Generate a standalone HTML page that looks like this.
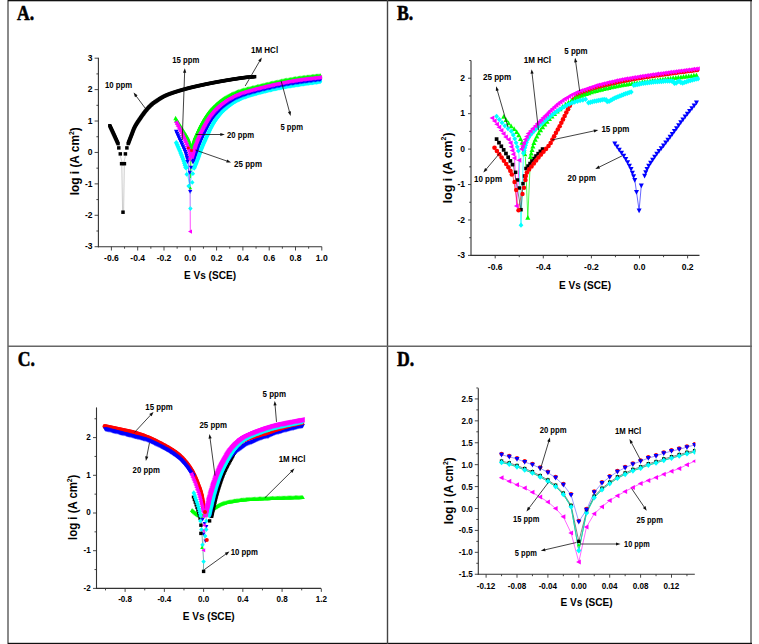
<!DOCTYPE html>
<html><head><meta charset="utf-8"><style>
html,body{margin:0;padding:0;background:#fff;}
body{width:759px;height:644px;overflow:hidden;position:relative;font-family:"Liberation Sans",sans-serif;}
svg{position:absolute;left:0;top:0;}
</style></head><body>
<svg width="759" height="644" viewBox="0 0 759 644">
<rect x="7" y="0" width="2" height="644" fill="#8a8a8a"/>
<rect x="750" y="0" width="2" height="644" fill="#8a8a8a"/>
<rect x="8" y="0" width="744" height="1.3" fill="#111"/>
<rect x="8" y="642.8" width="744" height="1.2" fill="#111"/>
<rect x="386.8" y="0" width="1.4" height="644" fill="#444"/>
<rect x="8" y="345.5" width="744" height="1.5" fill="#666"/>
<text x="17.1" y="20" font-family="Liberation Serif" font-weight="bold" font-size="20.3" textLength="17.17" lengthAdjust="spacingAndGlyphs" fill="#000" stroke="#000" stroke-width="0.55">A.</text>
<text x="397.1" y="20" font-family="Liberation Serif" font-weight="bold" font-size="20.3" textLength="16.2" lengthAdjust="spacingAndGlyphs" fill="#000" stroke="#000" stroke-width="0.55">B.</text>
<text x="17.7" y="365.6" font-family="Liberation Serif" font-weight="bold" font-size="20.3" textLength="17.17" lengthAdjust="spacingAndGlyphs" fill="#000" stroke="#000" stroke-width="0.55">C.</text>
<text x="397.1" y="365.6" font-family="Liberation Serif" font-weight="bold" font-size="20.3" textLength="17.17" lengthAdjust="spacingAndGlyphs" fill="#000" stroke="#000" stroke-width="0.55">D.</text>
<line x1="98.4" y1="57.8" x2="98.4" y2="247.2" stroke="#333" stroke-width="1.1"/>
<line x1="97.9" y1="246.7" x2="321.8" y2="246.7" stroke="#333" stroke-width="1.1"/>
<line x1="94.6" y1="246.71" x2="98.4" y2="246.71" stroke="#333" stroke-width="0.9"/>
<line x1="96.4" y1="231" x2="98.4" y2="231" stroke="#333" stroke-width="0.9"/>
<line x1="94.6" y1="215.29" x2="98.4" y2="215.29" stroke="#333" stroke-width="0.9"/>
<line x1="96.4" y1="199.58" x2="98.4" y2="199.58" stroke="#333" stroke-width="0.9"/>
<line x1="94.6" y1="183.87" x2="98.4" y2="183.87" stroke="#333" stroke-width="0.9"/>
<line x1="96.4" y1="168.16" x2="98.4" y2="168.16" stroke="#333" stroke-width="0.9"/>
<line x1="94.6" y1="152.45" x2="98.4" y2="152.45" stroke="#333" stroke-width="0.9"/>
<line x1="96.4" y1="136.74" x2="98.4" y2="136.74" stroke="#333" stroke-width="0.9"/>
<line x1="94.6" y1="121.03" x2="98.4" y2="121.03" stroke="#333" stroke-width="0.9"/>
<line x1="96.4" y1="105.32" x2="98.4" y2="105.32" stroke="#333" stroke-width="0.9"/>
<line x1="94.6" y1="89.61" x2="98.4" y2="89.61" stroke="#333" stroke-width="0.9"/>
<line x1="96.4" y1="73.9" x2="98.4" y2="73.9" stroke="#333" stroke-width="0.9"/>
<line x1="94.6" y1="58.19" x2="98.4" y2="58.19" stroke="#333" stroke-width="0.9"/>
<line x1="111.4" y1="246.7" x2="111.4" y2="250.5" stroke="#333" stroke-width="0.9"/>
<line x1="124.55" y1="246.7" x2="124.55" y2="248.7" stroke="#333" stroke-width="0.9"/>
<line x1="137.7" y1="246.7" x2="137.7" y2="250.5" stroke="#333" stroke-width="0.9"/>
<line x1="150.85" y1="246.7" x2="150.85" y2="248.7" stroke="#333" stroke-width="0.9"/>
<line x1="164" y1="246.7" x2="164" y2="250.5" stroke="#333" stroke-width="0.9"/>
<line x1="177.15" y1="246.7" x2="177.15" y2="248.7" stroke="#333" stroke-width="0.9"/>
<line x1="190.3" y1="246.7" x2="190.3" y2="250.5" stroke="#333" stroke-width="0.9"/>
<line x1="203.45" y1="246.7" x2="203.45" y2="248.7" stroke="#333" stroke-width="0.9"/>
<line x1="216.6" y1="246.7" x2="216.6" y2="250.5" stroke="#333" stroke-width="0.9"/>
<line x1="229.75" y1="246.7" x2="229.75" y2="248.7" stroke="#333" stroke-width="0.9"/>
<line x1="242.9" y1="246.7" x2="242.9" y2="250.5" stroke="#333" stroke-width="0.9"/>
<line x1="256.05" y1="246.7" x2="256.05" y2="248.7" stroke="#333" stroke-width="0.9"/>
<line x1="269.2" y1="246.7" x2="269.2" y2="250.5" stroke="#333" stroke-width="0.9"/>
<line x1="282.35" y1="246.7" x2="282.35" y2="248.7" stroke="#333" stroke-width="0.9"/>
<line x1="295.5" y1="246.7" x2="295.5" y2="250.5" stroke="#333" stroke-width="0.9"/>
<line x1="308.65" y1="246.7" x2="308.65" y2="248.7" stroke="#333" stroke-width="0.9"/>
<line x1="321.8" y1="246.7" x2="321.8" y2="250.5" stroke="#333" stroke-width="0.9"/>
<text x="85.01" y="249.4" font-family="Liberation Sans" font-weight="bold" font-size="9.7" textLength="7.59" lengthAdjust="spacingAndGlyphs" fill="#000">-3</text>
<text x="85.01" y="217.98" font-family="Liberation Sans" font-weight="bold" font-size="9.7" textLength="7.59" lengthAdjust="spacingAndGlyphs" fill="#000">-2</text>
<text x="85.01" y="186.56" font-family="Liberation Sans" font-weight="bold" font-size="9.7" textLength="7.59" lengthAdjust="spacingAndGlyphs" fill="#000">-1</text>
<text x="87.85" y="155.14" font-family="Liberation Sans" font-weight="bold" font-size="9.7" textLength="4.75" lengthAdjust="spacingAndGlyphs" fill="#000">0</text>
<text x="87.85" y="123.72" font-family="Liberation Sans" font-weight="bold" font-size="9.7" textLength="4.75" lengthAdjust="spacingAndGlyphs" fill="#000">1</text>
<text x="87.85" y="92.3" font-family="Liberation Sans" font-weight="bold" font-size="9.7" textLength="4.75" lengthAdjust="spacingAndGlyphs" fill="#000">2</text>
<text x="87.85" y="60.88" font-family="Liberation Sans" font-weight="bold" font-size="9.7" textLength="4.75" lengthAdjust="spacingAndGlyphs" fill="#000">3</text>
<text x="104.05" y="260.8" font-family="Liberation Sans" font-weight="bold" font-size="9.7" textLength="14.71" lengthAdjust="spacingAndGlyphs" fill="#000">-0.6</text>
<text x="130.35" y="260.8" font-family="Liberation Sans" font-weight="bold" font-size="9.7" textLength="14.71" lengthAdjust="spacingAndGlyphs" fill="#000">-0.4</text>
<text x="156.65" y="260.8" font-family="Liberation Sans" font-weight="bold" font-size="9.7" textLength="14.71" lengthAdjust="spacingAndGlyphs" fill="#000">-0.2</text>
<text x="184.37" y="260.8" font-family="Liberation Sans" font-weight="bold" font-size="9.7" textLength="11.87" lengthAdjust="spacingAndGlyphs" fill="#000">0.0</text>
<text x="210.67" y="260.8" font-family="Liberation Sans" font-weight="bold" font-size="9.7" textLength="11.87" lengthAdjust="spacingAndGlyphs" fill="#000">0.2</text>
<text x="236.97" y="260.8" font-family="Liberation Sans" font-weight="bold" font-size="9.7" textLength="11.87" lengthAdjust="spacingAndGlyphs" fill="#000">0.4</text>
<text x="263.27" y="260.8" font-family="Liberation Sans" font-weight="bold" font-size="9.7" textLength="11.87" lengthAdjust="spacingAndGlyphs" fill="#000">0.6</text>
<text x="289.57" y="260.8" font-family="Liberation Sans" font-weight="bold" font-size="9.7" textLength="11.87" lengthAdjust="spacingAndGlyphs" fill="#000">0.8</text>
<text x="315.87" y="260.8" font-family="Liberation Sans" font-weight="bold" font-size="9.7" textLength="11.87" lengthAdjust="spacingAndGlyphs" fill="#000">1.0</text>
<g transform="translate(79 161.3) rotate(-90)">
<text x="-34.04" y="0" font-family="Liberation Sans" font-weight="bold" font-size="12" textLength="60.28" lengthAdjust="spacingAndGlyphs">log i (A cm</text>
<text x="26.24" y="-5.4" font-family="Liberation Sans" font-weight="bold" font-size="7">2</text>
<text x="30.09" y="0" font-family="Liberation Sans" font-weight="bold" font-size="12" textLength="3.96" lengthAdjust="spacingAndGlyphs">)</text>
</g>
<text x="183.99" y="278.7" font-family="Liberation Sans" font-weight="bold" font-size="11" textLength="52.02" lengthAdjust="spacingAndGlyphs" fill="#000">E Vs (SCE)</text>
<line x1="471" y1="60.5" x2="471" y2="255.9" stroke="#333" stroke-width="1.1"/>
<line x1="470.5" y1="255.4" x2="699.5" y2="255.4" stroke="#333" stroke-width="1.1"/>
<line x1="468" y1="255.42" x2="471" y2="255.42" stroke="#333" stroke-width="0.9"/>
<line x1="469.2" y1="237.7" x2="471" y2="237.7" stroke="#333" stroke-width="0.9"/>
<line x1="468" y1="219.98" x2="471" y2="219.98" stroke="#333" stroke-width="0.9"/>
<line x1="469.2" y1="202.26" x2="471" y2="202.26" stroke="#333" stroke-width="0.9"/>
<line x1="468" y1="184.54" x2="471" y2="184.54" stroke="#333" stroke-width="0.9"/>
<line x1="469.2" y1="166.82" x2="471" y2="166.82" stroke="#333" stroke-width="0.9"/>
<line x1="468" y1="149.1" x2="471" y2="149.1" stroke="#333" stroke-width="0.9"/>
<line x1="469.2" y1="131.38" x2="471" y2="131.38" stroke="#333" stroke-width="0.9"/>
<line x1="468" y1="113.66" x2="471" y2="113.66" stroke="#333" stroke-width="0.9"/>
<line x1="469.2" y1="95.94" x2="471" y2="95.94" stroke="#333" stroke-width="0.9"/>
<line x1="468" y1="78.22" x2="471" y2="78.22" stroke="#333" stroke-width="0.9"/>
<line x1="469.2" y1="60.5" x2="471" y2="60.5" stroke="#333" stroke-width="0.9"/>
<line x1="495.2" y1="255.4" x2="495.2" y2="258.4" stroke="#333" stroke-width="0.9"/>
<line x1="519.25" y1="255.4" x2="519.25" y2="257.2" stroke="#333" stroke-width="0.9"/>
<line x1="543.3" y1="255.4" x2="543.3" y2="258.4" stroke="#333" stroke-width="0.9"/>
<line x1="567.35" y1="255.4" x2="567.35" y2="257.2" stroke="#333" stroke-width="0.9"/>
<line x1="591.4" y1="255.4" x2="591.4" y2="258.4" stroke="#333" stroke-width="0.9"/>
<line x1="615.45" y1="255.4" x2="615.45" y2="257.2" stroke="#333" stroke-width="0.9"/>
<line x1="639.5" y1="255.4" x2="639.5" y2="258.4" stroke="#333" stroke-width="0.9"/>
<line x1="663.55" y1="255.4" x2="663.55" y2="257.2" stroke="#333" stroke-width="0.9"/>
<line x1="687.6" y1="255.4" x2="687.6" y2="258.4" stroke="#333" stroke-width="0.9"/>
<text x="457.41" y="258.11" font-family="Liberation Sans" font-weight="bold" font-size="9.7" textLength="7.59" lengthAdjust="spacingAndGlyphs" fill="#000">-3</text>
<text x="457.41" y="222.67" font-family="Liberation Sans" font-weight="bold" font-size="9.7" textLength="7.59" lengthAdjust="spacingAndGlyphs" fill="#000">-2</text>
<text x="457.41" y="187.23" font-family="Liberation Sans" font-weight="bold" font-size="9.7" textLength="7.59" lengthAdjust="spacingAndGlyphs" fill="#000">-1</text>
<text x="460.25" y="151.79" font-family="Liberation Sans" font-weight="bold" font-size="9.7" textLength="4.75" lengthAdjust="spacingAndGlyphs" fill="#000">0</text>
<text x="460.25" y="116.35" font-family="Liberation Sans" font-weight="bold" font-size="9.7" textLength="4.75" lengthAdjust="spacingAndGlyphs" fill="#000">1</text>
<text x="460.25" y="80.91" font-family="Liberation Sans" font-weight="bold" font-size="9.7" textLength="4.75" lengthAdjust="spacingAndGlyphs" fill="#000">2</text>
<text x="487.85" y="269.5" font-family="Liberation Sans" font-weight="bold" font-size="9.7" textLength="14.71" lengthAdjust="spacingAndGlyphs" fill="#000">-0.6</text>
<text x="535.95" y="269.5" font-family="Liberation Sans" font-weight="bold" font-size="9.7" textLength="14.71" lengthAdjust="spacingAndGlyphs" fill="#000">-0.4</text>
<text x="584.05" y="269.5" font-family="Liberation Sans" font-weight="bold" font-size="9.7" textLength="14.71" lengthAdjust="spacingAndGlyphs" fill="#000">-0.2</text>
<text x="633.57" y="269.5" font-family="Liberation Sans" font-weight="bold" font-size="9.7" textLength="11.87" lengthAdjust="spacingAndGlyphs" fill="#000">0.0</text>
<text x="681.67" y="269.5" font-family="Liberation Sans" font-weight="bold" font-size="9.7" textLength="11.87" lengthAdjust="spacingAndGlyphs" fill="#000">0.2</text>
<g transform="translate(451.8 167.8) rotate(-90)">
<text x="-35.42" y="0" font-family="Liberation Sans" font-weight="bold" font-size="12" textLength="62.72" lengthAdjust="spacingAndGlyphs">log i (A cm</text>
<text x="27.3" y="-5.4" font-family="Liberation Sans" font-weight="bold" font-size="7">2</text>
<text x="31.3" y="0" font-family="Liberation Sans" font-weight="bold" font-size="12" textLength="4.12" lengthAdjust="spacingAndGlyphs">)</text>
</g>
<text x="558.99" y="288.7" font-family="Liberation Sans" font-weight="bold" font-size="11" textLength="52.02" lengthAdjust="spacingAndGlyphs" fill="#000">E Vs (SCE)</text>
<line x1="96.5" y1="407.4" x2="96.5" y2="588.9" stroke="#333" stroke-width="1.1"/>
<line x1="96" y1="588.4" x2="321" y2="588.4" stroke="#333" stroke-width="1.1"/>
<line x1="93" y1="588.4" x2="96.5" y2="588.4" stroke="#333" stroke-width="0.9"/>
<line x1="94.5" y1="569.55" x2="96.5" y2="569.55" stroke="#333" stroke-width="0.9"/>
<line x1="93" y1="550.7" x2="96.5" y2="550.7" stroke="#333" stroke-width="0.9"/>
<line x1="94.5" y1="531.85" x2="96.5" y2="531.85" stroke="#333" stroke-width="0.9"/>
<line x1="93" y1="513" x2="96.5" y2="513" stroke="#333" stroke-width="0.9"/>
<line x1="94.5" y1="494.15" x2="96.5" y2="494.15" stroke="#333" stroke-width="0.9"/>
<line x1="93" y1="475.3" x2="96.5" y2="475.3" stroke="#333" stroke-width="0.9"/>
<line x1="94.5" y1="456.45" x2="96.5" y2="456.45" stroke="#333" stroke-width="0.9"/>
<line x1="93" y1="437.6" x2="96.5" y2="437.6" stroke="#333" stroke-width="0.9"/>
<line x1="94.5" y1="418.75" x2="96.5" y2="418.75" stroke="#333" stroke-width="0.9"/>
<line x1="105.5" y1="588.4" x2="105.5" y2="590.4" stroke="#333" stroke-width="0.9"/>
<line x1="125.12" y1="588.4" x2="125.12" y2="591.9" stroke="#333" stroke-width="0.9"/>
<line x1="144.74" y1="588.4" x2="144.74" y2="590.4" stroke="#333" stroke-width="0.9"/>
<line x1="164.36" y1="588.4" x2="164.36" y2="591.9" stroke="#333" stroke-width="0.9"/>
<line x1="183.98" y1="588.4" x2="183.98" y2="590.4" stroke="#333" stroke-width="0.9"/>
<line x1="203.6" y1="588.4" x2="203.6" y2="591.9" stroke="#333" stroke-width="0.9"/>
<line x1="223.22" y1="588.4" x2="223.22" y2="590.4" stroke="#333" stroke-width="0.9"/>
<line x1="242.84" y1="588.4" x2="242.84" y2="591.9" stroke="#333" stroke-width="0.9"/>
<line x1="262.46" y1="588.4" x2="262.46" y2="590.4" stroke="#333" stroke-width="0.9"/>
<line x1="282.08" y1="588.4" x2="282.08" y2="591.9" stroke="#333" stroke-width="0.9"/>
<line x1="301.7" y1="588.4" x2="301.7" y2="590.4" stroke="#333" stroke-width="0.9"/>
<line x1="321.32" y1="588.4" x2="321.32" y2="591.9" stroke="#333" stroke-width="0.9"/>
<text x="83.6" y="590.77" font-family="Liberation Sans" font-weight="bold" font-size="8.8" textLength="7.2" lengthAdjust="spacingAndGlyphs" fill="#000">-2</text>
<text x="83.6" y="553.07" font-family="Liberation Sans" font-weight="bold" font-size="8.8" textLength="7.2" lengthAdjust="spacingAndGlyphs" fill="#000">-1</text>
<text x="86.3" y="515.37" font-family="Liberation Sans" font-weight="bold" font-size="8.8" textLength="4.5" lengthAdjust="spacingAndGlyphs" fill="#000">0</text>
<text x="86.3" y="477.67" font-family="Liberation Sans" font-weight="bold" font-size="8.8" textLength="4.5" lengthAdjust="spacingAndGlyphs" fill="#000">1</text>
<text x="86.3" y="439.97" font-family="Liberation Sans" font-weight="bold" font-size="8.8" textLength="4.5" lengthAdjust="spacingAndGlyphs" fill="#000">2</text>
<text x="118.15" y="601.9" font-family="Liberation Sans" font-weight="bold" font-size="8.8" textLength="13.95" lengthAdjust="spacingAndGlyphs" fill="#000">-0.8</text>
<text x="157.39" y="601.9" font-family="Liberation Sans" font-weight="bold" font-size="8.8" textLength="13.95" lengthAdjust="spacingAndGlyphs" fill="#000">-0.4</text>
<text x="197.97" y="601.9" font-family="Liberation Sans" font-weight="bold" font-size="8.8" textLength="11.25" lengthAdjust="spacingAndGlyphs" fill="#000">0.0</text>
<text x="237.21" y="601.9" font-family="Liberation Sans" font-weight="bold" font-size="8.8" textLength="11.25" lengthAdjust="spacingAndGlyphs" fill="#000">0.4</text>
<text x="276.45" y="601.9" font-family="Liberation Sans" font-weight="bold" font-size="8.8" textLength="11.25" lengthAdjust="spacingAndGlyphs" fill="#000">0.8</text>
<text x="315.69" y="601.9" font-family="Liberation Sans" font-weight="bold" font-size="8.8" textLength="11.25" lengthAdjust="spacingAndGlyphs" fill="#000">1.2</text>
<g transform="translate(77.4 507.3) rotate(-90)">
<text x="-32.67" y="0" font-family="Liberation Sans" font-weight="bold" font-size="12" textLength="57.84" lengthAdjust="spacingAndGlyphs">log i (A cm</text>
<text x="25.18" y="-5.4" font-family="Liberation Sans" font-weight="bold" font-size="7">2</text>
<text x="28.87" y="0" font-family="Liberation Sans" font-weight="bold" font-size="12" textLength="3.8" lengthAdjust="spacingAndGlyphs">)</text>
</g>
<text x="182.69" y="619.5" font-family="Liberation Sans" font-weight="bold" font-size="11" textLength="52.02" lengthAdjust="spacingAndGlyphs" fill="#000">E Vs (SCE)</text>
<line x1="478.3" y1="388.2" x2="478.3" y2="574.7" stroke="#333" stroke-width="1.1"/>
<line x1="477.8" y1="574.2" x2="694.8" y2="574.2" stroke="#333" stroke-width="1.1"/>
<line x1="474.8" y1="574.25" x2="478.3" y2="574.25" stroke="#333" stroke-width="0.9"/>
<line x1="476.3" y1="563.29" x2="478.3" y2="563.29" stroke="#333" stroke-width="0.9"/>
<line x1="474.8" y1="552.33" x2="478.3" y2="552.33" stroke="#333" stroke-width="0.9"/>
<line x1="476.3" y1="541.37" x2="478.3" y2="541.37" stroke="#333" stroke-width="0.9"/>
<line x1="474.8" y1="530.41" x2="478.3" y2="530.41" stroke="#333" stroke-width="0.9"/>
<line x1="476.3" y1="519.46" x2="478.3" y2="519.46" stroke="#333" stroke-width="0.9"/>
<line x1="474.8" y1="508.5" x2="478.3" y2="508.5" stroke="#333" stroke-width="0.9"/>
<line x1="476.3" y1="497.54" x2="478.3" y2="497.54" stroke="#333" stroke-width="0.9"/>
<line x1="474.8" y1="486.58" x2="478.3" y2="486.58" stroke="#333" stroke-width="0.9"/>
<line x1="476.3" y1="475.63" x2="478.3" y2="475.63" stroke="#333" stroke-width="0.9"/>
<line x1="474.8" y1="464.67" x2="478.3" y2="464.67" stroke="#333" stroke-width="0.9"/>
<line x1="476.3" y1="453.71" x2="478.3" y2="453.71" stroke="#333" stroke-width="0.9"/>
<line x1="474.8" y1="442.75" x2="478.3" y2="442.75" stroke="#333" stroke-width="0.9"/>
<line x1="476.3" y1="431.8" x2="478.3" y2="431.8" stroke="#333" stroke-width="0.9"/>
<line x1="474.8" y1="420.84" x2="478.3" y2="420.84" stroke="#333" stroke-width="0.9"/>
<line x1="476.3" y1="409.88" x2="478.3" y2="409.88" stroke="#333" stroke-width="0.9"/>
<line x1="474.8" y1="398.93" x2="478.3" y2="398.93" stroke="#333" stroke-width="0.9"/>
<line x1="476.3" y1="387.97" x2="478.3" y2="387.97" stroke="#333" stroke-width="0.9"/>
<line x1="486.1" y1="574.2" x2="486.1" y2="577.7" stroke="#333" stroke-width="0.9"/>
<line x1="501.55" y1="574.2" x2="501.55" y2="576.2" stroke="#333" stroke-width="0.9"/>
<line x1="517" y1="574.2" x2="517" y2="577.7" stroke="#333" stroke-width="0.9"/>
<line x1="532.45" y1="574.2" x2="532.45" y2="576.2" stroke="#333" stroke-width="0.9"/>
<line x1="547.9" y1="574.2" x2="547.9" y2="577.7" stroke="#333" stroke-width="0.9"/>
<line x1="563.35" y1="574.2" x2="563.35" y2="576.2" stroke="#333" stroke-width="0.9"/>
<line x1="578.8" y1="574.2" x2="578.8" y2="577.7" stroke="#333" stroke-width="0.9"/>
<line x1="594.25" y1="574.2" x2="594.25" y2="576.2" stroke="#333" stroke-width="0.9"/>
<line x1="609.7" y1="574.2" x2="609.7" y2="577.7" stroke="#333" stroke-width="0.9"/>
<line x1="625.15" y1="574.2" x2="625.15" y2="576.2" stroke="#333" stroke-width="0.9"/>
<line x1="640.6" y1="574.2" x2="640.6" y2="577.7" stroke="#333" stroke-width="0.9"/>
<line x1="656.05" y1="574.2" x2="656.05" y2="576.2" stroke="#333" stroke-width="0.9"/>
<line x1="671.5" y1="574.2" x2="671.5" y2="577.7" stroke="#333" stroke-width="0.9"/>
<line x1="686.95" y1="574.2" x2="686.95" y2="576.2" stroke="#333" stroke-width="0.9"/>
<text x="458.85" y="577.31" font-family="Liberation Sans" font-weight="bold" font-size="8.8" textLength="13.95" lengthAdjust="spacingAndGlyphs" fill="#000">-1.5</text>
<text x="458.85" y="555.4" font-family="Liberation Sans" font-weight="bold" font-size="8.8" textLength="13.95" lengthAdjust="spacingAndGlyphs" fill="#000">-1.0</text>
<text x="458.85" y="533.48" font-family="Liberation Sans" font-weight="bold" font-size="8.8" textLength="13.95" lengthAdjust="spacingAndGlyphs" fill="#000">-0.5</text>
<text x="461.55" y="511.57" font-family="Liberation Sans" font-weight="bold" font-size="8.8" textLength="11.25" lengthAdjust="spacingAndGlyphs" fill="#000">0.0</text>
<text x="461.55" y="489.65" font-family="Liberation Sans" font-weight="bold" font-size="8.8" textLength="11.25" lengthAdjust="spacingAndGlyphs" fill="#000">0.5</text>
<text x="461.55" y="467.74" font-family="Liberation Sans" font-weight="bold" font-size="8.8" textLength="11.25" lengthAdjust="spacingAndGlyphs" fill="#000">1.0</text>
<text x="461.55" y="445.82" font-family="Liberation Sans" font-weight="bold" font-size="8.8" textLength="11.25" lengthAdjust="spacingAndGlyphs" fill="#000">1.5</text>
<text x="461.55" y="423.91" font-family="Liberation Sans" font-weight="bold" font-size="8.8" textLength="11.25" lengthAdjust="spacingAndGlyphs" fill="#000">2.0</text>
<text x="461.55" y="401.99" font-family="Liberation Sans" font-weight="bold" font-size="8.8" textLength="11.25" lengthAdjust="spacingAndGlyphs" fill="#000">2.5</text>
<text x="476.87" y="588.6" font-family="Liberation Sans" font-weight="bold" font-size="8.8" textLength="18.45" lengthAdjust="spacingAndGlyphs" fill="#000">-0.12</text>
<text x="507.77" y="588.6" font-family="Liberation Sans" font-weight="bold" font-size="8.8" textLength="18.45" lengthAdjust="spacingAndGlyphs" fill="#000">-0.08</text>
<text x="538.67" y="588.6" font-family="Liberation Sans" font-weight="bold" font-size="8.8" textLength="18.45" lengthAdjust="spacingAndGlyphs" fill="#000">-0.04</text>
<text x="570.92" y="588.6" font-family="Liberation Sans" font-weight="bold" font-size="8.8" textLength="15.76" lengthAdjust="spacingAndGlyphs" fill="#000">0.00</text>
<text x="601.82" y="588.6" font-family="Liberation Sans" font-weight="bold" font-size="8.8" textLength="15.76" lengthAdjust="spacingAndGlyphs" fill="#000">0.04</text>
<text x="632.72" y="588.6" font-family="Liberation Sans" font-weight="bold" font-size="8.8" textLength="15.76" lengthAdjust="spacingAndGlyphs" fill="#000">0.08</text>
<text x="663.62" y="588.6" font-family="Liberation Sans" font-weight="bold" font-size="8.8" textLength="15.76" lengthAdjust="spacingAndGlyphs" fill="#000">0.12</text>
<g transform="translate(453.2 490.8) rotate(-90)">
<text x="-33.36" y="0" font-family="Liberation Sans" font-weight="bold" font-size="12" textLength="59.06" lengthAdjust="spacingAndGlyphs">log i (A cm</text>
<text x="25.71" y="-5.4" font-family="Liberation Sans" font-weight="bold" font-size="7">2</text>
<text x="29.48" y="0" font-family="Liberation Sans" font-weight="bold" font-size="12" textLength="3.88" lengthAdjust="spacingAndGlyphs">)</text>
</g>
<text x="560.59" y="606.3" font-family="Liberation Sans" font-weight="bold" font-size="11" textLength="52.02" lengthAdjust="spacingAndGlyphs" fill="#000">E Vs (SCE)</text>
<defs><clipPath id="cA"><rect x="0" y="0" width="322.2" height="346"/></clipPath><clipPath id="cB"><rect x="388" y="0" width="311.8" height="346"/></clipPath><clipPath id="cD"><rect x="388" y="346" width="307.3" height="298"/></clipPath></defs>
<g clip-path="url(#cA)">
<polyline points="120.3,156 122,162" fill="none" stroke="#bbb" stroke-width="0.6" stroke-linejoin="round"/>
<polyline points="125.4,156 124,162" fill="none" stroke="#bbb" stroke-width="0.6" stroke-linejoin="round"/>
<polyline points="121.8,165 122.6,212.2" fill="none" stroke="#aaa" stroke-width="0.6" stroke-linejoin="round"/>
<polyline points="124.3,165 123.6,212.2" fill="none" stroke="#aaa" stroke-width="0.6" stroke-linejoin="round"/>
<rect x="108.1" y="124" width="3.4" height="3.4" fill="#000000"/><rect x="108.56" y="125" width="3.4" height="3.4" fill="#000000"/><rect x="109.03" y="126" width="3.4" height="3.4" fill="#000000"/><rect x="109.49" y="126.99" width="3.4" height="3.4" fill="#000000"/><rect x="109.95" y="127.99" width="3.4" height="3.4" fill="#000000"/><rect x="110.42" y="128.99" width="3.4" height="3.4" fill="#000000"/><rect x="110.88" y="129.99" width="3.4" height="3.4" fill="#000000"/><rect x="111.34" y="130.98" width="3.4" height="3.4" fill="#000000"/><rect x="111.8" y="131.98" width="3.4" height="3.4" fill="#000000"/><rect x="112.26" y="132.98" width="3.4" height="3.4" fill="#000000"/><rect x="112.72" y="133.98" width="3.4" height="3.4" fill="#000000"/><rect x="113.18" y="134.98" width="3.4" height="3.4" fill="#000000"/><rect x="113.63" y="135.99" width="3.4" height="3.4" fill="#000000"/><rect x="114.08" y="136.99" width="3.4" height="3.4" fill="#000000"/><rect x="114.54" y="137.99" width="3.4" height="3.4" fill="#000000"/><rect x="114.99" y="138.99" width="3.4" height="3.4" fill="#000000"/><rect x="115.44" y="140" width="3.4" height="3.4" fill="#000000"/><rect x="115.89" y="141" width="3.4" height="3.4" fill="#000000"/><rect x="116.34" y="142" width="3.4" height="3.4" fill="#000000"/>
<rect x="117.05" y="146.15" width="3.5" height="3.5" fill="#000000"/><rect x="125.15" y="146.15" width="3.5" height="3.5" fill="#000000"/><rect x="118.55" y="152.15" width="3.5" height="3.5" fill="#000000"/><rect x="123.65" y="152.15" width="3.5" height="3.5" fill="#000000"/><rect x="119.85" y="161.95" width="3.5" height="3.5" fill="#000000"/><rect x="122.65" y="161.95" width="3.5" height="3.5" fill="#000000"/><rect x="121.25" y="210.45" width="3.5" height="3.5" fill="#000000"/>
<rect x="126.5" y="141.9" width="3.4" height="3.4" fill="#000000"/><rect x="126.86" y="140.97" width="3.4" height="3.4" fill="#000000"/><rect x="127.21" y="140.03" width="3.4" height="3.4" fill="#000000"/><rect x="127.56" y="139.1" width="3.4" height="3.4" fill="#000000"/><rect x="127.92" y="138.16" width="3.4" height="3.4" fill="#000000"/><rect x="128.28" y="137.23" width="3.4" height="3.4" fill="#000000"/><rect x="128.63" y="136.29" width="3.4" height="3.4" fill="#000000"/><rect x="128.99" y="135.36" width="3.4" height="3.4" fill="#000000"/><rect x="129.36" y="134.43" width="3.4" height="3.4" fill="#000000"/><rect x="129.72" y="133.5" width="3.4" height="3.4" fill="#000000"/><rect x="130.09" y="132.57" width="3.4" height="3.4" fill="#000000"/><rect x="130.44" y="131.63" width="3.4" height="3.4" fill="#000000"/><rect x="130.79" y="130.69" width="3.4" height="3.4" fill="#000000"/><rect x="131.14" y="129.75" width="3.4" height="3.4" fill="#000000"/><rect x="131.49" y="128.82" width="3.4" height="3.4" fill="#000000"/><rect x="131.86" y="127.89" width="3.4" height="3.4" fill="#000000"/><rect x="132.25" y="126.97" width="3.4" height="3.4" fill="#000000"/><rect x="132.67" y="126.06" width="3.4" height="3.4" fill="#000000"/><rect x="133.11" y="125.16" width="3.4" height="3.4" fill="#000000"/><rect x="133.58" y="124.28" width="3.4" height="3.4" fill="#000000"/><rect x="134.08" y="123.41" width="3.4" height="3.4" fill="#000000"/><rect x="134.59" y="122.56" width="3.4" height="3.4" fill="#000000"/><rect x="135.12" y="121.71" width="3.4" height="3.4" fill="#000000"/><rect x="135.66" y="120.87" width="3.4" height="3.4" fill="#000000"/><rect x="136.21" y="120.03" width="3.4" height="3.4" fill="#000000"/><rect x="136.77" y="119.2" width="3.4" height="3.4" fill="#000000"/><rect x="137.33" y="118.37" width="3.4" height="3.4" fill="#000000"/><rect x="137.89" y="117.55" width="3.4" height="3.4" fill="#000000"/><rect x="138.46" y="116.73" width="3.4" height="3.4" fill="#000000"/><rect x="139.03" y="115.9" width="3.4" height="3.4" fill="#000000"/><rect x="139.6" y="115.08" width="3.4" height="3.4" fill="#000000"/><rect x="140.17" y="114.26" width="3.4" height="3.4" fill="#000000"/><rect x="140.75" y="113.44" width="3.4" height="3.4" fill="#000000"/><rect x="141.33" y="112.63" width="3.4" height="3.4" fill="#000000"/><rect x="141.93" y="111.83" width="3.4" height="3.4" fill="#000000"/><rect x="142.52" y="111.02" width="3.4" height="3.4" fill="#000000"/><rect x="143.13" y="110.23" width="3.4" height="3.4" fill="#000000"/><rect x="143.74" y="109.44" width="3.4" height="3.4" fill="#000000"/><rect x="144.37" y="108.66" width="3.4" height="3.4" fill="#000000"/><rect x="145.01" y="107.89" width="3.4" height="3.4" fill="#000000"/><rect x="145.66" y="107.13" width="3.4" height="3.4" fill="#000000"/><rect x="146.32" y="106.38" width="3.4" height="3.4" fill="#000000"/><rect x="147.01" y="105.65" width="3.4" height="3.4" fill="#000000"/><rect x="147.71" y="104.94" width="3.4" height="3.4" fill="#000000"/><rect x="148.42" y="104.24" width="3.4" height="3.4" fill="#000000"/><rect x="149.15" y="103.55" width="3.4" height="3.4" fill="#000000"/><rect x="149.88" y="102.87" width="3.4" height="3.4" fill="#000000"/><rect x="150.63" y="102.21" width="3.4" height="3.4" fill="#000000"/><rect x="151.4" y="101.57" width="3.4" height="3.4" fill="#000000"/><rect x="152.2" y="100.98" width="3.4" height="3.4" fill="#000000"/><rect x="153.03" y="100.41" width="3.4" height="3.4" fill="#000000"/><rect x="153.86" y="99.86" width="3.4" height="3.4" fill="#000000"/><rect x="154.7" y="99.31" width="3.4" height="3.4" fill="#000000"/><rect x="155.52" y="98.75" width="3.4" height="3.4" fill="#000000"/><rect x="156.35" y="98.19" width="3.4" height="3.4" fill="#000000"/><rect x="157.19" y="97.64" width="3.4" height="3.4" fill="#000000"/><rect x="158.03" y="97.09" width="3.4" height="3.4" fill="#000000"/><rect x="158.87" y="96.56" width="3.4" height="3.4" fill="#000000"/><rect x="159.73" y="96.05" width="3.4" height="3.4" fill="#000000"/><rect x="160.59" y="95.54" width="3.4" height="3.4" fill="#000000"/><rect x="161.47" y="95.06" width="3.4" height="3.4" fill="#000000"/><rect x="162.36" y="94.6" width="3.4" height="3.4" fill="#000000"/><rect x="163.25" y="94.16" width="3.4" height="3.4" fill="#000000"/><rect x="164.16" y="93.74" width="3.4" height="3.4" fill="#000000"/><rect x="165.08" y="93.34" width="3.4" height="3.4" fill="#000000"/><rect x="166" y="92.96" width="3.4" height="3.4" fill="#000000"/><rect x="166.93" y="92.59" width="3.4" height="3.4" fill="#000000"/><rect x="167.87" y="92.24" width="3.4" height="3.4" fill="#000000"/><rect x="168.81" y="91.89" width="3.4" height="3.4" fill="#000000"/><rect x="169.75" y="91.56" width="3.4" height="3.4" fill="#000000"/><rect x="170.69" y="91.23" width="3.4" height="3.4" fill="#000000"/><rect x="171.64" y="90.91" width="3.4" height="3.4" fill="#000000"/><rect x="172.59" y="90.59" width="3.4" height="3.4" fill="#000000"/><rect x="173.54" y="90.29" width="3.4" height="3.4" fill="#000000"/><rect x="174.49" y="89.98" width="3.4" height="3.4" fill="#000000"/><rect x="175.45" y="89.68" width="3.4" height="3.4" fill="#000000"/><rect x="176.4" y="89.39" width="3.4" height="3.4" fill="#000000"/><rect x="177.36" y="89.1" width="3.4" height="3.4" fill="#000000"/><rect x="178.32" y="88.81" width="3.4" height="3.4" fill="#000000"/><rect x="179.28" y="88.53" width="3.4" height="3.4" fill="#000000"/><rect x="180.24" y="88.25" width="3.4" height="3.4" fill="#000000"/><rect x="181.2" y="87.97" width="3.4" height="3.4" fill="#000000"/><rect x="182.16" y="87.7" width="3.4" height="3.4" fill="#000000"/><rect x="183.12" y="87.43" width="3.4" height="3.4" fill="#000000"/><rect x="184.09" y="87.16" width="3.4" height="3.4" fill="#000000"/><rect x="185.05" y="86.9" width="3.4" height="3.4" fill="#000000"/><rect x="186.02" y="86.65" width="3.4" height="3.4" fill="#000000"/><rect x="186.99" y="86.4" width="3.4" height="3.4" fill="#000000"/><rect x="187.96" y="86.15" width="3.4" height="3.4" fill="#000000"/><rect x="188.93" y="85.91" width="3.4" height="3.4" fill="#000000"/><rect x="189.9" y="85.67" width="3.4" height="3.4" fill="#000000"/><rect x="190.87" y="85.44" width="3.4" height="3.4" fill="#000000"/><rect x="191.85" y="85.21" width="3.4" height="3.4" fill="#000000"/><rect x="192.82" y="84.98" width="3.4" height="3.4" fill="#000000"/><rect x="193.79" y="84.76" width="3.4" height="3.4" fill="#000000"/><rect x="194.77" y="84.53" width="3.4" height="3.4" fill="#000000"/><rect x="195.74" y="84.31" width="3.4" height="3.4" fill="#000000"/><rect x="196.72" y="84.1" width="3.4" height="3.4" fill="#000000"/><rect x="197.7" y="83.88" width="3.4" height="3.4" fill="#000000"/><rect x="198.67" y="83.66" width="3.4" height="3.4" fill="#000000"/><rect x="199.65" y="83.45" width="3.4" height="3.4" fill="#000000"/><rect x="200.63" y="83.24" width="3.4" height="3.4" fill="#000000"/><rect x="201.61" y="83.03" width="3.4" height="3.4" fill="#000000"/><rect x="202.58" y="82.82" width="3.4" height="3.4" fill="#000000"/><rect x="203.56" y="82.61" width="3.4" height="3.4" fill="#000000"/><rect x="204.54" y="82.4" width="3.4" height="3.4" fill="#000000"/><rect x="205.52" y="82.2" width="3.4" height="3.4" fill="#000000"/><rect x="206.5" y="82" width="3.4" height="3.4" fill="#000000"/><rect x="207.48" y="81.8" width="3.4" height="3.4" fill="#000000"/><rect x="208.46" y="81.61" width="3.4" height="3.4" fill="#000000"/><rect x="209.44" y="81.41" width="3.4" height="3.4" fill="#000000"/><rect x="210.42" y="81.22" width="3.4" height="3.4" fill="#000000"/><rect x="211.4" y="81.03" width="3.4" height="3.4" fill="#000000"/><rect x="212.39" y="80.84" width="3.4" height="3.4" fill="#000000"/><rect x="213.37" y="80.66" width="3.4" height="3.4" fill="#000000"/><rect x="214.35" y="80.48" width="3.4" height="3.4" fill="#000000"/><rect x="215.33" y="80.29" width="3.4" height="3.4" fill="#000000"/><rect x="216.32" y="80.11" width="3.4" height="3.4" fill="#000000"/><rect x="217.3" y="79.93" width="3.4" height="3.4" fill="#000000"/><rect x="218.29" y="79.76" width="3.4" height="3.4" fill="#000000"/><rect x="219.27" y="79.58" width="3.4" height="3.4" fill="#000000"/><rect x="220.26" y="79.41" width="3.4" height="3.4" fill="#000000"/><rect x="221.24" y="79.23" width="3.4" height="3.4" fill="#000000"/><rect x="222.23" y="79.06" width="3.4" height="3.4" fill="#000000"/><rect x="223.21" y="78.89" width="3.4" height="3.4" fill="#000000"/><rect x="224.2" y="78.72" width="3.4" height="3.4" fill="#000000"/><rect x="225.18" y="78.56" width="3.4" height="3.4" fill="#000000"/><rect x="226.17" y="78.39" width="3.4" height="3.4" fill="#000000"/><rect x="227.16" y="78.23" width="3.4" height="3.4" fill="#000000"/><rect x="228.14" y="78.06" width="3.4" height="3.4" fill="#000000"/><rect x="229.13" y="77.9" width="3.4" height="3.4" fill="#000000"/><rect x="230.12" y="77.74" width="3.4" height="3.4" fill="#000000"/><rect x="231.1" y="77.59" width="3.4" height="3.4" fill="#000000"/><rect x="232.09" y="77.43" width="3.4" height="3.4" fill="#000000"/><rect x="233.08" y="77.28" width="3.4" height="3.4" fill="#000000"/><rect x="234.07" y="77.12" width="3.4" height="3.4" fill="#000000"/><rect x="235.06" y="76.97" width="3.4" height="3.4" fill="#000000"/><rect x="236.04" y="76.82" width="3.4" height="3.4" fill="#000000"/><rect x="237.03" y="76.67" width="3.4" height="3.4" fill="#000000"/><rect x="238.02" y="76.53" width="3.4" height="3.4" fill="#000000"/><rect x="239.01" y="76.39" width="3.4" height="3.4" fill="#000000"/><rect x="240" y="76.25" width="3.4" height="3.4" fill="#000000"/><rect x="240.99" y="76.11" width="3.4" height="3.4" fill="#000000"/><rect x="241.99" y="75.98" width="3.4" height="3.4" fill="#000000"/><rect x="242.98" y="75.85" width="3.4" height="3.4" fill="#000000"/><rect x="243.97" y="75.73" width="3.4" height="3.4" fill="#000000"/><rect x="244.96" y="75.62" width="3.4" height="3.4" fill="#000000"/><rect x="245.96" y="75.52" width="3.4" height="3.4" fill="#000000"/><rect x="246.95" y="75.43" width="3.4" height="3.4" fill="#000000"/><rect x="247.95" y="75.34" width="3.4" height="3.4" fill="#000000"/><rect x="248.95" y="75.26" width="3.4" height="3.4" fill="#000000"/><rect x="249.94" y="75.18" width="3.4" height="3.4" fill="#000000"/><rect x="250.94" y="75.1" width="3.4" height="3.4" fill="#000000"/><rect x="251.94" y="75.03" width="3.4" height="3.4" fill="#000000"/><rect x="252.94" y="74.96" width="3.4" height="3.4" fill="#000000"/>
<polyline points="190,157 190.3,231.6" fill="none" stroke="#ff00ff" stroke-width="0.7" stroke-linejoin="round"/>
<polyline points="188,161 190,192" fill="none" stroke="#0000ff" stroke-width="0.6" stroke-linejoin="round"/>
<polyline points="186,168.7 190,186 192.5,168" fill="none" stroke="#00ffff" stroke-width="0.6" stroke-linejoin="round"/>
<polyline points="191,152 190.5,178 191,152" fill="none" stroke="#00ff00" stroke-width="0.6" stroke-linejoin="round"/>
<path d="M175.6 115.87L177.9 120.24L173.3 120.24Z" fill="#00ff00"/><path d="M176.63 117.58L178.93 121.95L174.33 121.95Z" fill="#00ff00"/><path d="M177.67 119.29L179.97 123.66L175.37 123.66Z" fill="#00ff00"/><path d="M178.7 121.01L181 125.38L176.4 125.38Z" fill="#00ff00"/><path d="M179.74 122.72L182.04 127.09L177.44 127.09Z" fill="#00ff00"/><path d="M180.77 124.43L183.07 128.8L178.47 128.8Z" fill="#00ff00"/><path d="M181.8 126.14L184.1 130.51L179.5 130.51Z" fill="#00ff00"/><path d="M182.85 127.85L185.15 132.22L180.55 132.22Z" fill="#00ff00"/><path d="M183.92 129.54L186.22 133.91L181.62 133.91Z" fill="#00ff00"/><path d="M184.99 131.22L187.29 135.59L182.69 135.59Z" fill="#00ff00"/><path d="M186.05 132.92L188.35 137.29L183.75 137.29Z" fill="#00ff00"/><path d="M187.07 134.64L189.37 139.01L184.77 139.01Z" fill="#00ff00"/><path d="M188.02 136.4L190.32 140.77L185.72 140.77Z" fill="#00ff00"/><path d="M188.83 138.23L191.13 142.6L186.53 142.6Z" fill="#00ff00"/><path d="M189.47 140.12L191.77 144.49L187.17 144.49Z" fill="#00ff00"/><path d="M189.98 142.06L192.28 146.43L187.68 146.43Z" fill="#00ff00"/><path d="M190.4 144.01L192.7 148.38L188.1 148.38Z" fill="#00ff00"/><path d="M190.76 145.98L193.06 150.35L188.46 150.35Z" fill="#00ff00"/><path d="M190.92 147.97L193.22 152.34L188.62 152.34Z" fill="#00ff00"/>
<path d="M191 149.47L193.3 153.84L188.7 153.84Z" fill="#00ff00"/><path d="M191.32 148.21L193.62 152.58L189.02 152.58Z" fill="#00ff00"/><path d="M191.64 146.95L193.94 151.32L189.34 151.32Z" fill="#00ff00"/><path d="M191.96 145.69L194.26 150.06L189.66 150.06Z" fill="#00ff00"/><path d="M192.28 144.43L194.58 148.8L189.98 148.8Z" fill="#00ff00"/><path d="M192.61 143.17L194.91 147.54L190.31 147.54Z" fill="#00ff00"/><path d="M192.95 141.92L195.25 146.29L190.65 146.29Z" fill="#00ff00"/><path d="M193.29 140.66L195.59 145.03L190.99 145.03Z" fill="#00ff00"/><path d="M193.66 139.42L195.96 143.79L191.36 143.79Z" fill="#00ff00"/><path d="M194.06 138.18L196.36 142.55L191.76 142.55Z" fill="#00ff00"/><path d="M194.48 136.95L196.78 141.32L192.18 141.32Z" fill="#00ff00"/><path d="M194.94 135.74L197.24 140.11L192.64 140.11Z" fill="#00ff00"/><path d="M195.45 134.54L197.75 138.91L193.15 138.91Z" fill="#00ff00"/><path d="M195.97 133.35L198.27 137.72L193.67 137.72Z" fill="#00ff00"/><path d="M196.51 132.16L198.81 136.53L194.21 136.53Z" fill="#00ff00"/><path d="M197.05 130.98L199.35 135.35L194.75 135.35Z" fill="#00ff00"/><path d="M197.58 129.79L199.88 134.16L195.28 134.16Z" fill="#00ff00"/><path d="M198.12 128.61L200.42 132.98L195.82 132.98Z" fill="#00ff00"/><path d="M198.66 127.43L200.96 131.8L196.36 131.8Z" fill="#00ff00"/><path d="M199.21 126.25L201.51 130.62L196.91 130.62Z" fill="#00ff00"/><path d="M199.77 125.08L202.07 129.45L197.47 129.45Z" fill="#00ff00"/><path d="M200.35 123.91L202.65 128.28L198.05 128.28Z" fill="#00ff00"/><path d="M200.94 122.76L203.24 127.13L198.64 127.13Z" fill="#00ff00"/><path d="M201.56 121.61L203.86 125.98L199.26 125.98Z" fill="#00ff00"/><path d="M202.19 120.48L204.49 124.85L199.89 124.85Z" fill="#00ff00"/><path d="M202.85 119.35L205.15 123.72L200.55 123.72Z" fill="#00ff00"/><path d="M203.5 118.23L205.8 122.6L201.2 122.6Z" fill="#00ff00"/><path d="M204.16 117.11L206.46 121.48L201.86 121.48Z" fill="#00ff00"/><path d="M204.83 115.99L207.13 120.36L202.53 120.36Z" fill="#00ff00"/><path d="M205.51 114.89L207.81 119.26L203.21 119.26Z" fill="#00ff00"/><path d="M206.21 113.79L208.51 118.16L203.91 118.16Z" fill="#00ff00"/><path d="M206.93 112.71L209.23 117.08L204.63 117.08Z" fill="#00ff00"/><path d="M207.68 111.65L209.98 116.02L205.38 116.02Z" fill="#00ff00"/><path d="M208.46 110.61L210.76 114.98L206.16 114.98Z" fill="#00ff00"/><path d="M209.26 109.59L211.56 113.96L206.96 113.96Z" fill="#00ff00"/><path d="M210.1 108.59L212.4 112.96L207.8 112.96Z" fill="#00ff00"/><path d="M210.96 107.62L213.26 111.99L208.66 111.99Z" fill="#00ff00"/><path d="M211.84 106.66L214.14 111.03L209.54 111.03Z" fill="#00ff00"/><path d="M212.74 105.72L215.04 110.09L210.44 110.09Z" fill="#00ff00"/><path d="M213.65 104.79L215.95 109.16L211.35 109.16Z" fill="#00ff00"/><path d="M214.58 103.88L216.88 108.25L212.28 108.25Z" fill="#00ff00"/><path d="M215.52 102.99L217.82 107.36L213.22 107.36Z" fill="#00ff00"/><path d="M216.48 102.11L218.78 106.48L214.18 106.48Z" fill="#00ff00"/><path d="M217.46 101.25L219.76 105.62L215.16 105.62Z" fill="#00ff00"/><path d="M218.45 100.41L220.75 104.78L216.15 104.78Z" fill="#00ff00"/><path d="M219.46 99.59L221.76 103.96L217.16 103.96Z" fill="#00ff00"/><path d="M220.48 98.8L222.78 103.17L218.18 103.17Z" fill="#00ff00"/><path d="M221.53 98.02L223.83 102.39L219.23 102.39Z" fill="#00ff00"/><path d="M222.59 97.27L224.89 101.64L220.29 101.64Z" fill="#00ff00"/><path d="M223.67 96.54L225.97 100.91L221.37 100.91Z" fill="#00ff00"/><path d="M224.76 95.84L227.06 100.21L222.46 100.21Z" fill="#00ff00"/><path d="M225.87 95.16L228.17 99.53L223.57 99.53Z" fill="#00ff00"/><path d="M226.99 94.5L229.29 98.87L224.69 98.87Z" fill="#00ff00"/><path d="M228.12 93.87L230.42 98.24L225.82 98.24Z" fill="#00ff00"/><path d="M229.27 93.25L231.57 97.62L226.97 97.62Z" fill="#00ff00"/><path d="M230.43 92.66L232.73 97.03L228.13 97.03Z" fill="#00ff00"/><path d="M231.6 92.09L233.9 96.46L229.3 96.46Z" fill="#00ff00"/><path d="M232.77 91.55L235.07 95.92L230.47 95.92Z" fill="#00ff00"/><path d="M233.96 91.02L236.26 95.39L231.66 95.39Z" fill="#00ff00"/><path d="M235.16 90.51L237.46 94.88L232.86 94.88Z" fill="#00ff00"/><path d="M236.36 90.02L238.66 94.39L234.06 94.39Z" fill="#00ff00"/><path d="M237.58 89.55L239.88 93.92L235.28 93.92Z" fill="#00ff00"/><path d="M238.8 89.11L241.1 93.48L236.5 93.48Z" fill="#00ff00"/><path d="M240.03 88.69L242.33 93.06L237.73 93.06Z" fill="#00ff00"/><path d="M241.27 88.3L243.57 92.67L238.97 92.67Z" fill="#00ff00"/><path d="M242.51 87.93L244.81 92.3L240.21 92.3Z" fill="#00ff00"/><path d="M243.77 87.58L246.07 91.95L241.47 91.95Z" fill="#00ff00"/><path d="M245.02 87.24L247.32 91.61L242.72 91.61Z" fill="#00ff00"/><path d="M246.28 86.91L248.58 91.28L243.98 91.28Z" fill="#00ff00"/><path d="M247.54 86.6L249.84 90.97L245.24 90.97Z" fill="#00ff00"/><path d="M248.8 86.29L251.1 90.66L246.5 90.66Z" fill="#00ff00"/><path d="M250.07 85.98L252.37 90.35L247.77 90.35Z" fill="#00ff00"/><path d="M251.33 85.67L253.63 90.04L249.03 90.04Z" fill="#00ff00"/><path d="M252.59 85.37L254.89 89.74L250.29 89.74Z" fill="#00ff00"/><path d="M253.86 85.06L256.16 89.43L251.56 89.43Z" fill="#00ff00"/><path d="M255.12 84.74L257.42 89.11L252.82 89.11Z" fill="#00ff00"/><path d="M256.38 84.43L258.68 88.8L254.08 88.8Z" fill="#00ff00"/><path d="M257.64 84.11L259.94 88.48L255.34 88.48Z" fill="#00ff00"/><path d="M258.9 83.8L261.2 88.17L256.6 88.17Z" fill="#00ff00"/><path d="M260.17 83.49L262.47 87.86L257.87 87.86Z" fill="#00ff00"/><path d="M261.43 83.19L263.73 87.56L259.13 87.56Z" fill="#00ff00"/><path d="M262.69 82.88L264.99 87.25L260.39 87.25Z" fill="#00ff00"/><path d="M263.96 82.58L266.26 86.95L261.66 86.95Z" fill="#00ff00"/><path d="M265.22 82.28L267.52 86.65L262.92 86.65Z" fill="#00ff00"/><path d="M266.49 81.98L268.79 86.35L264.19 86.35Z" fill="#00ff00"/><path d="M267.75 81.69L270.05 86.06L265.45 86.06Z" fill="#00ff00"/><path d="M269.02 81.39L271.32 85.76L266.72 85.76Z" fill="#00ff00"/><path d="M270.29 81.1L272.59 85.47L267.99 85.47Z" fill="#00ff00"/><path d="M271.55 80.81L273.85 85.18L269.25 85.18Z" fill="#00ff00"/><path d="M272.82 80.53L275.12 84.9L270.52 84.9Z" fill="#00ff00"/><path d="M274.09 80.24L276.39 84.61L271.79 84.61Z" fill="#00ff00"/><path d="M275.36 79.96L277.66 84.33L273.06 84.33Z" fill="#00ff00"/><path d="M276.63 79.69L278.93 84.06L274.33 84.06Z" fill="#00ff00"/><path d="M277.9 79.41L280.2 83.78L275.6 83.78Z" fill="#00ff00"/><path d="M279.17 79.14L281.47 83.51L276.87 83.51Z" fill="#00ff00"/><path d="M280.45 78.88L282.75 83.25L278.15 83.25Z" fill="#00ff00"/><path d="M281.72 78.62L284.02 82.99L279.42 82.99Z" fill="#00ff00"/><path d="M282.99 78.36L285.29 82.73L280.69 82.73Z" fill="#00ff00"/><path d="M284.27 78.11L286.57 82.48L281.97 82.48Z" fill="#00ff00"/><path d="M285.55 77.86L287.85 82.23L283.25 82.23Z" fill="#00ff00"/><path d="M286.82 77.62L289.12 81.99L284.52 81.99Z" fill="#00ff00"/><path d="M288.1 77.39L290.4 81.76L285.8 81.76Z" fill="#00ff00"/><path d="M289.38 77.16L291.68 81.53L287.08 81.53Z" fill="#00ff00"/><path d="M290.66 76.93L292.96 81.3L288.36 81.3Z" fill="#00ff00"/><path d="M291.94 76.71L294.24 81.08L289.64 81.08Z" fill="#00ff00"/><path d="M293.23 76.5L295.53 80.87L290.93 80.87Z" fill="#00ff00"/><path d="M294.51 76.29L296.81 80.66L292.21 80.66Z" fill="#00ff00"/><path d="M295.79 76.09L298.09 80.46L293.49 80.46Z" fill="#00ff00"/><path d="M297.08 75.9L299.38 80.27L294.78 80.27Z" fill="#00ff00"/><path d="M298.36 75.71L300.66 80.08L296.06 80.08Z" fill="#00ff00"/><path d="M299.65 75.52L301.95 79.89L297.35 79.89Z" fill="#00ff00"/><path d="M300.94 75.34L303.24 79.71L298.64 79.71Z" fill="#00ff00"/><path d="M302.23 75.17L304.53 79.54L299.93 79.54Z" fill="#00ff00"/><path d="M303.52 75.01L305.82 79.38L301.22 79.38Z" fill="#00ff00"/><path d="M304.81 74.85L307.11 79.22L302.51 79.22Z" fill="#00ff00"/><path d="M306.1 74.7L308.4 79.07L303.8 79.07Z" fill="#00ff00"/><path d="M307.39 74.55L309.69 78.92L305.09 78.92Z" fill="#00ff00"/><path d="M308.68 74.41L310.98 78.78L306.38 78.78Z" fill="#00ff00"/><path d="M309.97 74.27L312.27 78.64L307.67 78.64Z" fill="#00ff00"/><path d="M311.27 74.13L313.57 78.5L308.97 78.5Z" fill="#00ff00"/><path d="M312.56 73.99L314.86 78.36L310.26 78.36Z" fill="#00ff00"/><path d="M313.85 73.86L316.15 78.23L311.55 78.23Z" fill="#00ff00"/><path d="M315.15 73.73L317.45 78.1L312.85 78.1Z" fill="#00ff00"/><path d="M316.44 73.59L318.74 77.96L314.14 77.96Z" fill="#00ff00"/><path d="M317.73 73.46L320.03 77.83L315.43 77.83Z" fill="#00ff00"/><path d="M319.03 73.33L321.33 77.7L316.73 77.7Z" fill="#00ff00"/><path d="M320.32 73.2L322.62 77.57L318.02 77.57Z" fill="#00ff00"/>
<path d="M176.3 140.05L178.8 142.8L176.3 145.55L173.8 142.8Z" fill="#00ffff"/><path d="M177.19 142.06L179.69 144.81L177.19 147.56L174.69 144.81Z" fill="#00ffff"/><path d="M178.07 144.08L180.57 146.83L178.07 149.58L175.57 146.83Z" fill="#00ffff"/><path d="M178.95 146.09L181.45 148.84L178.95 151.59L176.45 148.84Z" fill="#00ffff"/><path d="M179.82 148.12L182.32 150.87L179.82 153.62L177.32 150.87Z" fill="#00ffff"/><path d="M180.66 150.15L183.16 152.9L180.66 155.65L178.16 152.9Z" fill="#00ffff"/><path d="M181.48 152.19L183.98 154.94L181.48 157.69L178.98 154.94Z" fill="#00ffff"/><path d="M182.28 154.24L184.78 156.99L182.28 159.74L179.78 156.99Z" fill="#00ffff"/><path d="M183.06 156.3L185.56 159.05L183.06 161.8L180.56 159.05Z" fill="#00ffff"/><path d="M183.8 158.37L186.3 161.12L183.8 163.87L181.3 161.12Z" fill="#00ffff"/><path d="M184.48 160.46L186.98 163.21L184.48 165.96L181.98 163.21Z" fill="#00ffff"/><path d="M185.09 162.57L187.59 165.32L185.09 168.07L182.59 165.32Z" fill="#00ffff"/><path d="M185.66 164.7L188.16 167.45L185.66 170.2L183.16 167.45Z" fill="#00ffff"/>
<path d="M194.2 165.36L196.6 168L194.2 170.64L191.8 168Z" fill="#00ffff"/><path d="M194.68 164.15L197.08 166.79L194.68 169.43L192.28 166.79Z" fill="#00ffff"/><path d="M195.15 162.94L197.55 165.58L195.15 168.22L192.75 165.58Z" fill="#00ffff"/><path d="M195.63 161.73L198.03 164.37L195.63 167.01L193.23 164.37Z" fill="#00ffff"/><path d="M196.11 160.52L198.51 163.16L196.11 165.8L193.71 163.16Z" fill="#00ffff"/><path d="M196.58 159.31L198.98 161.95L196.58 164.59L194.18 161.95Z" fill="#00ffff"/><path d="M197.06 158.1L199.46 160.74L197.06 163.38L194.66 160.74Z" fill="#00ffff"/><path d="M197.53 156.89L199.93 159.53L197.53 162.17L195.13 159.53Z" fill="#00ffff"/><path d="M197.99 155.68L200.39 158.32L197.99 160.96L195.59 158.32Z" fill="#00ffff"/><path d="M198.45 154.46L200.85 157.1L198.45 159.74L196.05 157.1Z" fill="#00ffff"/><path d="M198.89 153.24L201.29 155.88L198.89 158.52L196.49 155.88Z" fill="#00ffff"/><path d="M199.31 152.01L201.71 154.65L199.31 157.29L196.91 154.65Z" fill="#00ffff"/><path d="M199.73 150.78L202.13 153.42L199.73 156.06L197.33 153.42Z" fill="#00ffff"/><path d="M200.15 149.55L202.55 152.19L200.15 154.83L197.75 152.19Z" fill="#00ffff"/><path d="M200.58 148.32L202.98 150.96L200.58 153.6L198.18 150.96Z" fill="#00ffff"/><path d="M201.02 147.1L203.42 149.74L201.02 152.38L198.62 149.74Z" fill="#00ffff"/><path d="M201.49 145.88L203.89 148.52L201.49 151.16L199.09 148.52Z" fill="#00ffff"/><path d="M201.98 144.68L204.38 147.32L201.98 149.96L199.58 147.32Z" fill="#00ffff"/><path d="M202.48 143.48L204.88 146.12L202.48 148.76L200.08 146.12Z" fill="#00ffff"/><path d="M202.98 142.28L205.38 144.92L202.98 147.56L200.58 144.92Z" fill="#00ffff"/><path d="M203.5 141.09L205.9 143.73L203.5 146.37L201.1 143.73Z" fill="#00ffff"/><path d="M204.02 139.89L206.42 142.53L204.02 145.17L201.62 142.53Z" fill="#00ffff"/><path d="M204.54 138.71L206.94 141.35L204.54 143.99L202.14 141.35Z" fill="#00ffff"/><path d="M205.08 137.52L207.48 140.16L205.08 142.8L202.68 140.16Z" fill="#00ffff"/><path d="M205.62 136.34L208.02 138.98L205.62 141.62L203.22 138.98Z" fill="#00ffff"/><path d="M206.16 135.16L208.56 137.8L206.16 140.44L203.76 137.8Z" fill="#00ffff"/><path d="M206.71 133.98L209.11 136.62L206.71 139.26L204.31 136.62Z" fill="#00ffff"/><path d="M207.26 132.8L209.66 135.44L207.26 138.08L204.86 135.44Z" fill="#00ffff"/><path d="M207.81 131.62L210.21 134.26L207.81 136.9L205.41 134.26Z" fill="#00ffff"/><path d="M208.35 130.44L210.75 133.08L208.35 135.72L205.95 133.08Z" fill="#00ffff"/><path d="M208.89 129.26L211.29 131.9L208.89 134.54L206.49 131.9Z" fill="#00ffff"/><path d="M209.44 128.08L211.84 130.72L209.44 133.36L207.04 130.72Z" fill="#00ffff"/><path d="M210 126.9L212.4 129.54L210 132.18L207.6 129.54Z" fill="#00ffff"/><path d="M210.56 125.73L212.96 128.37L210.56 131.01L208.16 128.37Z" fill="#00ffff"/><path d="M211.14 124.57L213.54 127.21L211.14 129.85L208.74 127.21Z" fill="#00ffff"/><path d="M211.74 123.42L214.14 126.06L211.74 128.7L209.34 126.06Z" fill="#00ffff"/><path d="M212.37 122.28L214.77 124.92L212.37 127.56L209.97 124.92Z" fill="#00ffff"/><path d="M213.02 121.15L215.42 123.79L213.02 126.43L210.62 123.79Z" fill="#00ffff"/><path d="M213.7 120.04L216.1 122.68L213.7 125.32L211.3 122.68Z" fill="#00ffff"/><path d="M214.39 118.95L216.79 121.59L214.39 124.23L211.99 121.59Z" fill="#00ffff"/><path d="M215.1 117.86L217.5 120.5L215.1 123.14L212.7 120.5Z" fill="#00ffff"/><path d="M215.83 116.78L218.23 119.42L215.83 122.06L213.43 119.42Z" fill="#00ffff"/><path d="M216.57 115.71L218.97 118.35L216.57 120.99L214.17 118.35Z" fill="#00ffff"/><path d="M217.34 114.66L219.74 117.3L217.34 119.94L214.94 117.3Z" fill="#00ffff"/><path d="M218.12 113.62L220.52 116.26L218.12 118.9L215.72 116.26Z" fill="#00ffff"/><path d="M218.93 112.61L221.33 115.25L218.93 117.89L216.53 115.25Z" fill="#00ffff"/><path d="M219.76 111.61L222.16 114.25L219.76 116.89L217.36 114.25Z" fill="#00ffff"/><path d="M220.62 110.63L223.02 113.27L220.62 115.91L218.22 113.27Z" fill="#00ffff"/><path d="M221.5 109.68L223.9 112.32L221.5 114.96L219.1 112.32Z" fill="#00ffff"/><path d="M222.41 108.75L224.81 111.39L222.41 114.03L220.01 111.39Z" fill="#00ffff"/><path d="M223.34 107.84L225.74 110.48L223.34 113.12L220.94 110.48Z" fill="#00ffff"/><path d="M224.29 106.95L226.69 109.59L224.29 112.23L221.89 109.59Z" fill="#00ffff"/><path d="M225.25 106.07L227.65 108.71L225.25 111.35L222.85 108.71Z" fill="#00ffff"/><path d="M226.23 105.21L228.63 107.85L226.23 110.49L223.83 107.85Z" fill="#00ffff"/><path d="M227.22 104.37L229.62 107.01L227.22 109.65L224.82 107.01Z" fill="#00ffff"/><path d="M228.22 103.55L230.62 106.19L228.22 108.83L225.82 106.19Z" fill="#00ffff"/><path d="M229.25 102.75L231.65 105.39L229.25 108.03L226.85 105.39Z" fill="#00ffff"/><path d="M230.29 101.97L232.69 104.61L230.29 107.25L227.89 104.61Z" fill="#00ffff"/><path d="M231.35 101.21L233.75 103.85L231.35 106.49L228.95 103.85Z" fill="#00ffff"/><path d="M232.42 100.48L234.82 103.12L232.42 105.76L230.02 103.12Z" fill="#00ffff"/><path d="M233.51 99.77L235.91 102.41L233.51 105.05L231.11 102.41Z" fill="#00ffff"/><path d="M234.61 99.09L237.01 101.73L234.61 104.37L232.21 101.73Z" fill="#00ffff"/><path d="M235.74 98.43L238.14 101.07L235.74 103.71L233.34 101.07Z" fill="#00ffff"/><path d="M236.88 97.81L239.28 100.45L236.88 103.09L234.48 100.45Z" fill="#00ffff"/><path d="M238.03 97.2L240.43 99.84L238.03 102.48L235.63 99.84Z" fill="#00ffff"/><path d="M239.19 96.62L241.59 99.26L239.19 101.9L236.79 99.26Z" fill="#00ffff"/><path d="M240.37 96.08L242.77 98.72L240.37 101.36L237.97 98.72Z" fill="#00ffff"/><path d="M241.56 95.56L243.96 98.2L241.56 100.84L239.16 98.2Z" fill="#00ffff"/><path d="M242.76 95.06L245.16 97.7L242.76 100.34L240.36 97.7Z" fill="#00ffff"/><path d="M243.97 94.59L246.37 97.23L243.97 99.87L241.57 97.23Z" fill="#00ffff"/><path d="M245.19 94.14L247.59 96.78L245.19 99.42L242.79 96.78Z" fill="#00ffff"/><path d="M246.42 93.71L248.82 96.35L246.42 98.99L244.02 96.35Z" fill="#00ffff"/><path d="M247.65 93.29L250.05 95.93L247.65 98.57L245.25 95.93Z" fill="#00ffff"/><path d="M248.88 92.88L251.28 95.52L248.88 98.16L246.48 95.52Z" fill="#00ffff"/><path d="M250.12 92.48L252.52 95.12L250.12 97.76L247.72 95.12Z" fill="#00ffff"/><path d="M251.36 92.09L253.76 94.73L251.36 97.37L248.96 94.73Z" fill="#00ffff"/><path d="M252.61 91.71L255.01 94.35L252.61 96.99L250.21 94.35Z" fill="#00ffff"/><path d="M253.85 91.35L256.25 93.99L253.85 96.63L251.45 93.99Z" fill="#00ffff"/><path d="M255.1 90.99L257.5 93.63L255.1 96.27L252.7 93.63Z" fill="#00ffff"/><path d="M256.36 90.65L258.76 93.29L256.36 95.93L253.96 93.29Z" fill="#00ffff"/><path d="M257.61 90.31L260.01 92.95L257.61 95.59L255.21 92.95Z" fill="#00ffff"/><path d="M258.87 89.97L261.27 92.61L258.87 95.25L256.47 92.61Z" fill="#00ffff"/><path d="M260.13 89.64L262.53 92.28L260.13 94.92L257.73 92.28Z" fill="#00ffff"/><path d="M261.38 89.32L263.78 91.96L261.38 94.6L258.98 91.96Z" fill="#00ffff"/><path d="M262.64 89L265.04 91.64L262.64 94.28L260.24 91.64Z" fill="#00ffff"/><path d="M263.91 88.68L266.31 91.32L263.91 93.96L261.51 91.32Z" fill="#00ffff"/><path d="M265.17 88.37L267.57 91.01L265.17 93.65L262.77 91.01Z" fill="#00ffff"/><path d="M266.43 88.06L268.83 90.7L266.43 93.34L264.03 90.7Z" fill="#00ffff"/><path d="M267.7 87.76L270.1 90.4L267.7 93.04L265.3 90.4Z" fill="#00ffff"/><path d="M268.96 87.46L271.36 90.1L268.96 92.74L266.56 90.1Z" fill="#00ffff"/><path d="M270.23 87.17L272.63 89.81L270.23 92.45L267.83 89.81Z" fill="#00ffff"/><path d="M271.49 86.87L273.89 89.51L271.49 92.15L269.09 89.51Z" fill="#00ffff"/><path d="M272.76 86.58L275.16 89.22L272.76 91.86L270.36 89.22Z" fill="#00ffff"/><path d="M274.03 86.3L276.43 88.94L274.03 91.58L271.63 88.94Z" fill="#00ffff"/><path d="M275.3 86.01L277.7 88.65L275.3 91.29L272.9 88.65Z" fill="#00ffff"/><path d="M276.57 85.74L278.97 88.38L276.57 91.02L274.17 88.38Z" fill="#00ffff"/><path d="M277.84 85.47L280.24 88.11L277.84 90.75L275.44 88.11Z" fill="#00ffff"/><path d="M279.11 85.2L281.51 87.84L279.11 90.48L276.71 87.84Z" fill="#00ffff"/><path d="M280.39 84.95L282.79 87.59L280.39 90.23L277.99 87.59Z" fill="#00ffff"/><path d="M281.66 84.7L284.06 87.34L281.66 89.98L279.26 87.34Z" fill="#00ffff"/><path d="M282.94 84.46L285.34 87.1L282.94 89.74L280.54 87.1Z" fill="#00ffff"/><path d="M284.22 84.22L286.62 86.86L284.22 89.5L281.82 86.86Z" fill="#00ffff"/><path d="M285.5 83.99L287.9 86.63L285.5 89.27L283.1 86.63Z" fill="#00ffff"/><path d="M286.78 83.77L289.18 86.41L286.78 89.05L284.38 86.41Z" fill="#00ffff"/><path d="M288.06 83.55L290.46 86.19L288.06 88.83L285.66 86.19Z" fill="#00ffff"/><path d="M289.34 83.34L291.74 85.98L289.34 88.62L286.94 85.98Z" fill="#00ffff"/><path d="M290.63 83.13L293.03 85.77L290.63 88.41L288.23 85.77Z" fill="#00ffff"/><path d="M291.91 82.92L294.31 85.56L291.91 88.2L289.51 85.56Z" fill="#00ffff"/><path d="M293.19 82.72L295.59 85.36L293.19 88L290.79 85.36Z" fill="#00ffff"/><path d="M294.48 82.52L296.88 85.16L294.48 87.8L292.08 85.16Z" fill="#00ffff"/><path d="M295.76 82.31L298.16 84.95L295.76 87.59L293.36 84.95Z" fill="#00ffff"/><path d="M297.05 82.11L299.45 84.75L297.05 87.39L294.65 84.75Z" fill="#00ffff"/><path d="M298.33 81.91L300.73 84.55L298.33 87.19L295.93 84.55Z" fill="#00ffff"/><path d="M299.61 81.71L302.01 84.35L299.61 86.99L297.21 84.35Z" fill="#00ffff"/><path d="M300.9 81.52L303.3 84.16L300.9 86.8L298.5 84.16Z" fill="#00ffff"/><path d="M302.19 81.33L304.59 83.97L302.19 86.61L299.79 83.97Z" fill="#00ffff"/><path d="M303.47 81.14L305.87 83.78L303.47 86.42L301.07 83.78Z" fill="#00ffff"/><path d="M304.76 80.95L307.16 83.59L304.76 86.23L302.36 83.59Z" fill="#00ffff"/><path d="M306.05 80.77L308.45 83.41L306.05 86.05L303.65 83.41Z" fill="#00ffff"/><path d="M307.33 80.59L309.73 83.23L307.33 85.87L304.93 83.23Z" fill="#00ffff"/><path d="M308.62 80.41L311.02 83.05L308.62 85.69L306.22 83.05Z" fill="#00ffff"/><path d="M309.91 80.23L312.31 82.87L309.91 85.51L307.51 82.87Z" fill="#00ffff"/><path d="M311.2 80.06L313.6 82.7L311.2 85.34L308.8 82.7Z" fill="#00ffff"/><path d="M312.49 79.88L314.89 82.52L312.49 85.16L310.09 82.52Z" fill="#00ffff"/><path d="M313.77 79.71L316.17 82.35L313.77 84.99L311.37 82.35Z" fill="#00ffff"/><path d="M315.06 79.53L317.46 82.17L315.06 84.81L312.66 82.17Z" fill="#00ffff"/><path d="M316.35 79.36L318.75 82L316.35 84.64L313.95 82Z" fill="#00ffff"/><path d="M317.64 79.19L320.04 81.83L317.64 84.47L315.24 81.83Z" fill="#00ffff"/><path d="M318.93 79.01L321.33 81.65L318.93 84.29L316.53 81.65Z" fill="#00ffff"/><path d="M320.21 78.84L322.61 81.48L320.21 84.12L317.81 81.48Z" fill="#00ffff"/>
<path d="M176.3 134.23L178.6 129.86L174 129.86Z" fill="#0000ff"/><path d="M177.13 136.05L179.43 131.68L174.83 131.68Z" fill="#0000ff"/><path d="M177.97 137.87L180.27 133.5L175.67 133.5Z" fill="#0000ff"/><path d="M178.8 139.68L181.1 135.31L176.5 135.31Z" fill="#0000ff"/><path d="M179.63 141.5L181.93 137.13L177.33 137.13Z" fill="#0000ff"/><path d="M180.46 143.32L182.76 138.95L178.16 138.95Z" fill="#0000ff"/><path d="M181.28 145.15L183.58 140.78L178.98 140.78Z" fill="#0000ff"/><path d="M182.11 146.97L184.41 142.6L179.81 142.6Z" fill="#0000ff"/><path d="M182.95 148.78L185.25 144.41L180.65 144.41Z" fill="#0000ff"/><path d="M183.78 150.6L186.08 146.23L181.48 146.23Z" fill="#0000ff"/><path d="M184.57 152.44L186.87 148.07L182.27 148.07Z" fill="#0000ff"/><path d="M185.31 154.3L187.61 149.93L183.01 149.93Z" fill="#0000ff"/><path d="M185.97 156.19L188.27 151.82L183.67 151.82Z" fill="#0000ff"/><path d="M186.54 158.1L188.84 153.73L184.24 153.73Z" fill="#0000ff"/><path d="M187.08 160.03L189.38 155.66L184.78 155.66Z" fill="#0000ff"/><path d="M187.58 161.96L189.88 157.59L185.28 157.59Z" fill="#0000ff"/>
<path d="M192.98 164.45L195.28 160.08L190.68 160.08Z" fill="#0000ff"/><path d="M193.4 163.22L195.7 158.85L191.1 158.85Z" fill="#0000ff"/><path d="M193.82 161.99L196.12 157.62L191.52 157.62Z" fill="#0000ff"/><path d="M194.24 160.76L196.54 156.39L191.94 156.39Z" fill="#0000ff"/><path d="M194.66 159.53L196.96 155.16L192.36 155.16Z" fill="#0000ff"/><path d="M195.08 158.3L197.38 153.93L192.78 153.93Z" fill="#0000ff"/><path d="M195.5 157.07L197.8 152.7L193.2 152.7Z" fill="#0000ff"/><path d="M195.93 155.84L198.23 151.47L193.63 151.47Z" fill="#0000ff"/><path d="M196.36 154.61L198.66 150.24L194.06 150.24Z" fill="#0000ff"/><path d="M196.79 153.39L199.09 149.02L194.49 149.02Z" fill="#0000ff"/><path d="M197.22 152.16L199.52 147.79L194.92 147.79Z" fill="#0000ff"/><path d="M197.65 150.93L199.95 146.56L195.35 146.56Z" fill="#0000ff"/><path d="M198.08 149.71L200.38 145.34L195.78 145.34Z" fill="#0000ff"/><path d="M198.53 148.49L200.83 144.12L196.23 144.12Z" fill="#0000ff"/><path d="M199 147.27L201.3 142.9L196.7 142.9Z" fill="#0000ff"/><path d="M199.48 146.07L201.78 141.7L197.18 141.7Z" fill="#0000ff"/><path d="M199.99 144.87L202.29 140.5L197.69 140.5Z" fill="#0000ff"/><path d="M200.5 143.67L202.8 139.3L198.2 139.3Z" fill="#0000ff"/><path d="M201.01 142.48L203.31 138.11L198.71 138.11Z" fill="#0000ff"/><path d="M201.54 141.29L203.84 136.92L199.24 136.92Z" fill="#0000ff"/><path d="M202.07 140.1L204.37 135.73L199.77 135.73Z" fill="#0000ff"/><path d="M202.6 138.92L204.9 134.55L200.3 134.55Z" fill="#0000ff"/><path d="M203.15 137.74L205.45 133.37L200.85 133.37Z" fill="#0000ff"/><path d="M203.71 136.56L206.01 132.19L201.41 132.19Z" fill="#0000ff"/><path d="M204.27 135.39L206.57 131.02L201.97 131.02Z" fill="#0000ff"/><path d="M204.85 134.23L207.15 129.86L202.55 129.86Z" fill="#0000ff"/><path d="M205.44 133.07L207.74 128.7L203.14 128.7Z" fill="#0000ff"/><path d="M206.03 131.91L208.33 127.54L203.73 127.54Z" fill="#0000ff"/><path d="M206.61 130.75L208.91 126.38L204.31 126.38Z" fill="#0000ff"/><path d="M207.2 129.59L209.5 125.22L204.9 125.22Z" fill="#0000ff"/><path d="M207.79 128.44L210.09 124.07L205.49 124.07Z" fill="#0000ff"/><path d="M208.4 127.29L210.7 122.92L206.1 122.92Z" fill="#0000ff"/><path d="M209.02 126.14L211.32 121.77L206.72 121.77Z" fill="#0000ff"/><path d="M209.66 125.01L211.96 120.64L207.36 120.64Z" fill="#0000ff"/><path d="M210.33 123.89L212.63 119.52L208.03 119.52Z" fill="#0000ff"/><path d="M211.01 122.79L213.31 118.42L208.71 118.42Z" fill="#0000ff"/><path d="M211.73 121.71L214.03 117.34L209.43 117.34Z" fill="#0000ff"/><path d="M212.48 120.64L214.78 116.27L210.18 116.27Z" fill="#0000ff"/><path d="M213.25 119.6L215.55 115.23L210.95 115.23Z" fill="#0000ff"/><path d="M214.03 118.56L216.33 114.19L211.73 114.19Z" fill="#0000ff"/><path d="M214.84 117.54L217.14 113.17L212.54 113.17Z" fill="#0000ff"/><path d="M215.66 116.53L217.96 112.16L213.36 112.16Z" fill="#0000ff"/><path d="M216.49 115.53L218.79 111.16L214.19 111.16Z" fill="#0000ff"/><path d="M217.35 114.56L219.65 110.19L215.05 110.19Z" fill="#0000ff"/><path d="M218.23 113.6L220.53 109.23L215.93 109.23Z" fill="#0000ff"/><path d="M219.13 112.66L221.43 108.29L216.83 108.29Z" fill="#0000ff"/><path d="M220.05 111.74L222.35 107.37L217.75 107.37Z" fill="#0000ff"/><path d="M220.99 110.84L223.29 106.47L218.69 106.47Z" fill="#0000ff"/><path d="M221.95 109.97L224.25 105.6L219.65 105.6Z" fill="#0000ff"/><path d="M222.93 109.12L225.23 104.75L220.63 104.75Z" fill="#0000ff"/><path d="M223.93 108.29L226.23 103.92L221.63 103.92Z" fill="#0000ff"/><path d="M224.95 107.47L227.25 103.1L222.65 103.1Z" fill="#0000ff"/><path d="M225.97 106.68L228.27 102.31L223.67 102.31Z" fill="#0000ff"/><path d="M227.02 105.9L229.32 101.53L224.72 101.53Z" fill="#0000ff"/><path d="M228.08 105.15L230.38 100.78L225.78 100.78Z" fill="#0000ff"/><path d="M229.15 104.41L231.45 100.04L226.85 100.04Z" fill="#0000ff"/><path d="M230.23 103.7L232.53 99.33L227.93 99.33Z" fill="#0000ff"/><path d="M231.33 103.01L233.63 98.64L229.03 98.64Z" fill="#0000ff"/><path d="M232.45 102.34L234.75 97.97L230.15 97.97Z" fill="#0000ff"/><path d="M233.58 101.69L235.88 97.32L231.28 97.32Z" fill="#0000ff"/><path d="M234.72 101.07L237.02 96.7L232.42 96.7Z" fill="#0000ff"/><path d="M235.88 100.48L238.18 96.11L233.58 96.11Z" fill="#0000ff"/><path d="M237.05 99.91L239.35 95.54L234.75 95.54Z" fill="#0000ff"/><path d="M238.23 99.37L240.53 95L235.93 95Z" fill="#0000ff"/><path d="M239.42 98.85L241.72 94.48L237.12 94.48Z" fill="#0000ff"/><path d="M240.62 98.36L242.92 93.99L238.32 93.99Z" fill="#0000ff"/><path d="M241.84 97.9L244.14 93.53L239.54 93.53Z" fill="#0000ff"/><path d="M243.06 97.45L245.36 93.08L240.76 93.08Z" fill="#0000ff"/><path d="M244.29 97.03L246.59 92.66L241.99 92.66Z" fill="#0000ff"/><path d="M245.53 96.62L247.83 92.25L243.23 92.25Z" fill="#0000ff"/><path d="M246.76 96.23L249.06 91.86L244.46 91.86Z" fill="#0000ff"/><path d="M248.01 95.85L250.31 91.48L245.71 91.48Z" fill="#0000ff"/><path d="M249.25 95.47L251.55 91.1L246.95 91.1Z" fill="#0000ff"/><path d="M250.5 95.11L252.8 90.74L248.2 90.74Z" fill="#0000ff"/><path d="M251.75 94.74L254.05 90.37L249.45 90.37Z" fill="#0000ff"/><path d="M252.99 94.38L255.29 90.01L250.69 90.01Z" fill="#0000ff"/><path d="M254.25 94.03L256.55 89.66L251.95 89.66Z" fill="#0000ff"/><path d="M255.5 93.68L257.8 89.31L253.2 89.31Z" fill="#0000ff"/><path d="M256.75 93.34L259.05 88.97L254.45 88.97Z" fill="#0000ff"/><path d="M258.01 93.01L260.31 88.64L255.71 88.64Z" fill="#0000ff"/><path d="M259.27 92.68L261.57 88.31L256.97 88.31Z" fill="#0000ff"/><path d="M260.53 92.36L262.83 87.99L258.23 87.99Z" fill="#0000ff"/><path d="M261.79 92.04L264.09 87.67L259.49 87.67Z" fill="#0000ff"/><path d="M263.05 91.72L265.35 87.35L260.75 87.35Z" fill="#0000ff"/><path d="M264.31 91.41L266.61 87.04L262.01 87.04Z" fill="#0000ff"/><path d="M265.58 91.11L267.88 86.74L263.28 86.74Z" fill="#0000ff"/><path d="M266.84 90.8L269.14 86.43L264.54 86.43Z" fill="#0000ff"/><path d="M268.1 90.5L270.4 86.13L265.8 86.13Z" fill="#0000ff"/><path d="M269.37 90.2L271.67 85.83L267.07 85.83Z" fill="#0000ff"/><path d="M270.64 89.91L272.94 85.54L268.34 85.54Z" fill="#0000ff"/><path d="M271.9 89.62L274.2 85.25L269.6 85.25Z" fill="#0000ff"/><path d="M273.17 89.33L275.47 84.96L270.87 84.96Z" fill="#0000ff"/><path d="M274.44 89.04L276.74 84.67L272.14 84.67Z" fill="#0000ff"/><path d="M275.71 88.76L278.01 84.39L273.41 84.39Z" fill="#0000ff"/><path d="M276.98 88.49L279.28 84.12L274.68 84.12Z" fill="#0000ff"/><path d="M278.25 88.22L280.55 83.85L275.95 83.85Z" fill="#0000ff"/><path d="M279.52 87.95L281.82 83.58L277.22 83.58Z" fill="#0000ff"/><path d="M280.8 87.69L283.1 83.32L278.5 83.32Z" fill="#0000ff"/><path d="M282.07 87.44L284.37 83.07L279.77 83.07Z" fill="#0000ff"/><path d="M283.35 87.19L285.65 82.82L281.05 82.82Z" fill="#0000ff"/><path d="M284.62 86.95L286.92 82.58L282.32 82.58Z" fill="#0000ff"/><path d="M285.9 86.71L288.2 82.34L283.6 82.34Z" fill="#0000ff"/><path d="M287.18 86.49L289.48 82.12L284.88 82.12Z" fill="#0000ff"/><path d="M288.46 86.26L290.76 81.89L286.16 81.89Z" fill="#0000ff"/><path d="M289.75 86.05L292.05 81.68L287.45 81.68Z" fill="#0000ff"/><path d="M291.03 85.83L293.33 81.46L288.73 81.46Z" fill="#0000ff"/><path d="M292.31 85.63L294.61 81.26L290.01 81.26Z" fill="#0000ff"/><path d="M293.59 85.42L295.89 81.05L291.29 81.05Z" fill="#0000ff"/><path d="M294.88 85.22L297.18 80.85L292.58 80.85Z" fill="#0000ff"/><path d="M296.16 85.02L298.46 80.65L293.86 80.65Z" fill="#0000ff"/><path d="M297.45 84.82L299.75 80.45L295.15 80.45Z" fill="#0000ff"/><path d="M298.73 84.63L301.03 80.26L296.43 80.26Z" fill="#0000ff"/><path d="M300.02 84.43L302.32 80.06L297.72 80.06Z" fill="#0000ff"/><path d="M301.31 84.25L303.61 79.88L299.01 79.88Z" fill="#0000ff"/><path d="M302.59 84.07L304.89 79.7L300.29 79.7Z" fill="#0000ff"/><path d="M303.88 83.89L306.18 79.52L301.58 79.52Z" fill="#0000ff"/><path d="M305.17 83.72L307.47 79.35L302.87 79.35Z" fill="#0000ff"/><path d="M306.46 83.55L308.76 79.18L304.16 79.18Z" fill="#0000ff"/><path d="M307.75 83.38L310.05 79.01L305.45 79.01Z" fill="#0000ff"/><path d="M309.04 83.21L311.34 78.84L306.74 78.84Z" fill="#0000ff"/><path d="M310.33 83.05L312.63 78.68L308.03 78.68Z" fill="#0000ff"/><path d="M311.62 82.89L313.92 78.52L309.32 78.52Z" fill="#0000ff"/><path d="M312.91 82.73L315.21 78.36L310.61 78.36Z" fill="#0000ff"/><path d="M314.2 82.57L316.5 78.2L311.9 78.2Z" fill="#0000ff"/><path d="M315.49 82.41L317.79 78.04L313.19 78.04Z" fill="#0000ff"/><path d="M316.78 82.25L319.08 77.88L314.48 77.88Z" fill="#0000ff"/><path d="M318.07 82.09L320.37 77.72L315.77 77.72Z" fill="#0000ff"/><path d="M319.36 81.93L321.66 77.56L317.06 77.56Z" fill="#0000ff"/><path d="M320.65 81.77L322.95 77.4L318.35 77.4Z" fill="#0000ff"/>
<path d="M173.77 122.6L178.14 120.3L178.14 124.9Z" fill="#ff00ff"/><path d="M174.68 124.38L179.05 122.08L179.05 126.68Z" fill="#ff00ff"/><path d="M175.58 126.16L179.95 123.86L179.95 128.46Z" fill="#ff00ff"/><path d="M176.49 127.95L180.86 125.65L180.86 130.25Z" fill="#ff00ff"/><path d="M177.39 129.73L181.76 127.43L181.76 132.03Z" fill="#ff00ff"/><path d="M178.28 131.53L182.65 129.23L182.65 133.83Z" fill="#ff00ff"/><path d="M179.15 133.33L183.52 131.03L183.52 135.63Z" fill="#ff00ff"/><path d="M180 135.14L184.37 132.84L184.37 137.44Z" fill="#ff00ff"/><path d="M180.82 136.96L185.19 134.66L185.19 139.26Z" fill="#ff00ff"/><path d="M181.63 138.79L186 136.49L186 141.09Z" fill="#ff00ff"/><path d="M182.42 140.63L186.79 138.33L186.79 142.93Z" fill="#ff00ff"/><path d="M183.21 142.47L187.58 140.17L187.58 144.77Z" fill="#ff00ff"/><path d="M183.98 144.31L188.35 142.01L188.35 146.61Z" fill="#ff00ff"/><path d="M184.75 146.15L189.12 143.85L189.12 148.45Z" fill="#ff00ff"/><path d="M185.53 148L189.9 145.7L189.9 150.3Z" fill="#ff00ff"/><path d="M186.27 149.86L190.64 147.56L190.64 152.16Z" fill="#ff00ff"/><path d="M186.9 151.75L191.27 149.45L191.27 154.05Z" fill="#ff00ff"/><path d="M187.29 153.71L191.66 151.41L191.66 156.01Z" fill="#ff00ff"/><path d="M187.42 155.71L191.79 153.41L191.79 158.01Z" fill="#ff00ff"/>
<path d="M189.43 156.8L193.8 154.5L193.8 159.1Z" fill="#ff00ff"/><path d="M189.8 155.55L194.17 153.25L194.17 157.85Z" fill="#ff00ff"/><path d="M190.17 154.31L194.54 152.01L194.54 156.61Z" fill="#ff00ff"/><path d="M190.53 153.06L194.9 150.76L194.9 155.36Z" fill="#ff00ff"/><path d="M190.9 151.81L195.27 149.51L195.27 154.11Z" fill="#ff00ff"/><path d="M191.28 150.57L195.65 148.27L195.65 152.87Z" fill="#ff00ff"/><path d="M191.66 149.32L196.03 147.02L196.03 151.62Z" fill="#ff00ff"/><path d="M192.04 148.08L196.41 145.78L196.41 150.38Z" fill="#ff00ff"/><path d="M192.44 146.85L196.81 144.55L196.81 149.15Z" fill="#ff00ff"/><path d="M192.85 145.61L197.22 143.31L197.22 147.91Z" fill="#ff00ff"/><path d="M193.28 144.38L197.65 142.08L197.65 146.68Z" fill="#ff00ff"/><path d="M193.72 143.16L198.09 140.86L198.09 145.46Z" fill="#ff00ff"/><path d="M194.18 141.95L198.55 139.65L198.55 144.25Z" fill="#ff00ff"/><path d="M194.66 140.74L199.03 138.44L199.03 143.04Z" fill="#ff00ff"/><path d="M195.17 139.54L199.54 137.24L199.54 141.84Z" fill="#ff00ff"/><path d="M195.69 138.35L200.06 136.05L200.06 140.65Z" fill="#ff00ff"/><path d="M196.21 137.16L200.58 134.86L200.58 139.46Z" fill="#ff00ff"/><path d="M196.73 135.97L201.1 133.67L201.1 138.27Z" fill="#ff00ff"/><path d="M197.26 134.78L201.63 132.48L201.63 137.08Z" fill="#ff00ff"/><path d="M197.8 133.6L202.17 131.3L202.17 135.9Z" fill="#ff00ff"/><path d="M198.34 132.42L202.71 130.12L202.71 134.72Z" fill="#ff00ff"/><path d="M198.9 131.24L203.27 128.94L203.27 133.54Z" fill="#ff00ff"/><path d="M199.47 130.07L203.84 127.77L203.84 132.37Z" fill="#ff00ff"/><path d="M200.05 128.91L204.42 126.61L204.42 131.21Z" fill="#ff00ff"/><path d="M200.65 127.76L205.02 125.46L205.02 130.06Z" fill="#ff00ff"/><path d="M201.27 126.61L205.64 124.31L205.64 128.91Z" fill="#ff00ff"/><path d="M201.89 125.47L206.26 123.17L206.26 127.77Z" fill="#ff00ff"/><path d="M202.51 124.33L206.88 122.03L206.88 126.63Z" fill="#ff00ff"/><path d="M203.13 123.19L207.5 120.89L207.5 125.49Z" fill="#ff00ff"/><path d="M203.77 122.05L208.14 119.75L208.14 124.35Z" fill="#ff00ff"/><path d="M204.41 120.93L208.78 118.63L208.78 123.23Z" fill="#ff00ff"/><path d="M205.08 119.81L209.45 117.51L209.45 122.11Z" fill="#ff00ff"/><path d="M205.76 118.7L210.13 116.4L210.13 121Z" fill="#ff00ff"/><path d="M206.47 117.61L210.84 115.31L210.84 119.91Z" fill="#ff00ff"/><path d="M207.21 116.54L211.58 114.24L211.58 118.84Z" fill="#ff00ff"/><path d="M207.97 115.49L212.34 113.19L212.34 117.79Z" fill="#ff00ff"/><path d="M208.77 114.46L213.14 112.16L213.14 116.76Z" fill="#ff00ff"/><path d="M209.59 113.46L213.96 111.16L213.96 115.76Z" fill="#ff00ff"/><path d="M210.43 112.46L214.8 110.16L214.8 114.76Z" fill="#ff00ff"/><path d="M211.28 111.48L215.65 109.18L215.65 113.78Z" fill="#ff00ff"/><path d="M212.15 110.52L216.52 108.22L216.52 112.82Z" fill="#ff00ff"/><path d="M213.04 109.57L217.41 107.27L217.41 111.87Z" fill="#ff00ff"/><path d="M213.95 108.64L218.32 106.34L218.32 110.94Z" fill="#ff00ff"/><path d="M214.87 107.72L219.24 105.42L219.24 110.02Z" fill="#ff00ff"/><path d="M215.81 106.83L220.18 104.53L220.18 109.13Z" fill="#ff00ff"/><path d="M216.77 105.95L221.14 103.65L221.14 108.25Z" fill="#ff00ff"/><path d="M217.75 105.09L222.12 102.79L222.12 107.39Z" fill="#ff00ff"/><path d="M218.75 104.26L223.12 101.96L223.12 106.56Z" fill="#ff00ff"/><path d="M219.77 103.45L224.14 101.15L224.14 105.75Z" fill="#ff00ff"/><path d="M220.8 102.67L225.17 100.37L225.17 104.97Z" fill="#ff00ff"/><path d="M221.85 101.9L226.22 99.6L226.22 104.2Z" fill="#ff00ff"/><path d="M222.92 101.15L227.29 98.85L227.29 103.45Z" fill="#ff00ff"/><path d="M224 100.43L228.37 98.13L228.37 102.73Z" fill="#ff00ff"/><path d="M225.09 99.72L229.46 97.42L229.46 102.02Z" fill="#ff00ff"/><path d="M226.2 99.04L230.57 96.74L230.57 101.34Z" fill="#ff00ff"/><path d="M227.32 98.38L231.69 96.08L231.69 100.68Z" fill="#ff00ff"/><path d="M228.45 97.74L232.82 95.44L232.82 100.04Z" fill="#ff00ff"/><path d="M229.59 97.13L233.96 94.83L233.96 99.43Z" fill="#ff00ff"/><path d="M230.75 96.53L235.12 94.23L235.12 98.83Z" fill="#ff00ff"/><path d="M231.92 95.96L236.29 93.66L236.29 98.26Z" fill="#ff00ff"/><path d="M233.09 95.41L237.46 93.11L237.46 97.71Z" fill="#ff00ff"/><path d="M234.28 94.88L238.65 92.58L238.65 97.18Z" fill="#ff00ff"/><path d="M235.48 94.38L239.85 92.08L239.85 96.68Z" fill="#ff00ff"/><path d="M236.69 93.91L241.06 91.61L241.06 96.21Z" fill="#ff00ff"/><path d="M237.91 93.46L242.28 91.16L242.28 95.76Z" fill="#ff00ff"/><path d="M239.14 93.03L243.51 90.73L243.51 95.33Z" fill="#ff00ff"/><path d="M240.38 92.63L244.75 90.33L244.75 94.93Z" fill="#ff00ff"/><path d="M241.62 92.24L245.99 89.94L245.99 94.54Z" fill="#ff00ff"/><path d="M242.86 91.87L247.23 89.57L247.23 94.17Z" fill="#ff00ff"/><path d="M244.11 91.52L248.48 89.22L248.48 93.82Z" fill="#ff00ff"/><path d="M245.37 91.17L249.74 88.87L249.74 93.47Z" fill="#ff00ff"/><path d="M246.62 90.82L250.99 88.52L250.99 93.12Z" fill="#ff00ff"/><path d="M247.88 90.48L252.25 88.18L252.25 92.78Z" fill="#ff00ff"/><path d="M249.13 90.15L253.5 87.85L253.5 92.45Z" fill="#ff00ff"/><path d="M250.39 89.81L254.76 87.51L254.76 92.11Z" fill="#ff00ff"/><path d="M251.64 89.47L256.01 87.17L256.01 91.77Z" fill="#ff00ff"/><path d="M252.9 89.14L257.27 86.84L257.27 91.44Z" fill="#ff00ff"/><path d="M254.16 88.81L258.53 86.51L258.53 91.11Z" fill="#ff00ff"/><path d="M255.41 88.48L259.78 86.18L259.78 90.78Z" fill="#ff00ff"/><path d="M256.67 88.16L261.04 85.86L261.04 90.46Z" fill="#ff00ff"/><path d="M257.94 87.85L262.31 85.55L262.31 90.15Z" fill="#ff00ff"/><path d="M259.2 87.53L263.57 85.23L263.57 89.83Z" fill="#ff00ff"/><path d="M260.46 87.22L264.83 84.92L264.83 89.52Z" fill="#ff00ff"/><path d="M261.72 86.92L266.09 84.62L266.09 89.22Z" fill="#ff00ff"/><path d="M262.99 86.61L267.36 84.31L267.36 88.91Z" fill="#ff00ff"/><path d="M264.25 86.31L268.62 84.01L268.62 88.61Z" fill="#ff00ff"/><path d="M265.52 86.01L269.89 83.71L269.89 88.31Z" fill="#ff00ff"/><path d="M266.78 85.71L271.15 83.41L271.15 88.01Z" fill="#ff00ff"/><path d="M268.05 85.42L272.42 83.12L272.42 87.72Z" fill="#ff00ff"/><path d="M269.32 85.13L273.69 82.83L273.69 87.43Z" fill="#ff00ff"/><path d="M270.58 84.84L274.95 82.54L274.95 87.14Z" fill="#ff00ff"/><path d="M271.85 84.56L276.22 82.26L276.22 86.86Z" fill="#ff00ff"/><path d="M273.12 84.28L277.49 81.98L277.49 86.58Z" fill="#ff00ff"/><path d="M274.39 84L278.76 81.7L278.76 86.3Z" fill="#ff00ff"/><path d="M275.66 83.73L280.03 81.43L280.03 86.03Z" fill="#ff00ff"/><path d="M276.93 83.46L281.3 81.16L281.3 85.76Z" fill="#ff00ff"/><path d="M278.21 83.2L282.58 80.9L282.58 85.5Z" fill="#ff00ff"/><path d="M279.48 82.94L283.85 80.64L283.85 85.24Z" fill="#ff00ff"/><path d="M280.76 82.69L285.13 80.39L285.13 84.99Z" fill="#ff00ff"/><path d="M282.03 82.44L286.4 80.14L286.4 84.74Z" fill="#ff00ff"/><path d="M283.31 82.2L287.68 79.9L287.68 84.5Z" fill="#ff00ff"/><path d="M284.59 81.97L288.96 79.67L288.96 84.27Z" fill="#ff00ff"/><path d="M285.87 81.74L290.24 79.44L290.24 84.04Z" fill="#ff00ff"/><path d="M287.15 81.51L291.52 79.21L291.52 83.81Z" fill="#ff00ff"/><path d="M288.43 81.3L292.8 79L292.8 83.6Z" fill="#ff00ff"/><path d="M289.71 81.08L294.08 78.78L294.08 83.38Z" fill="#ff00ff"/><path d="M291 80.88L295.37 78.58L295.37 83.18Z" fill="#ff00ff"/><path d="M292.28 80.67L296.65 78.37L296.65 82.97Z" fill="#ff00ff"/><path d="M293.57 80.48L297.94 78.18L297.94 82.78Z" fill="#ff00ff"/><path d="M294.85 80.28L299.22 77.98L299.22 82.58Z" fill="#ff00ff"/><path d="M296.14 80.09L300.51 77.79L300.51 82.39Z" fill="#ff00ff"/><path d="M297.42 79.9L301.79 77.6L301.79 82.2Z" fill="#ff00ff"/><path d="M298.71 79.72L303.08 77.42L303.08 82.02Z" fill="#ff00ff"/><path d="M300 79.54L304.37 77.24L304.37 81.84Z" fill="#ff00ff"/><path d="M301.29 79.38L305.66 77.08L305.66 81.68Z" fill="#ff00ff"/><path d="M302.58 79.21L306.95 76.91L306.95 81.51Z" fill="#ff00ff"/><path d="M303.87 79.05L308.24 76.75L308.24 81.35Z" fill="#ff00ff"/><path d="M305.16 78.9L309.53 76.6L309.53 81.2Z" fill="#ff00ff"/><path d="M306.45 78.74L310.82 76.44L310.82 81.04Z" fill="#ff00ff"/><path d="M307.74 78.59L312.11 76.29L312.11 80.89Z" fill="#ff00ff"/><path d="M309.03 78.44L313.4 76.14L313.4 80.74Z" fill="#ff00ff"/><path d="M310.32 78.29L314.69 75.99L314.69 80.59Z" fill="#ff00ff"/><path d="M311.62 78.14L315.99 75.84L315.99 80.44Z" fill="#ff00ff"/><path d="M312.91 78L317.28 75.7L317.28 80.3Z" fill="#ff00ff"/><path d="M314.2 77.85L318.57 75.55L318.57 80.15Z" fill="#ff00ff"/><path d="M315.49 77.71L319.86 75.41L319.86 80.01Z" fill="#ff00ff"/><path d="M316.78 77.56L321.15 75.26L321.15 79.86Z" fill="#ff00ff"/><path d="M318.07 77.42L322.44 75.12L322.44 79.72Z" fill="#ff00ff"/>
<path d="M186.7 165.08L188.9 167.5L186.7 169.92L184.5 167.5Z" fill="#00ffff"/><path d="M194.2 165.08L196.4 167.5L194.2 169.92L192 167.5Z" fill="#00ffff"/><path d="M186.7 171.88L188.9 174.3L186.7 176.72L184.5 174.3Z" fill="#00ffff"/><path d="M192.9 171.28L195.1 173.7L192.9 176.12L190.7 173.7Z" fill="#00ffff"/><path d="M192.3 179.98L194.5 182.4L192.3 184.82L190.1 182.4Z" fill="#00ffff"/><path d="M188.6 183.68L190.8 186.1L188.6 188.52L186.4 186.1Z" fill="#00ffff"/><path d="M190.4 206.08L192.6 208.5L190.4 210.92L188.2 208.5Z" fill="#00ffff"/>
<path d="M187.5 164.01L189.6 160.02L185.4 160.02Z" fill="#0000ff"/><path d="M191 169.81L193.1 165.82L188.9 165.82Z" fill="#0000ff"/><path d="M189.8 174.71L191.9 170.72L187.7 170.72Z" fill="#0000ff"/><path d="M190.2 194.01L192.3 190.02L188.1 190.02Z" fill="#0000ff"/>
<path d="M190.4 186.13L192.1 189.36L188.7 189.36Z" fill="#00ff00"/>
<polyline points="190.2,192 190.4,208.5" fill="none" stroke="#8cf" stroke-width="0.6" stroke-linejoin="round"/>
<path d="M187.29 158.9L191.28 156.8L191.28 161Z" fill="#ff00ff"/><path d="M189.19 157L193.18 154.9L193.18 159.1Z" fill="#ff00ff"/><path d="M187.99 231.6L191.98 229.5L191.98 233.7Z" fill="#ff00ff"/>
<rect x="187" y="146.7" width="2.6" height="2.6" fill="#ff0000"/><rect x="190.2" y="149.2" width="2.6" height="2.6" fill="#ff0000"/>
</g>
<line x1="145.5" y1="108.6" x2="135.69" y2="95.41" stroke="#111" stroke-width="0.8"/>
<path d="M133.6 92.6L137.57 95.26L135 97.17Z" fill="#111"/>
<line x1="182.2" y1="140" x2="184.67" y2="71.7" stroke="#111" stroke-width="0.8"/>
<path d="M184.8 68.2L186.24 72.75L183.04 72.64Z" fill="#111"/>
<line x1="245.2" y1="86" x2="260.04" y2="60.43" stroke="#111" stroke-width="0.8"/>
<path d="M261.8 57.4L260.92 62.1L258.16 60.49Z" fill="#111"/>
<line x1="281.2" y1="81.1" x2="289.69" y2="112.62" stroke="#111" stroke-width="0.8"/>
<path d="M290.6 116L287.88 112.07L290.97 111.24Z" fill="#111"/>
<line x1="196" y1="134.5" x2="221.3" y2="134.5" stroke="#111" stroke-width="0.8"/>
<path d="M224.8 134.5L220.3 136.1L220.3 132.9Z" fill="#111"/>
<line x1="195.3" y1="150" x2="227.7" y2="161.34" stroke="#111" stroke-width="0.8"/>
<path d="M231 162.5L226.22 162.52L227.28 159.5Z" fill="#111"/>
<text x="105" y="87.9" font-family="Liberation Sans" font-weight="bold" font-size="9.2" textLength="27.2" lengthAdjust="spacingAndGlyphs">10 ppm</text>
<text x="172.3" y="63.3" font-family="Liberation Sans" font-weight="bold" font-size="9.2" textLength="27.1" lengthAdjust="spacingAndGlyphs">15 ppm</text>
<text x="251" y="52.9" font-family="Liberation Sans" font-weight="bold" font-size="9.2" textLength="27.1" lengthAdjust="spacingAndGlyphs">1M HCl</text>
<text x="227" y="137.6" font-family="Liberation Sans" font-weight="bold" font-size="9.2" textLength="27" lengthAdjust="spacingAndGlyphs">20 ppm</text>
<text x="234.1" y="167.1" font-family="Liberation Sans" font-weight="bold" font-size="9.2" textLength="27.9" lengthAdjust="spacingAndGlyphs">25 ppm</text>
<text x="280.5" y="130" font-family="Liberation Sans" font-weight="bold" font-size="9.2" textLength="22.5" lengthAdjust="spacingAndGlyphs">5 ppm</text>
<g clip-path="url(#cB)">
<polyline points="514.6,159.2 516.6,206 519.3,160.3" fill="none" stroke="#ff00ff" stroke-width="0.7" stroke-linejoin="round"/>
<polyline points="518.9,153.3 521,225.2 523.5,153.3" fill="none" stroke="#00ffff" stroke-width="0.7" stroke-linejoin="round"/>
<polyline points="525.4,157 527.8,217.8 530.5,157" fill="none" stroke="#00ff00" stroke-width="0.7" stroke-linejoin="round"/>
<polyline points="512,170 518.5,210.3 522,190" fill="none" stroke="#ff0000" stroke-width="0.6" stroke-linejoin="round"/>
<polyline points="513.5,166.3 521,209.7 523,183.6" fill="none" stroke="#333" stroke-width="0.6" stroke-linejoin="round"/>
<polyline points="634.8,180 639.1,210.4 641.3,185.4" fill="none" stroke="#0000ff" stroke-width="0.6" stroke-linejoin="round"/>
<rect x="494.75" y="137.25" width="3.7" height="3.7" fill="#000000"/><rect x="497.12" y="140.84" width="3.7" height="3.7" fill="#000000"/><rect x="499.48" y="144.43" width="3.7" height="3.7" fill="#000000"/><rect x="501.82" y="148.04" width="3.7" height="3.7" fill="#000000"/><rect x="504.1" y="151.69" width="3.7" height="3.7" fill="#000000"/><rect x="506.31" y="155.37" width="3.7" height="3.7" fill="#000000"/><rect x="508.5" y="159.08" width="3.7" height="3.7" fill="#000000"/><rect x="510.67" y="162.79" width="3.7" height="3.7" fill="#000000"/>
<rect x="513.85" y="170.55" width="3.5" height="3.5" fill="#000000"/><rect x="515.75" y="178.25" width="3.5" height="3.5" fill="#000000"/><rect x="517.75" y="186.25" width="3.5" height="3.5" fill="#000000"/><rect x="519.25" y="207.95" width="3.5" height="3.5" fill="#000000"/><rect x="521.25" y="181.85" width="3.5" height="3.5" fill="#000000"/><rect x="522.75" y="174.25" width="3.5" height="3.5" fill="#000000"/>
<rect x="524.25" y="166.75" width="3.5" height="3.5" fill="#000000"/><rect x="526.25" y="164.25" width="3.5" height="3.5" fill="#000000"/><rect x="528.25" y="161.75" width="3.5" height="3.5" fill="#000000"/><rect x="530.21" y="159.22" width="3.5" height="3.5" fill="#000000"/><rect x="532.17" y="156.69" width="3.5" height="3.5" fill="#000000"/><rect x="534.2" y="154.22" width="3.5" height="3.5" fill="#000000"/><rect x="536.34" y="151.84" width="3.5" height="3.5" fill="#000000"/><rect x="538.53" y="149.51" width="3.5" height="3.5" fill="#000000"/><rect x="540.75" y="147.21" width="3.5" height="3.5" fill="#000000"/>
<circle cx="494.5" cy="147.8" r="2.3" fill="#ff0000"/><circle cx="496.89" cy="151.01" r="2.3" fill="#ff0000"/><circle cx="499.27" cy="154.22" r="2.3" fill="#ff0000"/><circle cx="501.62" cy="157.46" r="2.3" fill="#ff0000"/><circle cx="503.92" cy="160.73" r="2.3" fill="#ff0000"/><circle cx="506.2" cy="164.02" r="2.3" fill="#ff0000"/><circle cx="508.4" cy="167.36" r="2.3" fill="#ff0000"/><circle cx="510.33" cy="170.86" r="2.3" fill="#ff0000"/><circle cx="511.82" cy="174.57" r="2.3" fill="#ff0000"/>
<circle cx="514.5" cy="182" r="2.2" fill="#ff0000"/><circle cx="516.2" cy="190" r="2.2" fill="#ff0000"/><circle cx="518.5" cy="210.3" r="2.2" fill="#ff0000"/><circle cx="522.5" cy="194" r="2.2" fill="#ff0000"/><circle cx="524" cy="187.8" r="2.2" fill="#ff0000"/>
<circle cx="525.4" cy="179.9" r="2.3" fill="#ff0000"/><circle cx="525.72" cy="176.11" r="2.3" fill="#ff0000"/><circle cx="526.91" cy="172.53" r="2.3" fill="#ff0000"/><circle cx="529.04" cy="169.39" r="2.3" fill="#ff0000"/><circle cx="531.51" cy="166.5" r="2.3" fill="#ff0000"/><circle cx="533.83" cy="163.5" r="2.3" fill="#ff0000"/><circle cx="536.09" cy="160.44" r="2.3" fill="#ff0000"/><circle cx="538.45" cy="157.46" r="2.3" fill="#ff0000"/><circle cx="540.95" cy="154.6" r="2.3" fill="#ff0000"/><circle cx="543.49" cy="151.77" r="2.3" fill="#ff0000"/><circle cx="546" cy="148.92" r="2.3" fill="#ff0000"/><circle cx="548.51" cy="146.07" r="2.3" fill="#ff0000"/><circle cx="550.65" cy="142.93" r="2.3" fill="#ff0000"/><circle cx="552.42" cy="139.57" r="2.3" fill="#ff0000"/><circle cx="554.13" cy="136.18" r="2.3" fill="#ff0000"/><circle cx="555.95" cy="132.84" r="2.3" fill="#ff0000"/><circle cx="557.83" cy="129.54" r="2.3" fill="#ff0000"/><circle cx="559.64" cy="126.2" r="2.3" fill="#ff0000"/><circle cx="561.35" cy="122.8" r="2.3" fill="#ff0000"/><circle cx="563" cy="119.38" r="2.3" fill="#ff0000"/><circle cx="564.65" cy="115.96" r="2.3" fill="#ff0000"/><circle cx="566.31" cy="112.54" r="2.3" fill="#ff0000"/><circle cx="568.05" cy="109.16" r="2.3" fill="#ff0000"/><circle cx="569.83" cy="105.81" r="2.3" fill="#ff0000"/><circle cx="571.71" cy="102.5" r="2.3" fill="#ff0000"/><circle cx="573.84" cy="99.36" r="2.3" fill="#ff0000"/><circle cx="576.41" cy="96.56" r="2.3" fill="#ff0000"/>
<circle cx="578" cy="95" r="2.2" fill="#ff0000"/><circle cx="580.39" cy="93.98" r="2.2" fill="#ff0000"/><circle cx="582.78" cy="92.95" r="2.2" fill="#ff0000"/><circle cx="585.17" cy="91.94" r="2.2" fill="#ff0000"/><circle cx="587.58" cy="90.95" r="2.2" fill="#ff0000"/><circle cx="590" cy="90" r="2.2" fill="#ff0000"/><circle cx="592.44" cy="89.1" r="2.2" fill="#ff0000"/><circle cx="594.9" cy="88.27" r="2.2" fill="#ff0000"/><circle cx="597.39" cy="87.53" r="2.2" fill="#ff0000"/><circle cx="599.9" cy="86.83" r="2.2" fill="#ff0000"/><circle cx="602.41" cy="86.15" r="2.2" fill="#ff0000"/><circle cx="604.92" cy="85.48" r="2.2" fill="#ff0000"/><circle cx="607.44" cy="84.83" r="2.2" fill="#ff0000"/><circle cx="609.96" cy="84.19" r="2.2" fill="#ff0000"/><circle cx="612.48" cy="83.56" r="2.2" fill="#ff0000"/><circle cx="615.01" cy="82.95" r="2.2" fill="#ff0000"/><circle cx="617.54" cy="82.36" r="2.2" fill="#ff0000"/><circle cx="620.07" cy="81.78" r="2.2" fill="#ff0000"/><circle cx="622.62" cy="81.23" r="2.2" fill="#ff0000"/><circle cx="625.16" cy="80.7" r="2.2" fill="#ff0000"/><circle cx="627.71" cy="80.19" r="2.2" fill="#ff0000"/><circle cx="630.26" cy="79.69" r="2.2" fill="#ff0000"/><circle cx="632.82" cy="79.23" r="2.2" fill="#ff0000"/><circle cx="635.38" cy="78.78" r="2.2" fill="#ff0000"/><circle cx="637.94" cy="78.34" r="2.2" fill="#ff0000"/><circle cx="640.51" cy="77.92" r="2.2" fill="#ff0000"/><circle cx="643.08" cy="77.51" r="2.2" fill="#ff0000"/><circle cx="645.65" cy="77.11" r="2.2" fill="#ff0000"/><circle cx="648.22" cy="76.72" r="2.2" fill="#ff0000"/><circle cx="650.79" cy="76.33" r="2.2" fill="#ff0000"/><circle cx="653.36" cy="75.96" r="2.2" fill="#ff0000"/><circle cx="655.93" cy="75.58" r="2.2" fill="#ff0000"/><circle cx="658.51" cy="75.21" r="2.2" fill="#ff0000"/><circle cx="661.08" cy="74.85" r="2.2" fill="#ff0000"/><circle cx="663.66" cy="74.49" r="2.2" fill="#ff0000"/><circle cx="666.23" cy="74.13" r="2.2" fill="#ff0000"/><circle cx="668.81" cy="73.77" r="2.2" fill="#ff0000"/><circle cx="671.38" cy="73.41" r="2.2" fill="#ff0000"/><circle cx="673.96" cy="73.06" r="2.2" fill="#ff0000"/><circle cx="676.53" cy="72.71" r="2.2" fill="#ff0000"/><circle cx="679.11" cy="72.37" r="2.2" fill="#ff0000"/><circle cx="681.69" cy="72.03" r="2.2" fill="#ff0000"/><circle cx="684.27" cy="71.7" r="2.2" fill="#ff0000"/><circle cx="686.85" cy="71.36" r="2.2" fill="#ff0000"/><circle cx="689.43" cy="71.03" r="2.2" fill="#ff0000"/><circle cx="692" cy="70.7" r="2.2" fill="#ff0000"/><circle cx="694.58" cy="70.37" r="2.2" fill="#ff0000"/><circle cx="697.16" cy="70.04" r="2.2" fill="#ff0000"/>
<path d="M503.7 114.05L506.2 118.8L501.2 118.8Z" fill="#00ff00"/><path d="M506.09 117.26L508.59 122.01L503.59 122.01Z" fill="#00ff00"/><path d="M508.52 120.44L511.02 125.19L506.02 125.19Z" fill="#00ff00"/><path d="M511.14 123.45L513.64 128.2L508.64 128.2Z" fill="#00ff00"/><path d="M514.09 126.15L516.59 130.9L511.59 130.9Z" fill="#00ff00"/><path d="M516.67 129.2L519.17 133.95L514.17 133.95Z" fill="#00ff00"/><path d="M518.74 132.62L521.24 137.37L516.24 137.37Z" fill="#00ff00"/><path d="M520.53 136.19L523.03 140.94L518.03 140.94Z" fill="#00ff00"/><path d="M522 139.91L524.5 144.66L519.5 144.66Z" fill="#00ff00"/><path d="M523.06 143.77L525.56 148.52L520.56 148.52Z" fill="#00ff00"/><path d="M523.98 147.66L526.48 152.41L521.48 152.41Z" fill="#00ff00"/><path d="M524.82 151.57L527.32 156.32L522.32 156.32Z" fill="#00ff00"/>
<path d="M527.8 215.05L530.3 219.8L525.3 219.8Z" fill="#00ff00"/>
<path d="M530.5 154.25L533 159L528 159Z" fill="#00ff00"/><path d="M531.25 150.73L533.75 155.48L528.75 155.48Z" fill="#00ff00"/><path d="M532.03 147.21L534.53 151.96L529.53 151.96Z" fill="#00ff00"/><path d="M532.89 143.72L535.39 148.47L530.39 148.47Z" fill="#00ff00"/><path d="M533.91 140.27L536.41 145.02L531.41 145.02Z" fill="#00ff00"/><path d="M535.26 136.93L537.76 141.68L532.76 141.68Z" fill="#00ff00"/><path d="M536.85 133.7L539.35 138.45L534.35 138.45Z" fill="#00ff00"/><path d="M538.62 130.57L541.12 135.32L536.12 135.32Z" fill="#00ff00"/><path d="M540.54 127.52L543.04 132.27L538.04 132.27Z" fill="#00ff00"/><path d="M542.61 124.58L545.11 129.33L540.11 129.33Z" fill="#00ff00"/><path d="M544.8 121.72L547.3 126.47L542.3 126.47Z" fill="#00ff00"/><path d="M547.1 118.95L549.6 123.7L544.6 123.7Z" fill="#00ff00"/><path d="M549.49 116.26L551.99 121.01L546.99 121.01Z" fill="#00ff00"/><path d="M552.01 113.69L554.51 118.44L549.51 118.44Z" fill="#00ff00"/><path d="M554.62 111.21L557.12 115.96L552.12 115.96Z" fill="#00ff00"/><path d="M557.27 108.77L559.77 113.52L554.77 113.52Z" fill="#00ff00"/><path d="M559.96 106.38L562.46 111.13L557.46 111.13Z" fill="#00ff00"/><path d="M562.71 104.06L565.21 108.81L560.21 108.81Z" fill="#00ff00"/><path d="M565.55 101.84L568.05 106.59L563.05 106.59Z" fill="#00ff00"/><path d="M568.51 99.79L571.01 104.54L566.01 104.54Z" fill="#00ff00"/><path d="M571.54 97.86L574.04 102.61L569.04 102.61Z" fill="#00ff00"/><path d="M574.61 95.98L577.11 100.73L572.11 100.73Z" fill="#00ff00"/>
<path d="M576.6 94.75L579.1 99.5L574.1 99.5Z" fill="#00ff00"/><path d="M579.05 93.88L581.55 98.63L576.55 98.63Z" fill="#00ff00"/><path d="M581.5 93L584 97.75L579 97.75Z" fill="#00ff00"/><path d="M583.94 92.12L586.44 96.87L581.44 96.87Z" fill="#00ff00"/><path d="M586.4 91.26L588.9 96.01L583.9 96.01Z" fill="#00ff00"/><path d="M588.86 90.42L591.36 95.17L586.36 95.17Z" fill="#00ff00"/><path d="M591.33 89.62L593.83 94.37L588.83 94.37Z" fill="#00ff00"/><path d="M593.82 88.85L596.32 93.6L591.32 93.6Z" fill="#00ff00"/><path d="M596.32 88.16L598.82 92.91L593.82 92.91Z" fill="#00ff00"/><path d="M598.84 87.53L601.34 92.28L596.34 92.28Z" fill="#00ff00"/><path d="M601.37 86.92L603.87 91.67L598.87 91.67Z" fill="#00ff00"/><path d="M603.9 86.32L606.4 91.07L601.4 91.07Z" fill="#00ff00"/><path d="M606.43 85.73L608.93 90.48L603.93 90.48Z" fill="#00ff00"/><path d="M608.97 85.15L611.47 89.9L606.47 89.9Z" fill="#00ff00"/><path d="M611.51 84.59L614.01 89.34L609.01 89.34Z" fill="#00ff00"/><path d="M614.05 84.04L616.55 88.79L611.55 88.79Z" fill="#00ff00"/><path d="M616.59 83.51L619.09 88.26L614.09 88.26Z" fill="#00ff00"/><path d="M619.15 83.01L621.65 87.76L616.65 87.76Z" fill="#00ff00"/><path d="M621.7 82.54L624.2 87.29L619.2 87.29Z" fill="#00ff00"/><path d="M624.27 82.11L626.77 86.86L621.77 86.86Z" fill="#00ff00"/><path d="M626.83 81.71L629.33 86.46L624.33 86.46Z" fill="#00ff00"/><path d="M629.41 81.33L631.91 86.08L626.91 86.08Z" fill="#00ff00"/><path d="M631.98 80.96L634.48 85.71L629.48 85.71Z" fill="#00ff00"/><path d="M634.56 80.61L637.06 85.36L632.06 85.36Z" fill="#00ff00"/><path d="M637.13 80.25L639.63 85L634.63 85Z" fill="#00ff00"/><path d="M639.71 79.89L642.21 84.64L637.21 84.64Z" fill="#00ff00"/><path d="M642.28 79.53L644.78 84.28L639.78 84.28Z" fill="#00ff00"/><path d="M644.86 79.16L647.36 83.91L642.36 83.91Z" fill="#00ff00"/><path d="M647.43 78.8L649.93 83.55L644.93 83.55Z" fill="#00ff00"/><path d="M650.01 78.44L652.51 83.19L647.51 83.19Z" fill="#00ff00"/><path d="M652.58 78.09L655.08 82.84L650.08 82.84Z" fill="#00ff00"/><path d="M655.16 77.73L657.66 82.48L652.66 82.48Z" fill="#00ff00"/><path d="M657.73 77.38L660.23 82.13L655.23 82.13Z" fill="#00ff00"/><path d="M660.31 77.03L662.81 81.78L657.81 81.78Z" fill="#00ff00"/><path d="M662.89 76.69L665.39 81.44L660.39 81.44Z" fill="#00ff00"/><path d="M665.46 76.34L667.96 81.09L662.96 81.09Z" fill="#00ff00"/><path d="M668.04 76L670.54 80.75L665.54 80.75Z" fill="#00ff00"/><path d="M670.62 75.67L673.12 80.42L668.12 80.42Z" fill="#00ff00"/><path d="M673.2 75.34L675.7 80.09L670.7 80.09Z" fill="#00ff00"/><path d="M675.78 75.02L678.28 79.77L673.28 79.77Z" fill="#00ff00"/><path d="M678.36 74.71L680.86 79.46L675.86 79.46Z" fill="#00ff00"/><path d="M680.94 74.39L683.44 79.14L678.44 79.14Z" fill="#00ff00"/><path d="M683.52 74.08L686.02 78.83L681.02 78.83Z" fill="#00ff00"/><path d="M686.1 73.78L688.6 78.53L683.6 78.53Z" fill="#00ff00"/><path d="M688.69 73.47L691.19 78.22L686.19 78.22Z" fill="#00ff00"/><path d="M691.27 73.16L693.77 77.91L688.77 77.91Z" fill="#00ff00"/><path d="M693.85 72.86L696.35 77.61L691.35 77.61Z" fill="#00ff00"/><path d="M696.43 72.56L698.93 77.31L693.93 77.31Z" fill="#00ff00"/>
<path d="M496.6 113.66L499 116.3L496.6 118.94L494.2 116.3Z" fill="#00ffff"/><path d="M499.3 116.87L501.7 119.51L499.3 122.15L496.9 119.51Z" fill="#00ffff"/><path d="M502.03 120.07L504.43 122.71L502.03 125.35L499.63 122.71Z" fill="#00ffff"/><path d="M504.84 123.19L507.24 125.83L504.84 128.47L502.44 125.83Z" fill="#00ffff"/><path d="M508 125.95L510.4 128.59L508 131.23L505.6 128.59Z" fill="#00ffff"/><path d="M511.25 128.6L513.65 131.24L511.25 133.88L508.85 131.24Z" fill="#00ffff"/><path d="M513.27 132.24L515.67 134.88L513.27 137.52L510.87 134.88Z" fill="#00ffff"/><path d="M514.76 136.16L517.16 138.8L514.76 141.44L512.36 138.8Z" fill="#00ffff"/><path d="M516.06 140.16L518.46 142.8L516.06 145.44L513.66 142.8Z" fill="#00ffff"/><path d="M517.23 144.19L519.63 146.83L517.23 149.47L514.83 146.83Z" fill="#00ffff"/><path d="M518.36 148.24L520.76 150.88L518.36 153.52L515.96 150.88Z" fill="#00ffff"/>
<path d="M521 222.56L523.4 225.2L521 227.84L518.6 225.2Z" fill="#00ffff"/>
<path d="M523.5 150.55L526 153.3L523.5 156.05L521 153.3Z" fill="#00ffff"/><path d="M524.15 147.83L526.65 150.58L524.15 153.33L521.65 150.58Z" fill="#00ffff"/><path d="M524.8 145.1L527.3 147.85L524.8 150.6L522.3 147.85Z" fill="#00ffff"/><path d="M525.51 142.39L528.01 145.14L525.51 147.89L523.01 145.14Z" fill="#00ffff"/><path d="M526.35 139.72L528.85 142.47L526.35 145.22L523.85 142.47Z" fill="#00ffff"/><path d="M527.33 137.1L529.83 139.85L527.33 142.6L524.83 139.85Z" fill="#00ffff"/><path d="M528.64 134.63L531.14 137.38L528.64 140.13L526.14 137.38Z" fill="#00ffff"/><path d="M530.3 132.37L532.8 135.12L530.3 137.87L527.8 135.12Z" fill="#00ffff"/><path d="M532.1 130.23L534.6 132.98L532.1 135.73L529.6 132.98Z" fill="#00ffff"/><path d="M533.99 128.16L536.49 130.91L533.99 133.66L531.49 130.91Z" fill="#00ffff"/><path d="M535.93 126.15L538.43 128.9L535.93 131.65L533.43 128.9Z" fill="#00ffff"/><path d="M537.93 124.19L540.43 126.94L537.93 129.69L535.43 126.94Z" fill="#00ffff"/><path d="M539.97 122.28L542.47 125.03L539.97 127.78L537.47 125.03Z" fill="#00ffff"/><path d="M542.05 120.39L544.55 123.14L542.05 125.89L539.55 123.14Z" fill="#00ffff"/><path d="M544.14 118.54L546.64 121.29L544.14 124.04L541.64 121.29Z" fill="#00ffff"/><path d="M546.26 116.71L548.76 119.46L546.26 122.21L543.76 119.46Z" fill="#00ffff"/><path d="M548.4 114.9L550.9 117.65L548.4 120.4L545.9 117.65Z" fill="#00ffff"/><path d="M550.57 113.13L553.07 115.88L550.57 118.63L548.07 115.88Z" fill="#00ffff"/><path d="M552.78 111.4L555.28 114.15L552.78 116.9L550.28 114.15Z" fill="#00ffff"/><path d="M555.02 109.73L557.52 112.48L555.02 115.23L552.52 112.48Z" fill="#00ffff"/><path d="M557.33 108.14L559.83 110.89L557.33 113.64L554.83 110.89Z" fill="#00ffff"/><path d="M559.68 106.63L562.18 109.38L559.68 112.13L557.18 109.38Z" fill="#00ffff"/><path d="M562.08 105.18L564.58 107.93L562.08 110.68L559.58 107.93Z" fill="#00ffff"/><path d="M564.51 103.8L567.01 106.55L564.51 109.3L562.01 106.55Z" fill="#00ffff"/><path d="M566.98 102.48L569.48 105.23L566.98 107.98L564.48 105.23Z" fill="#00ffff"/><path d="M569.48 101.22L571.98 103.97L569.48 106.72L566.98 103.97Z" fill="#00ffff"/><path d="M572.05 100.1L574.55 102.85L572.05 105.6L569.55 102.85Z" fill="#00ffff"/><path d="M574.7 99.19L577.2 101.94L574.7 104.69L572.2 101.94Z" fill="#00ffff"/><path d="M577.39 98.42L579.89 101.17L577.39 103.92L574.89 101.17Z" fill="#00ffff"/><path d="M580.1 97.72L582.6 100.47L580.1 103.22L577.6 100.47Z" fill="#00ffff"/><path d="M582.84 97.13L585.34 99.88L582.84 102.63L580.34 99.88Z" fill="#00ffff"/><path d="M585.58 96.6L588.08 99.35L585.58 102.1L583.08 99.35Z" fill="#00ffff"/>
<path d="M588.5 99.95L591 102.7L588.5 105.45L586 102.7Z" fill="#00ffff"/><path d="M590.45 99.49L592.95 102.24L590.45 104.99L587.95 102.24Z" fill="#00ffff"/><path d="M592.39 99.02L594.89 101.77L592.39 104.52L589.89 101.77Z" fill="#00ffff"/><path d="M594.34 98.59L596.84 101.34L594.34 104.09L591.84 101.34Z" fill="#00ffff"/><path d="M596.3 98.19L598.8 100.94L596.3 103.69L593.8 100.94Z" fill="#00ffff"/><path d="M598.26 97.79L600.76 100.54L598.26 103.29L595.76 100.54Z" fill="#00ffff"/><path d="M600.22 97.4L602.72 100.15L600.22 102.9L597.72 100.15Z" fill="#00ffff"/><path d="M602.19 97.04L604.69 99.79L602.19 102.54L599.69 99.79Z" fill="#00ffff"/><path d="M604.17 96.78L606.67 99.53L604.17 102.28L601.67 99.53Z" fill="#00ffff"/><path d="M606.13 96.99L608.63 99.74L606.13 102.49L603.63 99.74Z" fill="#00ffff"/><path d="M607.19 98.65L609.69 101.4L607.19 104.15L604.69 101.4Z" fill="#00ffff"/><path d="M609.07 98.5L611.57 101.25L609.07 104L606.57 101.25Z" fill="#00ffff"/><path d="M610.83 97.56L613.33 100.31L610.83 103.06L608.33 100.31Z" fill="#00ffff"/><path d="M612.55 96.53L615.05 99.28L612.55 102.03L610.05 99.28Z" fill="#00ffff"/><path d="M614.31 95.58L616.81 98.33L614.31 101.08L611.81 98.33Z" fill="#00ffff"/><path d="M616.13 94.75L618.63 97.5L616.13 100.25L613.63 97.5Z" fill="#00ffff"/><path d="M617.98 93.98L620.48 96.73L617.98 99.48L615.48 96.73Z" fill="#00ffff"/><path d="M619.83 93.23L622.33 95.98L619.83 98.73L617.33 95.98Z" fill="#00ffff"/><path d="M621.69 92.49L624.19 95.24L621.69 97.99L619.19 95.24Z" fill="#00ffff"/><path d="M623.56 91.78L626.06 94.53L623.56 97.28L621.06 94.53Z" fill="#00ffff"/><path d="M625.44 91.09L627.94 93.84L625.44 96.59L622.94 93.84Z" fill="#00ffff"/><path d="M627.33 90.46L629.83 93.21L627.33 95.96L624.83 93.21Z" fill="#00ffff"/><path d="M629.24 89.87L631.74 92.62L629.24 95.37L626.74 92.62Z" fill="#00ffff"/><path d="M631.16 89.3L633.66 92.05L631.16 94.8L628.66 92.05Z" fill="#00ffff"/>
<path d="M633.8 82.55L636.3 85.3L633.8 88.05L631.3 85.3Z" fill="#00ffff"/><path d="M635.75 82.11L638.25 84.86L635.75 87.61L633.25 84.86Z" fill="#00ffff"/><path d="M637.7 81.66L640.2 84.41L637.7 87.16L635.2 84.41Z" fill="#00ffff"/><path d="M639.65 81.23L642.15 83.98L639.65 86.73L637.15 83.98Z" fill="#00ffff"/><path d="M641.61 80.83L644.11 83.58L641.61 86.33L639.11 83.58Z" fill="#00ffff"/><path d="M643.58 80.47L646.08 83.22L643.58 85.97L641.08 83.22Z" fill="#00ffff"/><path d="M645.56 80.17L648.06 82.92L645.56 85.67L643.06 82.92Z" fill="#00ffff"/><path d="M647.54 79.91L650.04 82.66L647.54 85.41L645.04 82.66Z" fill="#00ffff"/><path d="M649.53 79.69L652.03 82.44L649.53 85.19L647.03 82.44Z" fill="#00ffff"/><path d="M651.52 79.48L654.02 82.23L651.52 84.98L649.02 82.23Z" fill="#00ffff"/><path d="M653.51 79.29L656.01 82.04L653.51 84.79L651.01 82.04Z" fill="#00ffff"/><path d="M655.5 79.11L658 81.86L655.5 84.61L653 81.86Z" fill="#00ffff"/><path d="M657.49 78.94L659.99 81.69L657.49 84.44L654.99 81.69Z" fill="#00ffff"/><path d="M659.49 78.79L661.99 81.54L659.49 84.29L656.99 81.54Z" fill="#00ffff"/><path d="M661.48 78.64L663.98 81.39L661.48 84.14L658.98 81.39Z" fill="#00ffff"/><path d="M663.48 78.48L665.98 81.23L663.48 83.98L660.98 81.23Z" fill="#00ffff"/><path d="M665.47 78.33L667.97 81.08L665.47 83.83L662.97 81.08Z" fill="#00ffff"/><path d="M667.47 78.21L669.97 80.96L667.47 83.71L664.97 80.96Z" fill="#00ffff"/><path d="M669.46 78.14L671.96 80.89L669.46 83.64L666.96 80.89Z" fill="#00ffff"/><path d="M671.46 78.2L673.96 80.95L671.46 83.7L668.96 80.95Z" fill="#00ffff"/><path d="M673.35 78.77L675.85 81.52L673.35 84.27L670.85 81.52Z" fill="#00ffff"/><path d="M674.42 80.44L676.92 83.19L674.42 85.94L671.92 83.19Z" fill="#00ffff"/><path d="M676.17 80.21L678.67 82.96L676.17 85.71L673.67 82.96Z" fill="#00ffff"/><path d="M677.71 78.93L680.21 81.68L677.71 84.43L675.21 81.68Z" fill="#00ffff"/><path d="M679.49 78.37L681.99 81.12L679.49 83.87L676.99 81.12Z" fill="#00ffff"/><path d="M680.81 79.87L683.31 82.62L680.81 85.37L678.31 82.62Z" fill="#00ffff"/><path d="M682.71 80.16L685.21 82.91L682.71 85.66L680.21 82.91Z" fill="#00ffff"/><path d="M684.63 79.61L687.13 82.36L684.63 85.11L682.13 82.36Z" fill="#00ffff"/><path d="M686.51 78.92L689.01 81.67L686.51 84.42L684.01 81.67Z" fill="#00ffff"/><path d="M688.39 78.24L690.89 80.99L688.39 83.74L685.89 80.99Z" fill="#00ffff"/><path d="M690.31 77.67L692.81 80.42L690.31 83.17L687.81 80.42Z" fill="#00ffff"/><path d="M692.25 77.2L694.75 79.95L692.25 82.7L689.75 79.95Z" fill="#00ffff"/><path d="M694.2 76.77L696.7 79.52L694.2 82.27L691.7 79.52Z" fill="#00ffff"/><path d="M696.16 76.35L698.66 79.1L696.16 81.85L693.66 79.1Z" fill="#00ffff"/><path d="M698.12 75.94L700.62 78.69L698.12 81.44L695.62 78.69Z" fill="#00ffff"/>
<path d="M489.55 117.9L494.3 115.4L494.3 120.4Z" fill="#ff00ff"/><path d="M491.88 121.03L496.63 118.53L496.63 123.53Z" fill="#ff00ff"/><path d="M494.2 124.17L498.95 121.67L498.95 126.67Z" fill="#ff00ff"/><path d="M496.48 127.33L501.23 124.83L501.23 129.83Z" fill="#ff00ff"/><path d="M498.68 130.55L503.43 128.05L503.43 133.05Z" fill="#ff00ff"/><path d="M500.86 133.78L505.61 131.28L505.61 136.28Z" fill="#ff00ff"/><path d="M503.12 136.96L507.87 134.46L507.87 139.46Z" fill="#ff00ff"/><path d="M505.96 139.61L510.71 137.11L510.71 142.11Z" fill="#ff00ff"/><path d="M507.9 142.91L512.65 140.41L512.65 145.41Z" fill="#ff00ff"/><path d="M508.72 146.73L513.47 144.23L513.47 149.23Z" fill="#ff00ff"/><path d="M509.66 150.51L514.41 148.01L514.41 153.01Z" fill="#ff00ff"/><path d="M510.69 154.27L515.44 151.77L515.44 156.77Z" fill="#ff00ff"/><path d="M511.71 158.04L516.46 155.54L516.46 160.54Z" fill="#ff00ff"/>
<path d="M516.55 160.3L521.3 157.8L521.3 162.8Z" fill="#ff00ff"/><path d="M513.85 206L518.6 203.5L518.6 208.5Z" fill="#ff00ff"/>
<path d="M518.85 149.1L523.6 146.6L523.6 151.6Z" fill="#ff00ff"/><path d="M520 145.9L524.75 143.4L524.75 148.4Z" fill="#ff00ff"/><path d="M521.2 142.72L525.95 140.22L525.95 145.22Z" fill="#ff00ff"/><path d="M522.55 139.6L527.3 137.1L527.3 142.1Z" fill="#ff00ff"/><path d="M524.03 136.54L528.78 134.04L528.78 139.04Z" fill="#ff00ff"/><path d="M525.68 133.57L530.43 131.07L530.43 136.07Z" fill="#ff00ff"/><path d="M527.83 130.95L532.58 128.45L532.58 133.45Z" fill="#ff00ff"/><path d="M530.17 128.48L534.92 125.98L534.92 130.98Z" fill="#ff00ff"/><path d="M532.52 126.02L537.27 123.52L537.27 128.52Z" fill="#ff00ff"/><path d="M534.87 123.56L539.62 121.06L539.62 126.06Z" fill="#ff00ff"/>
<path d="M536.85 121.5L541.6 119L541.6 124Z" fill="#ff00ff"/><path d="M538.7 119.67L543.45 117.17L543.45 122.17Z" fill="#ff00ff"/><path d="M540.54 117.84L545.29 115.34L545.29 120.34Z" fill="#ff00ff"/><path d="M542.38 116L547.13 113.5L547.13 118.5Z" fill="#ff00ff"/><path d="M544.23 114.17L548.98 111.67L548.98 116.67Z" fill="#ff00ff"/><path d="M546.08 112.35L550.83 109.85L550.83 114.85Z" fill="#ff00ff"/><path d="M547.94 110.53L552.69 108.03L552.69 113.03Z" fill="#ff00ff"/><path d="M549.82 108.74L554.57 106.24L554.57 111.24Z" fill="#ff00ff"/><path d="M551.73 106.97L556.48 104.47L556.48 109.47Z" fill="#ff00ff"/><path d="M553.68 105.25L558.43 102.75L558.43 107.75Z" fill="#ff00ff"/><path d="M555.69 103.59L560.44 101.09L560.44 106.09Z" fill="#ff00ff"/><path d="M557.75 102.02L562.5 99.52L562.5 104.52Z" fill="#ff00ff"/><path d="M559.89 100.54L564.64 98.04L564.64 103.04Z" fill="#ff00ff"/><path d="M562.07 99.12L566.82 96.62L566.82 101.62Z" fill="#ff00ff"/><path d="M564.27 97.73L569.02 95.23L569.02 100.23Z" fill="#ff00ff"/><path d="M566.5 96.4L571.25 93.9L571.25 98.9Z" fill="#ff00ff"/><path d="M568.76 95.12L573.51 92.62L573.51 97.62Z" fill="#ff00ff"/><path d="M571.07 93.92L575.82 91.42L575.82 96.42Z" fill="#ff00ff"/><path d="M573.41 92.8L578.16 90.3L578.16 95.3Z" fill="#ff00ff"/><path d="M575.8 91.77L580.55 89.27L580.55 94.27Z" fill="#ff00ff"/><path d="M578.23 90.85L582.98 88.35L582.98 93.35Z" fill="#ff00ff"/><path d="M580.69 89.99L585.44 87.49L585.44 92.49Z" fill="#ff00ff"/><path d="M583.15 89.16L587.9 86.66L587.9 91.66Z" fill="#ff00ff"/><path d="M585.62 88.35L590.37 85.85L590.37 90.85Z" fill="#ff00ff"/><path d="M588.08 87.51L592.83 85.01L592.83 90.01Z" fill="#ff00ff"/><path d="M590.53 86.64L595.28 84.14L595.28 89.14Z" fill="#ff00ff"/><path d="M593 85.81L597.75 83.31L597.75 88.31Z" fill="#ff00ff"/><path d="M595.49 85.07L600.24 82.57L600.24 87.57Z" fill="#ff00ff"/><path d="M598 84.41L602.75 81.91L602.75 86.91Z" fill="#ff00ff"/><path d="M600.52 83.77L605.27 81.27L605.27 86.27Z" fill="#ff00ff"/><path d="M603.05 83.16L607.8 80.66L607.8 85.66Z" fill="#ff00ff"/><path d="M605.58 82.56L610.33 80.06L610.33 85.06Z" fill="#ff00ff"/><path d="M608.11 81.97L612.86 79.47L612.86 84.47Z" fill="#ff00ff"/><path d="M610.65 81.4L615.4 78.9L615.4 83.9Z" fill="#ff00ff"/><path d="M613.19 80.84L617.94 78.34L617.94 83.34Z" fill="#ff00ff"/><path d="M615.73 80.31L620.48 77.81L620.48 82.81Z" fill="#ff00ff"/><path d="M618.28 79.8L623.03 77.3L623.03 82.3Z" fill="#ff00ff"/><path d="M620.84 79.31L625.59 76.81L625.59 81.81Z" fill="#ff00ff"/><path d="M623.39 78.84L628.14 76.34L628.14 81.34Z" fill="#ff00ff"/><path d="M625.96 78.39L630.71 75.89L630.71 80.89Z" fill="#ff00ff"/><path d="M628.52 77.97L633.27 75.47L633.27 80.47Z" fill="#ff00ff"/><path d="M631.09 77.56L635.84 75.06L635.84 80.06Z" fill="#ff00ff"/><path d="M633.66 77.16L638.41 74.66L638.41 79.66Z" fill="#ff00ff"/><path d="M636.23 76.76L640.98 74.26L640.98 79.26Z" fill="#ff00ff"/><path d="M638.8 76.36L643.55 73.86L643.55 78.86Z" fill="#ff00ff"/><path d="M641.37 75.98L646.12 73.48L646.12 78.48Z" fill="#ff00ff"/><path d="M643.94 75.59L648.69 73.09L648.69 78.09Z" fill="#ff00ff"/><path d="M646.51 75.22L651.26 72.72L651.26 77.72Z" fill="#ff00ff"/><path d="M649.08 74.84L653.83 72.34L653.83 77.34Z" fill="#ff00ff"/><path d="M651.66 74.47L656.41 71.97L656.41 76.97Z" fill="#ff00ff"/><path d="M654.23 74.11L658.98 71.61L658.98 76.61Z" fill="#ff00ff"/><path d="M656.81 73.74L661.56 71.24L661.56 76.24Z" fill="#ff00ff"/><path d="M659.38 73.38L664.13 70.88L664.13 75.88Z" fill="#ff00ff"/><path d="M661.96 73.02L666.71 70.52L666.71 75.52Z" fill="#ff00ff"/><path d="M664.53 72.67L669.28 70.17L669.28 75.17Z" fill="#ff00ff"/><path d="M667.11 72.32L671.86 69.82L671.86 74.82Z" fill="#ff00ff"/><path d="M669.69 71.97L674.44 69.47L674.44 74.47Z" fill="#ff00ff"/><path d="M672.26 71.63L677.01 69.13L677.01 74.13Z" fill="#ff00ff"/><path d="M674.84 71.3L679.59 68.8L679.59 73.8Z" fill="#ff00ff"/><path d="M677.42 70.97L682.17 68.47L682.17 73.47Z" fill="#ff00ff"/><path d="M680 70.64L684.75 68.14L684.75 73.14Z" fill="#ff00ff"/><path d="M682.58 70.31L687.33 67.81L687.33 72.81Z" fill="#ff00ff"/><path d="M685.16 69.99L689.91 67.49L689.91 72.49Z" fill="#ff00ff"/><path d="M687.74 69.67L692.49 67.17L692.49 72.17Z" fill="#ff00ff"/><path d="M690.32 69.34L695.07 66.84L695.07 71.84Z" fill="#ff00ff"/><path d="M692.9 69.02L697.65 66.52L697.65 71.52Z" fill="#ff00ff"/><path d="M695.48 68.7L700.23 66.2L700.23 71.2Z" fill="#ff00ff"/>
<path d="M614.8 146.25L617.3 141.5L612.3 141.5Z" fill="#0000ff"/><path d="M617.03 149.33L619.53 144.58L614.53 144.58Z" fill="#0000ff"/><path d="M619.25 152.41L621.75 147.66L616.75 147.66Z" fill="#0000ff"/><path d="M621.51 155.47L624.01 150.72L619.01 150.72Z" fill="#0000ff"/><path d="M623.71 158.56L626.21 153.81L621.21 153.81Z" fill="#0000ff"/><path d="M625.74 161.78L628.24 157.03L623.24 157.03Z" fill="#0000ff"/><path d="M627.63 165.07L630.13 160.32L625.13 160.32Z" fill="#0000ff"/><path d="M629.42 168.42L631.92 163.67L626.92 163.67Z" fill="#0000ff"/><path d="M631.05 171.86L633.55 167.11L628.55 167.11Z" fill="#0000ff"/><path d="M632.4 175.41L634.9 170.66L629.9 170.66Z" fill="#0000ff"/><path d="M633.6 179.01L636.1 174.26L631.1 174.26Z" fill="#0000ff"/><path d="M634.76 182.63L637.26 177.88L632.26 177.88Z" fill="#0000ff"/>
<path d="M636.5 194.75L639 190L634 190Z" fill="#0000ff"/><path d="M639.1 213.15L641.6 208.4L636.6 208.4Z" fill="#0000ff"/><path d="M641.3 188.15L643.8 183.4L638.8 183.4Z" fill="#0000ff"/>
<path d="M644.6 178.45L647.1 173.7L642.1 173.7Z" fill="#0000ff"/><path d="M645.75 175.04L648.25 170.29L643.25 170.29Z" fill="#0000ff"/><path d="M647.03 171.68L649.53 166.93L644.53 166.93Z" fill="#0000ff"/><path d="M648.7 168.49L651.2 163.74L646.2 163.74Z" fill="#0000ff"/><path d="M650.64 165.46L653.14 160.71L648.14 160.71Z" fill="#0000ff"/><path d="M652.63 162.46L655.13 157.71L650.13 157.71Z" fill="#0000ff"/><path d="M654.67 159.49L657.17 154.74L652.17 154.74Z" fill="#0000ff"/><path d="M656.77 156.56L659.27 151.81L654.27 151.81Z" fill="#0000ff"/><path d="M658.97 153.72L661.47 148.97L656.47 148.97Z" fill="#0000ff"/><path d="M661.25 150.93L663.75 146.18L658.75 146.18Z" fill="#0000ff"/><path d="M663.53 148.15L666.03 143.4L661.03 143.4Z" fill="#0000ff"/><path d="M665.76 145.32L668.26 140.57L663.26 140.57Z" fill="#0000ff"/><path d="M667.95 142.46L670.45 137.71L665.45 137.71Z" fill="#0000ff"/><path d="M670.11 139.58L672.61 134.83L667.61 134.83Z" fill="#0000ff"/><path d="M672.26 136.69L674.76 131.94L669.76 131.94Z" fill="#0000ff"/><path d="M674.41 133.8L676.91 129.05L671.91 129.05Z" fill="#0000ff"/><path d="M676.54 130.9L679.04 126.15L674.04 126.15Z" fill="#0000ff"/><path d="M678.65 127.99L681.15 123.24L676.15 123.24Z" fill="#0000ff"/><path d="M680.78 125.09L683.28 120.34L678.28 120.34Z" fill="#0000ff"/><path d="M682.94 122.2L685.44 117.45L680.44 117.45Z" fill="#0000ff"/><path d="M685.14 119.35L687.64 114.6L682.64 114.6Z" fill="#0000ff"/><path d="M687.37 116.53L689.87 111.78L684.87 111.78Z" fill="#0000ff"/><path d="M689.62 113.72L692.12 108.97L687.12 108.97Z" fill="#0000ff"/><path d="M691.89 110.92L694.39 106.17L689.39 106.17Z" fill="#0000ff"/><path d="M694.17 108.14L696.67 103.39L691.67 103.39Z" fill="#0000ff"/><path d="M696.47 105.37L698.97 100.62L693.97 100.62Z" fill="#0000ff"/>
</g>
<line x1="508" y1="127.2" x2="497.08" y2="89.66" stroke="#111" stroke-width="0.8"/>
<path d="M496.1 86.3L498.89 90.17L495.82 91.07Z" fill="#111"/>
<line x1="538.5" y1="130.4" x2="531.99" y2="72.68" stroke="#111" stroke-width="0.8"/>
<path d="M531.6 69.2L533.69 73.49L530.51 73.85Z" fill="#111"/>
<line x1="579.7" y1="91.1" x2="575.58" y2="61.27" stroke="#111" stroke-width="0.8"/>
<path d="M575.1 57.8L577.3 62.04L574.13 62.48Z" fill="#111"/>
<line x1="551.7" y1="140" x2="594.88" y2="130.73" stroke="#111" stroke-width="0.8"/>
<path d="M598.3 130L594.24 132.51L593.56 129.38Z" fill="#111"/>
<line x1="500.4" y1="152.4" x2="485.66" y2="169.83" stroke="#111" stroke-width="0.8"/>
<path d="M483.4 172.5L485.08 168.03L487.53 170.1Z" fill="#111"/>
<line x1="622.2" y1="155.8" x2="598.44" y2="167.46" stroke="#111" stroke-width="0.8"/>
<path d="M595.3 169L598.63 165.58L600.04 168.45Z" fill="#111"/>
<text x="482.9" y="79.8" font-family="Liberation Sans" font-weight="bold" font-size="9.2" textLength="28.4" lengthAdjust="spacingAndGlyphs">25 ppm</text>
<text x="523.7" y="62.6" font-family="Liberation Sans" font-weight="bold" font-size="9.2" textLength="27.4" lengthAdjust="spacingAndGlyphs">1M HCl</text>
<text x="564.3" y="53.8" font-family="Liberation Sans" font-weight="bold" font-size="9.2" textLength="23.3" lengthAdjust="spacingAndGlyphs">5 ppm</text>
<text x="601.4" y="132.3" font-family="Liberation Sans" font-weight="bold" font-size="9.2" textLength="28" lengthAdjust="spacingAndGlyphs">15 ppm</text>
<text x="474" y="182.4" font-family="Liberation Sans" font-weight="bold" font-size="9.2" textLength="28" lengthAdjust="spacingAndGlyphs">10 ppm</text>
<text x="567.6" y="181.1" font-family="Liberation Sans" font-weight="bold" font-size="9.2" textLength="28.2" lengthAdjust="spacingAndGlyphs">20 ppm</text>
<path d="M192.1 507.88L194.3 512.06L189.9 512.06Z" fill="#00ff00"/><path d="M192.98 508.7L195.18 512.88L190.78 512.88Z" fill="#00ff00"/><path d="M193.86 509.51L196.06 513.69L191.66 513.69Z" fill="#00ff00"/><path d="M194.77 510.3L196.97 514.48L192.57 514.48Z" fill="#00ff00"/><path d="M195.71 511.04L197.91 515.22L193.51 515.22Z" fill="#00ff00"/><path d="M196.66 511.77L198.86 515.95L194.46 515.95Z" fill="#00ff00"/><path d="M197.63 512.48L199.83 516.66L195.43 516.66Z" fill="#00ff00"/><path d="M198.66 513.08L200.86 517.26L196.46 517.26Z" fill="#00ff00"/><path d="M199.81 513.44L202.01 517.62L197.61 517.62Z" fill="#00ff00"/><path d="M201 513.51L203.2 517.69L198.8 517.69Z" fill="#00ff00"/><path d="M202.19 513.37L204.39 517.55L199.99 517.55Z" fill="#00ff00"/><path d="M203.36 513.09L205.56 517.27L201.16 517.27Z" fill="#00ff00"/><path d="M204.49 512.69L206.69 516.87L202.29 516.87Z" fill="#00ff00"/><path d="M205.54 512.12L207.74 516.3L203.34 516.3Z" fill="#00ff00"/><path d="M206.53 511.44L208.73 515.62L204.33 515.62Z" fill="#00ff00"/><path d="M207.5 510.73L209.7 514.91L205.3 514.91Z" fill="#00ff00"/><path d="M208.48 510.04L210.68 514.22L206.28 514.22Z" fill="#00ff00"/><path d="M209.44 509.31L211.64 513.49L207.24 513.49Z" fill="#00ff00"/><path d="M210.38 508.57L212.58 512.75L208.18 512.75Z" fill="#00ff00"/><path d="M211.33 507.83L213.53 512.01L209.13 512.01Z" fill="#00ff00"/><path d="M212.29 507.11L214.49 511.29L210.09 511.29Z" fill="#00ff00"/><path d="M213.26 506.41L215.46 510.59L211.06 510.59Z" fill="#00ff00"/><path d="M214.26 505.74L216.46 509.92L212.06 509.92Z" fill="#00ff00"/><path d="M215.26 505.09L217.46 509.27L213.06 509.27Z" fill="#00ff00"/><path d="M216.28 504.45L218.48 508.63L214.08 508.63Z" fill="#00ff00"/><path d="M217.3 503.82L219.5 508L215.1 508Z" fill="#00ff00"/><path d="M218.34 503.23L220.54 507.41L216.14 507.41Z" fill="#00ff00"/><path d="M219.41 502.67L221.61 506.85L217.21 506.85Z" fill="#00ff00"/><path d="M220.49 502.15L222.69 506.33L218.29 506.33Z" fill="#00ff00"/><path d="M221.58 501.65L223.78 505.83L219.38 505.83Z" fill="#00ff00"/><path d="M222.69 501.2L224.89 505.38L220.49 505.38Z" fill="#00ff00"/><path d="M223.83 500.81L226.03 504.99L221.63 504.99Z" fill="#00ff00"/><path d="M224.98 500.48L227.18 504.66L222.78 504.66Z" fill="#00ff00"/><path d="M226.14 500.19L228.34 504.37L223.94 504.37Z" fill="#00ff00"/><path d="M227.31 499.92L229.51 504.1L225.11 504.1Z" fill="#00ff00"/><path d="M228.49 499.67L230.69 503.85L226.29 503.85Z" fill="#00ff00"/><path d="M229.66 499.44L231.86 503.62L227.46 503.62Z" fill="#00ff00"/><path d="M230.84 499.21L233.04 503.39L228.64 503.39Z" fill="#00ff00"/><path d="M232.02 499L234.22 503.18L229.82 503.18Z" fill="#00ff00"/><path d="M233.21 498.79L235.41 502.97L231.01 502.97Z" fill="#00ff00"/><path d="M234.39 498.59L236.59 502.77L232.19 502.77Z" fill="#00ff00"/><path d="M235.57 498.41L237.77 502.59L233.37 502.59Z" fill="#00ff00"/><path d="M236.76 498.23L238.96 502.41L234.56 502.41Z" fill="#00ff00"/><path d="M237.95 498.05L240.15 502.23L235.75 502.23Z" fill="#00ff00"/><path d="M239.14 497.89L241.34 502.07L236.94 502.07Z" fill="#00ff00"/><path d="M240.33 497.74L242.53 501.92L238.13 501.92Z" fill="#00ff00"/><path d="M241.52 497.6L243.72 501.78L239.32 501.78Z" fill="#00ff00"/><path d="M242.71 497.46L244.91 501.64L240.51 501.64Z" fill="#00ff00"/><path d="M243.91 497.34L246.11 501.52L241.71 501.52Z" fill="#00ff00"/><path d="M245.1 497.22L247.3 501.4L242.9 501.4Z" fill="#00ff00"/><path d="M246.3 497.12L248.5 501.3L244.1 501.3Z" fill="#00ff00"/><path d="M247.49 497.03L249.69 501.21L245.29 501.21Z" fill="#00ff00"/><path d="M248.69 496.94L250.89 501.12L246.49 501.12Z" fill="#00ff00"/><path d="M249.89 496.86L252.09 501.04L247.69 501.04Z" fill="#00ff00"/><path d="M251.08 496.78L253.28 500.96L248.88 500.96Z" fill="#00ff00"/><path d="M252.28 496.71L254.48 500.89L250.08 500.89Z" fill="#00ff00"/><path d="M253.48 496.64L255.68 500.82L251.28 500.82Z" fill="#00ff00"/><path d="M254.68 496.58L256.88 500.76L252.48 500.76Z" fill="#00ff00"/><path d="M255.88 496.51L258.08 500.69L253.68 500.69Z" fill="#00ff00"/><path d="M257.07 496.45L259.27 500.63L254.87 500.63Z" fill="#00ff00"/><path d="M258.27 496.4L260.47 500.58L256.07 500.58Z" fill="#00ff00"/><path d="M259.47 496.34L261.67 500.52L257.27 500.52Z" fill="#00ff00"/><path d="M260.67 496.29L262.87 500.47L258.47 500.47Z" fill="#00ff00"/><path d="M261.87 496.24L264.07 500.42L259.67 500.42Z" fill="#00ff00"/><path d="M263.07 496.19L265.27 500.37L260.87 500.37Z" fill="#00ff00"/><path d="M264.27 496.14L266.47 500.32L262.07 500.32Z" fill="#00ff00"/><path d="M265.47 496.1L267.67 500.28L263.27 500.28Z" fill="#00ff00"/><path d="M266.67 496.05L268.87 500.23L264.47 500.23Z" fill="#00ff00"/><path d="M267.87 496.01L270.07 500.19L265.67 500.19Z" fill="#00ff00"/><path d="M269.06 495.96L271.26 500.14L266.86 500.14Z" fill="#00ff00"/><path d="M270.26 495.92L272.46 500.1L268.06 500.1Z" fill="#00ff00"/><path d="M271.46 495.88L273.66 500.06L269.26 500.06Z" fill="#00ff00"/><path d="M272.66 495.84L274.86 500.02L270.46 500.02Z" fill="#00ff00"/><path d="M273.86 495.79L276.06 499.97L271.66 499.97Z" fill="#00ff00"/><path d="M275.06 495.75L277.26 499.93L272.86 499.93Z" fill="#00ff00"/><path d="M276.26 495.71L278.46 499.89L274.06 499.89Z" fill="#00ff00"/><path d="M277.46 495.67L279.66 499.85L275.26 499.85Z" fill="#00ff00"/><path d="M278.66 495.63L280.86 499.81L276.46 499.81Z" fill="#00ff00"/><path d="M279.86 495.58L282.06 499.76L277.66 499.76Z" fill="#00ff00"/><path d="M281.06 495.54L283.26 499.72L278.86 499.72Z" fill="#00ff00"/><path d="M282.26 495.5L284.46 499.68L280.06 499.68Z" fill="#00ff00"/><path d="M283.46 495.46L285.66 499.64L281.26 499.64Z" fill="#00ff00"/><path d="M284.66 495.42L286.86 499.6L282.46 499.6Z" fill="#00ff00"/><path d="M285.85 495.39L288.05 499.57L283.65 499.57Z" fill="#00ff00"/><path d="M287.05 495.35L289.25 499.53L284.85 499.53Z" fill="#00ff00"/><path d="M288.25 495.31L290.45 499.49L286.05 499.49Z" fill="#00ff00"/><path d="M289.45 495.28L291.65 499.46L287.25 499.46Z" fill="#00ff00"/><path d="M290.65 495.24L292.85 499.42L288.45 499.42Z" fill="#00ff00"/><path d="M291.85 495.2L294.05 499.38L289.65 499.38Z" fill="#00ff00"/><path d="M293.05 495.17L295.25 499.35L290.85 499.35Z" fill="#00ff00"/><path d="M294.25 495.13L296.45 499.31L292.05 499.31Z" fill="#00ff00"/><path d="M295.45 495.1L297.65 499.28L293.25 499.28Z" fill="#00ff00"/><path d="M296.65 495.06L298.85 499.24L294.45 499.24Z" fill="#00ff00"/><path d="M297.85 495.03L300.05 499.21L295.65 499.21Z" fill="#00ff00"/><path d="M299.05 495L301.25 499.18L296.85 499.18Z" fill="#00ff00"/><path d="M300.25 494.96L302.45 499.14L298.05 499.14Z" fill="#00ff00"/><path d="M301.45 494.93L303.65 499.11L299.25 499.11Z" fill="#00ff00"/><path d="M302.65 494.89L304.85 499.07L300.45 499.07Z" fill="#00ff00"/>
<circle cx="104.8" cy="426.4" r="2.3" fill="#ff0000"/><circle cx="105.97" cy="426.65" r="2.3" fill="#ff0000"/><circle cx="107.15" cy="426.89" r="2.3" fill="#ff0000"/><circle cx="108.32" cy="427.14" r="2.3" fill="#ff0000"/><circle cx="109.5" cy="427.38" r="2.3" fill="#ff0000"/><circle cx="110.67" cy="427.63" r="2.3" fill="#ff0000"/><circle cx="111.85" cy="427.87" r="2.3" fill="#ff0000"/><circle cx="113.02" cy="428.12" r="2.3" fill="#ff0000"/><circle cx="114.2" cy="428.37" r="2.3" fill="#ff0000"/><circle cx="115.37" cy="428.61" r="2.3" fill="#ff0000"/><circle cx="116.54" cy="428.86" r="2.3" fill="#ff0000"/><circle cx="117.72" cy="429.11" r="2.3" fill="#ff0000"/><circle cx="118.89" cy="429.36" r="2.3" fill="#ff0000"/><circle cx="120.07" cy="429.61" r="2.3" fill="#ff0000"/><circle cx="121.24" cy="429.86" r="2.3" fill="#ff0000"/><circle cx="122.41" cy="430.11" r="2.3" fill="#ff0000"/><circle cx="123.59" cy="430.35" r="2.3" fill="#ff0000"/><circle cx="124.77" cy="430.59" r="2.3" fill="#ff0000"/><circle cx="125.94" cy="430.83" r="2.3" fill="#ff0000"/><circle cx="127.12" cy="431.07" r="2.3" fill="#ff0000"/><circle cx="128.29" cy="431.32" r="2.3" fill="#ff0000"/><circle cx="129.46" cy="431.57" r="2.3" fill="#ff0000"/><circle cx="130.63" cy="431.83" r="2.3" fill="#ff0000"/><circle cx="131.8" cy="432.11" r="2.3" fill="#ff0000"/><circle cx="132.97" cy="432.39" r="2.3" fill="#ff0000"/><circle cx="134.13" cy="432.7" r="2.3" fill="#ff0000"/><circle cx="135.28" cy="433.02" r="2.3" fill="#ff0000"/><circle cx="136.44" cy="433.36" r="2.3" fill="#ff0000"/><circle cx="137.58" cy="433.71" r="2.3" fill="#ff0000"/><circle cx="138.73" cy="434.07" r="2.3" fill="#ff0000"/><circle cx="139.87" cy="434.45" r="2.3" fill="#ff0000"/><circle cx="141" cy="434.84" r="2.3" fill="#ff0000"/><circle cx="142.13" cy="435.24" r="2.3" fill="#ff0000"/><circle cx="143.26" cy="435.65" r="2.3" fill="#ff0000"/><circle cx="144.38" cy="436.08" r="2.3" fill="#ff0000"/><circle cx="145.5" cy="436.51" r="2.3" fill="#ff0000"/><circle cx="146.62" cy="436.95" r="2.3" fill="#ff0000"/><circle cx="147.73" cy="437.4" r="2.3" fill="#ff0000"/><circle cx="148.84" cy="437.86" r="2.3" fill="#ff0000"/><circle cx="149.94" cy="438.34" r="2.3" fill="#ff0000"/><circle cx="151.03" cy="438.83" r="2.3" fill="#ff0000"/><circle cx="152.12" cy="439.33" r="2.3" fill="#ff0000"/><circle cx="153.21" cy="439.85" r="2.3" fill="#ff0000"/><circle cx="154.29" cy="440.37" r="2.3" fill="#ff0000"/><circle cx="155.37" cy="440.89" r="2.3" fill="#ff0000"/><circle cx="156.44" cy="441.42" r="2.3" fill="#ff0000"/><circle cx="157.52" cy="441.96" r="2.3" fill="#ff0000"/><circle cx="158.59" cy="442.5" r="2.3" fill="#ff0000"/><circle cx="159.66" cy="443.04" r="2.3" fill="#ff0000"/><circle cx="160.73" cy="443.58" r="2.3" fill="#ff0000"/><circle cx="161.79" cy="444.14" r="2.3" fill="#ff0000"/><circle cx="162.85" cy="444.7" r="2.3" fill="#ff0000"/><circle cx="163.91" cy="445.27" r="2.3" fill="#ff0000"/><circle cx="164.96" cy="445.85" r="2.3" fill="#ff0000"/><circle cx="166.01" cy="446.44" r="2.3" fill="#ff0000"/><circle cx="167.05" cy="447.04" r="2.3" fill="#ff0000"/><circle cx="168.08" cy="447.65" r="2.3" fill="#ff0000"/><circle cx="169.11" cy="448.26" r="2.3" fill="#ff0000"/><circle cx="170.14" cy="448.88" r="2.3" fill="#ff0000"/><circle cx="171.16" cy="449.51" r="2.3" fill="#ff0000"/><circle cx="172.18" cy="450.14" r="2.3" fill="#ff0000"/><circle cx="173.19" cy="450.79" r="2.3" fill="#ff0000"/><circle cx="174.2" cy="451.45" r="2.3" fill="#ff0000"/><circle cx="175.19" cy="452.12" r="2.3" fill="#ff0000"/><circle cx="176.16" cy="452.82" r="2.3" fill="#ff0000"/><circle cx="177.12" cy="453.54" r="2.3" fill="#ff0000"/><circle cx="178.06" cy="454.29" r="2.3" fill="#ff0000"/><circle cx="178.97" cy="455.07" r="2.3" fill="#ff0000"/><circle cx="179.87" cy="455.87" r="2.3" fill="#ff0000"/><circle cx="180.74" cy="456.69" r="2.3" fill="#ff0000"/><circle cx="181.59" cy="457.54" r="2.3" fill="#ff0000"/><circle cx="182.43" cy="458.4" r="2.3" fill="#ff0000"/><circle cx="183.25" cy="459.28" r="2.3" fill="#ff0000"/><circle cx="184.06" cy="460.16" r="2.3" fill="#ff0000"/><circle cx="184.85" cy="461.06" r="2.3" fill="#ff0000"/><circle cx="185.64" cy="461.96" r="2.3" fill="#ff0000"/><circle cx="186.41" cy="462.89" r="2.3" fill="#ff0000"/><circle cx="187.16" cy="463.82" r="2.3" fill="#ff0000"/><circle cx="187.9" cy="464.77" r="2.3" fill="#ff0000"/><circle cx="188.61" cy="465.73" r="2.3" fill="#ff0000"/><circle cx="189.3" cy="466.71" r="2.3" fill="#ff0000"/><circle cx="189.97" cy="467.71" r="2.3" fill="#ff0000"/><circle cx="190.61" cy="468.72" r="2.3" fill="#ff0000"/><circle cx="191.23" cy="469.76" r="2.3" fill="#ff0000"/><circle cx="191.82" cy="470.8" r="2.3" fill="#ff0000"/><circle cx="192.39" cy="471.86" r="2.3" fill="#ff0000"/><circle cx="192.94" cy="472.92" r="2.3" fill="#ff0000"/><circle cx="193.48" cy="473.99" r="2.3" fill="#ff0000"/><circle cx="194.01" cy="475.07" r="2.3" fill="#ff0000"/><circle cx="194.52" cy="476.15" r="2.3" fill="#ff0000"/><circle cx="195.03" cy="477.24" r="2.3" fill="#ff0000"/><circle cx="195.51" cy="478.34" r="2.3" fill="#ff0000"/><circle cx="195.98" cy="479.45" r="2.3" fill="#ff0000"/><circle cx="196.43" cy="480.56" r="2.3" fill="#ff0000"/><circle cx="196.87" cy="481.67" r="2.3" fill="#ff0000"/><circle cx="197.31" cy="482.79" r="2.3" fill="#ff0000"/><circle cx="197.74" cy="483.91" r="2.3" fill="#ff0000"/><circle cx="198.17" cy="485.03" r="2.3" fill="#ff0000"/><circle cx="198.59" cy="486.15" r="2.3" fill="#ff0000"/><circle cx="199.02" cy="487.28" r="2.3" fill="#ff0000"/><circle cx="199.43" cy="488.4" r="2.3" fill="#ff0000"/><circle cx="199.83" cy="489.53" r="2.3" fill="#ff0000"/><circle cx="200.21" cy="490.67" r="2.3" fill="#ff0000"/><circle cx="200.57" cy="491.82" r="2.3" fill="#ff0000"/><circle cx="200.9" cy="492.97" r="2.3" fill="#ff0000"/><circle cx="201.2" cy="494.13" r="2.3" fill="#ff0000"/><circle cx="201.48" cy="495.3" r="2.3" fill="#ff0000"/><circle cx="201.74" cy="496.47" r="2.3" fill="#ff0000"/><circle cx="201.97" cy="497.65" r="2.3" fill="#ff0000"/><circle cx="202.19" cy="498.83" r="2.3" fill="#ff0000"/><circle cx="202.4" cy="500.01" r="2.3" fill="#ff0000"/><circle cx="202.6" cy="501.19" r="2.3" fill="#ff0000"/><circle cx="202.77" cy="502.38" r="2.3" fill="#ff0000"/><circle cx="202.92" cy="503.57" r="2.3" fill="#ff0000"/><circle cx="203.07" cy="504.76" r="2.3" fill="#ff0000"/><circle cx="203.2" cy="505.96" r="2.3" fill="#ff0000"/><circle cx="203.34" cy="507.15" r="2.3" fill="#ff0000"/><circle cx="203.47" cy="508.34" r="2.3" fill="#ff0000"/>
<path d="M105.3 431.63L107.6 427.26L103 427.26Z" fill="#0000ff"/><path d="M106.46 431.92L108.76 427.55L104.16 427.55Z" fill="#0000ff"/><path d="M107.63 432.21L109.93 427.84L105.33 427.84Z" fill="#0000ff"/><path d="M108.79 432.51L111.09 428.14L106.49 428.14Z" fill="#0000ff"/><path d="M109.96 432.8L112.26 428.43L107.66 428.43Z" fill="#0000ff"/><path d="M111.12 433.09L113.42 428.72L108.82 428.72Z" fill="#0000ff"/><path d="M112.28 433.38L114.58 429.01L109.98 429.01Z" fill="#0000ff"/><path d="M113.45 433.68L115.75 429.31L111.15 429.31Z" fill="#0000ff"/><path d="M114.61 433.97L116.91 429.6L112.31 429.6Z" fill="#0000ff"/><path d="M115.77 434.26L118.07 429.89L113.47 429.89Z" fill="#0000ff"/><path d="M116.94 434.56L119.24 430.19L114.64 430.19Z" fill="#0000ff"/><path d="M118.1 434.85L120.4 430.48L115.8 430.48Z" fill="#0000ff"/><path d="M119.26 435.14L121.56 430.77L116.96 430.77Z" fill="#0000ff"/><path d="M120.43 435.44L122.73 431.07L118.13 431.07Z" fill="#0000ff"/><path d="M121.59 435.73L123.89 431.36L119.29 431.36Z" fill="#0000ff"/><path d="M122.75 436.03L125.05 431.66L120.45 431.66Z" fill="#0000ff"/><path d="M123.92 436.32L126.22 431.95L121.62 431.95Z" fill="#0000ff"/><path d="M125.08 436.61L127.38 432.24L122.78 432.24Z" fill="#0000ff"/><path d="M126.25 436.91L128.55 432.54L123.95 432.54Z" fill="#0000ff"/><path d="M127.41 437.2L129.71 432.83L125.11 432.83Z" fill="#0000ff"/><path d="M128.57 437.5L130.87 433.13L126.27 433.13Z" fill="#0000ff"/><path d="M129.73 437.79L132.03 433.42L127.43 433.42Z" fill="#0000ff"/><path d="M130.9 438.09L133.2 433.72L128.6 433.72Z" fill="#0000ff"/><path d="M132.06 438.39L134.36 434.02L129.76 434.02Z" fill="#0000ff"/><path d="M133.22 438.69L135.52 434.32L130.92 434.32Z" fill="#0000ff"/><path d="M134.38 439L136.68 434.63L132.08 434.63Z" fill="#0000ff"/><path d="M135.54 439.3L137.84 434.93L133.24 434.93Z" fill="#0000ff"/><path d="M136.7 439.6L139 435.23L134.4 435.23Z" fill="#0000ff"/><path d="M137.87 439.89L140.17 435.52L135.57 435.52Z" fill="#0000ff"/><path d="M139.03 440.18L141.33 435.81L136.73 435.81Z" fill="#0000ff"/><path d="M140.2 440.47L142.5 436.1L137.9 436.1Z" fill="#0000ff"/><path d="M141.36 440.77L143.66 436.4L139.06 436.4Z" fill="#0000ff"/><path d="M142.52 441.08L144.82 436.71L140.22 436.71Z" fill="#0000ff"/><path d="M143.67 441.4L145.97 437.03L141.37 437.03Z" fill="#0000ff"/><path d="M144.83 441.74L147.13 437.37L142.53 437.37Z" fill="#0000ff"/><path d="M145.97 442.11L148.27 437.74L143.67 437.74Z" fill="#0000ff"/><path d="M147.1 442.5L149.4 438.13L144.8 438.13Z" fill="#0000ff"/><path d="M148.23 442.92L150.53 438.55L145.93 438.55Z" fill="#0000ff"/><path d="M149.34 443.36L151.64 438.99L147.04 438.99Z" fill="#0000ff"/><path d="M150.44 443.84L152.74 439.47L148.14 439.47Z" fill="#0000ff"/><path d="M151.54 444.33L153.84 439.96L149.24 439.96Z" fill="#0000ff"/><path d="M152.62 444.84L154.92 440.47L150.32 440.47Z" fill="#0000ff"/><path d="M153.7 445.37L156 441L151.4 441Z" fill="#0000ff"/><path d="M154.77 445.91L157.07 441.54L152.47 441.54Z" fill="#0000ff"/><path d="M155.85 446.45L158.15 442.08L153.55 442.08Z" fill="#0000ff"/><path d="M156.92 446.99L159.22 442.62L154.62 442.62Z" fill="#0000ff"/><path d="M157.99 447.52L160.29 443.15L155.69 443.15Z" fill="#0000ff"/><path d="M159.06 448.06L161.36 443.69L156.76 443.69Z" fill="#0000ff"/><path d="M160.14 448.59L162.44 444.22L157.84 444.22Z" fill="#0000ff"/><path d="M161.21 449.13L163.51 444.76L158.91 444.76Z" fill="#0000ff"/><path d="M162.28 449.67L164.58 445.3L159.98 445.3Z" fill="#0000ff"/><path d="M163.35 450.22L165.65 445.85L161.05 445.85Z" fill="#0000ff"/><path d="M164.42 450.77L166.72 446.4L162.12 446.4Z" fill="#0000ff"/><path d="M165.48 451.33L167.78 446.96L163.18 446.96Z" fill="#0000ff"/><path d="M166.53 451.91L168.83 447.54L164.23 447.54Z" fill="#0000ff"/><path d="M167.57 452.5L169.87 448.13L165.27 448.13Z" fill="#0000ff"/><path d="M168.61 453.11L170.91 448.74L166.31 448.74Z" fill="#0000ff"/><path d="M169.63 453.74L171.93 449.37L167.33 449.37Z" fill="#0000ff"/><path d="M170.64 454.38L172.94 450.01L168.34 450.01Z" fill="#0000ff"/><path d="M171.65 455.03L173.95 450.66L169.35 450.66Z" fill="#0000ff"/><path d="M172.65 455.7L174.95 451.33L170.35 451.33Z" fill="#0000ff"/><path d="M173.64 456.38L175.94 452.01L171.34 452.01Z" fill="#0000ff"/><path d="M174.61 457.08L176.91 452.71L172.31 452.71Z" fill="#0000ff"/><path d="M175.58 457.79L177.88 453.42L173.28 453.42Z" fill="#0000ff"/><path d="M176.54 458.51L178.84 454.14L174.24 454.14Z" fill="#0000ff"/><path d="M177.48 459.26L179.78 454.89L175.18 454.89Z" fill="#0000ff"/><path d="M178.4 460.02L180.7 455.65L176.1 455.65Z" fill="#0000ff"/><path d="M179.31 460.8L181.61 456.43L177.01 456.43Z" fill="#0000ff"/><path d="M180.2 461.62L182.5 457.25L177.9 457.25Z" fill="#0000ff"/><path d="M181.06 462.45L183.36 458.08L178.76 458.08Z" fill="#0000ff"/><path d="M181.89 463.31L184.19 458.94L179.59 458.94Z" fill="#0000ff"/><path d="M182.71 464.19L185.01 459.82L180.41 459.82Z" fill="#0000ff"/><path d="M183.51 465.08L185.81 460.71L181.21 460.71Z" fill="#0000ff"/><path d="M184.3 465.99L186.6 461.62L182 461.62Z" fill="#0000ff"/><path d="M185.07 466.91L187.37 462.54L182.77 462.54Z" fill="#0000ff"/><path d="M185.84 467.83L188.14 463.46L183.54 463.46Z" fill="#0000ff"/><path d="M186.59 468.77L188.89 464.4L184.29 464.4Z" fill="#0000ff"/><path d="M187.3 469.73L189.6 465.36L185 465.36Z" fill="#0000ff"/><path d="M187.98 470.72L190.28 466.35L185.68 466.35Z" fill="#0000ff"/><path d="M188.64 471.72L190.94 467.35L186.34 467.35Z" fill="#0000ff"/><path d="M189.29 472.73L191.59 468.36L186.99 468.36Z" fill="#0000ff"/><path d="M189.95 473.74L192.25 469.37L187.65 469.37Z" fill="#0000ff"/><path d="M190.64 474.72L192.94 470.35L188.34 470.35Z" fill="#0000ff"/><path d="M191.36 475.68L193.66 471.31L189.06 471.31Z" fill="#0000ff"/><path d="M192.09 476.63L194.39 472.26L189.79 472.26Z" fill="#0000ff"/><path d="M192.84 477.57L195.14 473.2L190.54 473.2Z" fill="#0000ff"/><path d="M193.58 478.51L195.88 474.14L191.28 474.14Z" fill="#0000ff"/>
<rect x="210.15" y="514.82" width="3.2" height="3.2" fill="#000000"/><rect x="210.49" y="513.26" width="3.2" height="3.2" fill="#000000"/><rect x="210.83" y="511.69" width="3.2" height="3.2" fill="#000000"/><rect x="211.18" y="510.13" width="3.2" height="3.2" fill="#000000"/><rect x="211.52" y="508.57" width="3.2" height="3.2" fill="#000000"/><rect x="211.87" y="507.01" width="3.2" height="3.2" fill="#000000"/><rect x="212.23" y="505.45" width="3.2" height="3.2" fill="#000000"/><rect x="212.59" y="503.89" width="3.2" height="3.2" fill="#000000"/><rect x="212.94" y="502.33" width="3.2" height="3.2" fill="#000000"/><rect x="213.3" y="500.77" width="3.2" height="3.2" fill="#000000"/><rect x="213.67" y="499.21" width="3.2" height="3.2" fill="#000000"/><rect x="214.05" y="497.66" width="3.2" height="3.2" fill="#000000"/><rect x="214.44" y="496.11" width="3.2" height="3.2" fill="#000000"/><rect x="214.86" y="494.56" width="3.2" height="3.2" fill="#000000"/><rect x="215.28" y="493.02" width="3.2" height="3.2" fill="#000000"/><rect x="215.71" y="491.48" width="3.2" height="3.2" fill="#000000"/><rect x="216.15" y="489.94" width="3.2" height="3.2" fill="#000000"/><rect x="216.59" y="488.4" width="3.2" height="3.2" fill="#000000"/><rect x="217.06" y="486.87" width="3.2" height="3.2" fill="#000000"/><rect x="217.53" y="485.34" width="3.2" height="3.2" fill="#000000"/><rect x="218.02" y="483.82" width="3.2" height="3.2" fill="#000000"/><rect x="218.51" y="482.3" width="3.2" height="3.2" fill="#000000"/><rect x="219.02" y="480.78" width="3.2" height="3.2" fill="#000000"/><rect x="219.53" y="479.26" width="3.2" height="3.2" fill="#000000"/><rect x="220.05" y="477.75" width="3.2" height="3.2" fill="#000000"/><rect x="220.6" y="476.25" width="3.2" height="3.2" fill="#000000"/><rect x="221.16" y="474.75" width="3.2" height="3.2" fill="#000000"/><rect x="221.75" y="473.26" width="3.2" height="3.2" fill="#000000"/><rect x="222.37" y="471.79" width="3.2" height="3.2" fill="#000000"/><rect x="223.02" y="470.32" width="3.2" height="3.2" fill="#000000"/><rect x="223.69" y="468.87" width="3.2" height="3.2" fill="#000000"/><rect x="224.37" y="467.43" width="3.2" height="3.2" fill="#000000"/><rect x="225.08" y="465.99" width="3.2" height="3.2" fill="#000000"/><rect x="225.81" y="464.56" width="3.2" height="3.2" fill="#000000"/><rect x="226.55" y="463.15" width="3.2" height="3.2" fill="#000000"/><rect x="227.3" y="461.73" width="3.2" height="3.2" fill="#000000"/><rect x="228.06" y="460.33" width="3.2" height="3.2" fill="#000000"/><rect x="228.83" y="458.92" width="3.2" height="3.2" fill="#000000"/><rect x="229.61" y="457.52" width="3.2" height="3.2" fill="#000000"/><rect x="230.37" y="456.12" width="3.2" height="3.2" fill="#000000"/><rect x="231.06" y="454.68" width="3.2" height="3.2" fill="#000000"/><rect x="231.79" y="453.25" width="3.2" height="3.2" fill="#000000"/><rect x="232.56" y="451.85" width="3.2" height="3.2" fill="#000000"/><rect x="233.37" y="450.47" width="3.2" height="3.2" fill="#000000"/>
<path d="M209.69 518.5L211.99 514.13L207.39 514.13Z" fill="#0000ff"/><path d="M209.95 517.33L212.25 512.96L207.65 512.96Z" fill="#0000ff"/><path d="M210.21 516.15L212.51 511.78L207.91 511.78Z" fill="#0000ff"/><path d="M210.47 514.98L212.77 510.61L208.17 510.61Z" fill="#0000ff"/><path d="M210.72 513.81L213.02 509.44L208.42 509.44Z" fill="#0000ff"/><path d="M210.98 512.64L213.28 508.27L208.68 508.27Z" fill="#0000ff"/><path d="M211.25 511.47L213.55 507.1L208.95 507.1Z" fill="#0000ff"/><path d="M211.51 510.3L213.81 505.93L209.21 505.93Z" fill="#0000ff"/><path d="M211.78 509.13L214.08 504.76L209.48 504.76Z" fill="#0000ff"/><path d="M212.05 507.96L214.35 503.59L209.75 503.59Z" fill="#0000ff"/><path d="M212.31 506.79L214.61 502.42L210.01 502.42Z" fill="#0000ff"/><path d="M212.58 505.62L214.88 501.25L210.28 501.25Z" fill="#0000ff"/><path d="M212.85 504.45L215.15 500.08L210.55 500.08Z" fill="#0000ff"/><path d="M213.12 503.28L215.42 498.91L210.82 498.91Z" fill="#0000ff"/><path d="M213.4 502.11L215.7 497.74L211.1 497.74Z" fill="#0000ff"/><path d="M213.69 500.95L215.99 496.58L211.39 496.58Z" fill="#0000ff"/><path d="M213.99 499.79L216.29 495.42L211.69 495.42Z" fill="#0000ff"/><path d="M214.3 498.63L216.6 494.26L212 494.26Z" fill="#0000ff"/><path d="M214.61 497.47L216.91 493.1L212.31 493.1Z" fill="#0000ff"/><path d="M214.93 496.31L217.23 491.94L212.63 491.94Z" fill="#0000ff"/><path d="M215.25 495.15L217.55 490.78L212.95 490.78Z" fill="#0000ff"/><path d="M215.58 494L217.88 489.63L213.28 489.63Z" fill="#0000ff"/><path d="M215.91 492.85L218.21 488.48L213.61 488.48Z" fill="#0000ff"/><path d="M216.25 491.7L218.55 487.33L213.95 487.33Z" fill="#0000ff"/><path d="M216.6 490.55L218.9 486.18L214.3 486.18Z" fill="#0000ff"/><path d="M216.95 489.4L219.25 485.03L214.65 485.03Z" fill="#0000ff"/><path d="M217.31 488.26L219.61 483.89L215.01 483.89Z" fill="#0000ff"/><path d="M217.68 487.11L219.98 482.74L215.38 482.74Z" fill="#0000ff"/><path d="M218.05 485.97L220.35 481.6L215.75 481.6Z" fill="#0000ff"/><path d="M218.43 484.83L220.73 480.46L216.13 480.46Z" fill="#0000ff"/><path d="M218.81 483.69L221.11 479.32L216.51 479.32Z" fill="#0000ff"/><path d="M219.19 482.56L221.49 478.19L216.89 478.19Z" fill="#0000ff"/><path d="M219.59 481.42L221.89 477.05L217.29 477.05Z" fill="#0000ff"/><path d="M219.99 480.29L222.29 475.92L217.69 475.92Z" fill="#0000ff"/><path d="M220.4 479.17L222.7 474.8L218.1 474.8Z" fill="#0000ff"/><path d="M220.83 478.05L223.13 473.68L218.53 473.68Z" fill="#0000ff"/><path d="M221.27 476.93L223.57 472.56L218.97 472.56Z" fill="#0000ff"/><path d="M221.73 475.82L224.03 471.45L219.43 471.45Z" fill="#0000ff"/><path d="M222.2 474.72L224.5 470.35L219.9 470.35Z" fill="#0000ff"/><path d="M222.69 473.62L224.99 469.25L220.39 469.25Z" fill="#0000ff"/><path d="M223.19 472.53L225.49 468.16L220.89 468.16Z" fill="#0000ff"/><path d="M223.7 471.44L226 467.07L221.4 467.07Z" fill="#0000ff"/><path d="M224.22 470.36L226.52 465.99L221.92 465.99Z" fill="#0000ff"/><path d="M224.75 469.29L227.05 464.92L222.45 464.92Z" fill="#0000ff"/><path d="M225.29 468.22L227.59 463.85L222.99 463.85Z" fill="#0000ff"/><path d="M225.84 467.15L228.14 462.78L223.54 462.78Z" fill="#0000ff"/><path d="M226.4 466.09L228.7 461.72L224.1 461.72Z" fill="#0000ff"/><path d="M226.96 465.03L229.26 460.66L224.66 460.66Z" fill="#0000ff"/><path d="M227.54 463.98L229.84 459.61L225.24 459.61Z" fill="#0000ff"/><path d="M228.15 462.94L230.45 458.57L225.85 458.57Z" fill="#0000ff"/><path d="M228.85 461.97L231.15 457.6L226.55 457.6Z" fill="#0000ff"/><path d="M229.58 461.02L231.88 456.65L227.28 456.65Z" fill="#0000ff"/><path d="M230.32 460.07L232.62 455.7L228.02 455.7Z" fill="#0000ff"/><path d="M231.07 459.13L233.37 454.76L228.77 454.76Z" fill="#0000ff"/><path d="M231.84 458.21L234.14 453.84L229.54 453.84Z" fill="#0000ff"/><path d="M232.64 457.32L234.94 452.95L230.34 452.95Z" fill="#0000ff"/><path d="M233.46 456.45L235.76 452.08L231.16 452.08Z" fill="#0000ff"/><path d="M234.32 455.61L236.62 451.24L232.02 451.24Z" fill="#0000ff"/><path d="M235.22 454.81L237.52 450.44L232.92 450.44Z" fill="#0000ff"/><path d="M236.14 454.04L238.44 449.67L233.84 449.67Z" fill="#0000ff"/><path d="M237.08 453.29L239.38 448.92L234.78 448.92Z" fill="#0000ff"/><path d="M238.04 452.58L240.34 448.21L235.74 448.21Z" fill="#0000ff"/><path d="M239.03 451.89L241.33 447.52L236.73 447.52Z" fill="#0000ff"/><path d="M240.03 451.24L242.33 446.87L237.73 446.87Z" fill="#0000ff"/><path d="M241.05 450.6L243.35 446.23L238.75 446.23Z" fill="#0000ff"/><path d="M242 449.87L244.3 445.5L239.7 445.5Z" fill="#0000ff"/><path d="M242.93 449.12L245.23 444.75L240.63 444.75Z" fill="#0000ff"/><path d="M243.88 448.38L246.18 444.01L241.58 444.01Z" fill="#0000ff"/><path d="M244.85 447.68L247.15 443.31L242.55 443.31Z" fill="#0000ff"/><path d="M245.87 447.05L248.17 442.68L243.57 442.68Z" fill="#0000ff"/><path d="M246.93 446.49L249.23 442.12L244.63 442.12Z" fill="#0000ff"/><path d="M248.02 445.97L250.32 441.6L245.72 441.6Z" fill="#0000ff"/><path d="M249.12 445.49L251.42 441.12L246.82 441.12Z" fill="#0000ff"/><path d="M250.23 445.04L252.53 440.67L247.93 440.67Z" fill="#0000ff"/><path d="M251.36 444.63L253.66 440.26L249.06 440.26Z" fill="#0000ff"/><path d="M252.48 444.2L254.78 439.83L250.18 439.83Z" fill="#0000ff"/><path d="M253.59 443.76L255.89 439.39L251.29 439.39Z" fill="#0000ff"/><path d="M254.7 443.28L257 438.91L252.4 438.91Z" fill="#0000ff"/><path d="M255.78 442.78L258.08 438.41L253.48 438.41Z" fill="#0000ff"/><path d="M256.88 442.29L259.18 437.92L254.58 437.92Z" fill="#0000ff"/><path d="M257.98 441.8L260.28 437.43L255.68 437.43Z" fill="#0000ff"/><path d="M259.08 441.33L261.38 436.96L256.78 436.96Z" fill="#0000ff"/><path d="M260.18 440.86L262.48 436.49L257.88 436.49Z" fill="#0000ff"/><path d="M261.28 440.38L263.58 436.01L258.98 436.01Z" fill="#0000ff"/><path d="M262.38 439.9L264.68 435.53L260.08 435.53Z" fill="#0000ff"/><path d="M263.53 439.54L265.83 435.17L261.23 435.17Z" fill="#0000ff"/><path d="M264.71 439.31L267.01 434.94L262.41 434.94Z" fill="#0000ff"/><path d="M265.89 439.16L268.19 434.79L263.59 434.79Z" fill="#0000ff"/><path d="M267.09 439.07L269.39 434.7L264.79 434.7Z" fill="#0000ff"/><path d="M268.21 438.67L270.51 434.3L265.91 434.3Z" fill="#0000ff"/><path d="M269.19 437.97L271.49 433.6L266.89 433.6Z" fill="#0000ff"/><path d="M270.23 437.39L272.53 433.02L267.93 433.02Z" fill="#0000ff"/><path d="M271.34 436.93L273.64 432.56L269.04 432.56Z" fill="#0000ff"/><path d="M272.47 436.51L274.77 432.14L270.17 432.14Z" fill="#0000ff"/><path d="M273.6 436.12L275.9 431.75L271.3 431.75Z" fill="#0000ff"/><path d="M274.74 435.74L277.04 431.37L272.44 431.37Z" fill="#0000ff"/><path d="M275.88 435.37L278.18 431L273.58 431Z" fill="#0000ff"/><path d="M277.03 435.01L279.33 430.64L274.73 430.64Z" fill="#0000ff"/><path d="M278.18 434.66L280.48 430.29L275.88 430.29Z" fill="#0000ff"/><path d="M279.33 434.33L281.63 429.96L277.03 429.96Z" fill="#0000ff"/><path d="M280.48 434L282.78 429.63L278.18 429.63Z" fill="#0000ff"/><path d="M281.64 433.67L283.94 429.3L279.34 429.3Z" fill="#0000ff"/><path d="M282.79 433.35L285.09 428.98L280.49 428.98Z" fill="#0000ff"/><path d="M283.95 433.04L286.25 428.67L281.65 428.67Z" fill="#0000ff"/><path d="M285.11 432.73L287.41 428.36L282.81 428.36Z" fill="#0000ff"/><path d="M286.27 432.42L288.57 428.05L283.97 428.05Z" fill="#0000ff"/><path d="M287.43 432.12L289.73 427.75L285.13 427.75Z" fill="#0000ff"/><path d="M288.59 431.82L290.89 427.45L286.29 427.45Z" fill="#0000ff"/><path d="M289.76 431.52L292.06 427.15L287.46 427.15Z" fill="#0000ff"/><path d="M290.92 431.23L293.22 426.86L288.62 426.86Z" fill="#0000ff"/><path d="M292.08 430.93L294.38 426.56L289.78 426.56Z" fill="#0000ff"/><path d="M293.25 430.65L295.55 426.28L290.95 426.28Z" fill="#0000ff"/><path d="M294.41 430.36L296.71 425.99L292.11 425.99Z" fill="#0000ff"/><path d="M295.58 430.08L297.88 425.71L293.28 425.71Z" fill="#0000ff"/><path d="M296.75 429.8L299.05 425.43L294.45 425.43Z" fill="#0000ff"/><path d="M297.92 429.53L300.22 425.16L295.62 425.16Z" fill="#0000ff"/><path d="M299.08 429.25L301.38 424.88L296.78 424.88Z" fill="#0000ff"/><path d="M300.25 428.98L302.55 424.61L297.95 424.61Z" fill="#0000ff"/><path d="M301.42 428.7L303.72 424.33L299.12 424.33Z" fill="#0000ff"/><path d="M302.59 428.43L304.89 424.06L300.29 424.06Z" fill="#0000ff"/>
<circle cx="238.15" cy="445.01" r="2" fill="#ff0000"/><circle cx="239.03" cy="444.19" r="2" fill="#ff0000"/><circle cx="239.92" cy="443.38" r="2" fill="#ff0000"/><circle cx="240.82" cy="442.59" r="2" fill="#ff0000"/><circle cx="241.75" cy="441.83" r="2" fill="#ff0000"/><circle cx="242.74" cy="441.16" r="2" fill="#ff0000"/><circle cx="243.8" cy="440.59" r="2" fill="#ff0000"/><circle cx="244.88" cy="440.07" r="2" fill="#ff0000"/><circle cx="245.98" cy="439.6" r="2" fill="#ff0000"/><circle cx="247.1" cy="439.16" r="2" fill="#ff0000"/><circle cx="248.22" cy="438.74" r="2" fill="#ff0000"/><circle cx="249.36" cy="438.36" r="2" fill="#ff0000"/><circle cx="250.5" cy="437.99" r="2" fill="#ff0000"/><circle cx="251.64" cy="437.62" r="2" fill="#ff0000"/><circle cx="252.79" cy="437.26" r="2" fill="#ff0000"/><circle cx="253.93" cy="436.9" r="2" fill="#ff0000"/><circle cx="255.08" cy="436.55" r="2" fill="#ff0000"/><circle cx="256.23" cy="436.2" r="2" fill="#ff0000"/><circle cx="257.38" cy="435.86" r="2" fill="#ff0000"/><circle cx="258.53" cy="435.53" r="2" fill="#ff0000"/><circle cx="259.69" cy="435.2" r="2" fill="#ff0000"/><circle cx="260.84" cy="434.87" r="2" fill="#ff0000"/><circle cx="262" cy="434.56" r="2" fill="#ff0000"/><circle cx="263.16" cy="434.25" r="2" fill="#ff0000"/><circle cx="264.32" cy="433.95" r="2" fill="#ff0000"/><circle cx="265.49" cy="433.67" r="2" fill="#ff0000"/><circle cx="266.65" cy="433.37" r="2" fill="#ff0000"/><circle cx="267.77" cy="432.95" r="2" fill="#ff0000"/><circle cx="268.88" cy="432.5" r="2" fill="#ff0000"/><circle cx="270" cy="432.07" r="2" fill="#ff0000"/><circle cx="271.13" cy="431.65" r="2" fill="#ff0000"/><circle cx="272.26" cy="431.24" r="2" fill="#ff0000"/><circle cx="273.39" cy="430.84" r="2" fill="#ff0000"/><circle cx="274.52" cy="430.45" r="2" fill="#ff0000"/><circle cx="275.66" cy="430.07" r="2" fill="#ff0000"/><circle cx="276.81" cy="429.71" r="2" fill="#ff0000"/><circle cx="277.95" cy="429.35" r="2" fill="#ff0000"/><circle cx="279.1" cy="429" r="2" fill="#ff0000"/><circle cx="280.24" cy="428.64" r="2" fill="#ff0000"/><circle cx="281.39" cy="428.29" r="2" fill="#ff0000"/><circle cx="282.54" cy="427.94" r="2" fill="#ff0000"/><circle cx="283.69" cy="427.6" r="2" fill="#ff0000"/><circle cx="284.84" cy="427.26" r="2" fill="#ff0000"/><circle cx="285.99" cy="426.92" r="2" fill="#ff0000"/><circle cx="287.14" cy="426.57" r="2" fill="#ff0000"/><circle cx="288.29" cy="426.23" r="2" fill="#ff0000"/><circle cx="289.45" cy="425.9" r="2" fill="#ff0000"/><circle cx="290.6" cy="425.58" r="2" fill="#ff0000"/><circle cx="291.76" cy="425.28" r="2" fill="#ff0000"/><circle cx="292.93" cy="425.02" r="2" fill="#ff0000"/><circle cx="294.11" cy="424.76" r="2" fill="#ff0000"/><circle cx="295.28" cy="424.5" r="2" fill="#ff0000"/><circle cx="296.45" cy="424.24" r="2" fill="#ff0000"/><circle cx="297.62" cy="423.99" r="2" fill="#ff0000"/><circle cx="298.79" cy="423.73" r="2" fill="#ff0000"/><circle cx="299.97" cy="423.48" r="2" fill="#ff0000"/><circle cx="301.14" cy="423.22" r="2" fill="#ff0000"/><circle cx="302.31" cy="422.97" r="2" fill="#ff0000"/>
<path d="M209.21 513.44L211.41 515.86L209.21 518.28L207.01 515.86Z" fill="#00ffff"/><path d="M209.46 512.27L211.66 514.69L209.46 517.11L207.26 514.69Z" fill="#00ffff"/><path d="M209.72 511.1L211.92 513.52L209.72 515.94L207.52 513.52Z" fill="#00ffff"/><path d="M209.98 509.92L212.18 512.34L209.98 514.76L207.78 512.34Z" fill="#00ffff"/><path d="M210.24 508.75L212.44 511.17L210.24 513.59L208.04 511.17Z" fill="#00ffff"/><path d="M210.5 507.58L212.7 510L210.5 512.42L208.3 510Z" fill="#00ffff"/><path d="M210.76 506.41L212.96 508.83L210.76 511.25L208.56 508.83Z" fill="#00ffff"/><path d="M211.02 505.24L213.22 507.66L211.02 510.08L208.82 507.66Z" fill="#00ffff"/><path d="M211.29 504.07L213.49 506.49L211.29 508.91L209.09 506.49Z" fill="#00ffff"/><path d="M211.56 502.9L213.76 505.32L211.56 507.74L209.36 505.32Z" fill="#00ffff"/><path d="M211.82 501.73L214.02 504.15L211.82 506.57L209.62 504.15Z" fill="#00ffff"/><path d="M212.09 500.56L214.29 502.98L212.09 505.4L209.89 502.98Z" fill="#00ffff"/><path d="M212.36 499.39L214.56 501.81L212.36 504.23L210.16 501.81Z" fill="#00ffff"/><path d="M212.63 498.22L214.83 500.64L212.63 503.06L210.43 500.64Z" fill="#00ffff"/><path d="M212.92 497.06L215.12 499.48L212.92 501.9L210.72 499.48Z" fill="#00ffff"/><path d="M213.2 495.89L215.4 498.31L213.2 500.73L211 498.31Z" fill="#00ffff"/><path d="M213.5 494.73L215.7 497.15L213.5 499.57L211.3 497.15Z" fill="#00ffff"/><path d="M213.81 493.57L216.01 495.99L213.81 498.41L211.61 495.99Z" fill="#00ffff"/><path d="M214.12 492.41L216.32 494.83L214.12 497.25L211.92 494.83Z" fill="#00ffff"/><path d="M214.44 491.25L216.64 493.67L214.44 496.09L212.24 493.67Z" fill="#00ffff"/><path d="M214.76 490.1L216.96 492.52L214.76 494.94L212.56 492.52Z" fill="#00ffff"/><path d="M215.09 488.94L217.29 491.36L215.09 493.78L212.89 491.36Z" fill="#00ffff"/><path d="M215.42 487.79L217.62 490.21L215.42 492.63L213.22 490.21Z" fill="#00ffff"/><path d="M215.76 486.64L217.96 489.06L215.76 491.48L213.56 489.06Z" fill="#00ffff"/><path d="M216.11 485.49L218.31 487.91L216.11 490.33L213.91 487.91Z" fill="#00ffff"/><path d="M216.46 484.34L218.66 486.76L216.46 489.18L214.26 486.76Z" fill="#00ffff"/><path d="M216.82 483.2L219.02 485.62L216.82 488.04L214.62 485.62Z" fill="#00ffff"/><path d="M217.19 482.05L219.39 484.47L217.19 486.89L214.99 484.47Z" fill="#00ffff"/><path d="M217.56 480.91L219.76 483.33L217.56 485.75L215.36 483.33Z" fill="#00ffff"/><path d="M217.94 479.77L220.14 482.19L217.94 484.61L215.74 482.19Z" fill="#00ffff"/><path d="M218.32 478.64L220.52 481.06L218.32 483.48L216.12 481.06Z" fill="#00ffff"/><path d="M218.7 477.5L220.9 479.92L218.7 482.34L216.5 479.92Z" fill="#00ffff"/><path d="M219.1 476.37L221.3 478.79L219.1 481.21L216.9 478.79Z" fill="#00ffff"/><path d="M219.5 475.24L221.7 477.66L219.5 480.08L217.3 477.66Z" fill="#00ffff"/><path d="M219.91 474.11L222.11 476.53L219.91 478.95L217.71 476.53Z" fill="#00ffff"/><path d="M220.34 472.99L222.54 475.41L220.34 477.83L218.14 475.41Z" fill="#00ffff"/><path d="M220.78 471.87L222.98 474.29L220.78 476.71L218.58 474.29Z" fill="#00ffff"/><path d="M221.23 470.76L223.43 473.18L221.23 475.6L219.03 473.18Z" fill="#00ffff"/><path d="M221.7 469.66L223.9 472.08L221.7 474.5L219.5 472.08Z" fill="#00ffff"/><path d="M222.19 468.56L224.39 470.98L222.19 473.4L219.99 470.98Z" fill="#00ffff"/><path d="M222.69 467.47L224.89 469.89L222.69 472.31L220.49 469.89Z" fill="#00ffff"/><path d="M223.2 466.38L225.4 468.8L223.2 471.22L221 468.8Z" fill="#00ffff"/><path d="M223.72 465.3L225.92 467.72L223.72 470.14L221.52 467.72Z" fill="#00ffff"/><path d="M224.25 464.22L226.45 466.64L224.25 469.06L222.05 466.64Z" fill="#00ffff"/><path d="M224.79 463.15L226.99 465.57L224.79 467.99L222.59 465.57Z" fill="#00ffff"/><path d="M225.34 462.09L227.54 464.51L225.34 466.93L223.14 464.51Z" fill="#00ffff"/><path d="M225.89 461.02L228.09 463.44L225.89 465.86L223.69 463.44Z" fill="#00ffff"/><path d="M226.46 459.96L228.66 462.38L226.46 464.8L224.26 462.38Z" fill="#00ffff"/><path d="M227.03 458.91L229.23 461.33L227.03 463.75L224.83 461.33Z" fill="#00ffff"/><path d="M227.6 457.85L229.8 460.27L227.6 462.69L225.4 460.27Z" fill="#00ffff"/><path d="M228.18 456.8L230.38 459.22L228.18 461.64L225.98 459.22Z" fill="#00ffff"/><path d="M228.76 455.75L230.96 458.17L228.76 460.59L226.56 458.17Z" fill="#00ffff"/><path d="M229.36 454.71L231.56 457.13L229.36 459.55L227.16 457.13Z" fill="#00ffff"/><path d="M229.96 453.67L232.16 456.09L229.96 458.51L227.76 456.09Z" fill="#00ffff"/><path d="M230.58 452.65L232.78 455.07L230.58 457.49L228.38 455.07Z" fill="#00ffff"/><path d="M231.22 451.63L233.42 454.05L231.22 456.47L229.02 454.05Z" fill="#00ffff"/><path d="M231.86 450.62L234.06 453.04L231.86 455.46L229.66 453.04Z" fill="#00ffff"/><path d="M232.52 449.61L234.72 452.03L232.52 454.45L230.32 452.03Z" fill="#00ffff"/><path d="M233.21 448.63L235.41 451.05L233.21 453.47L231.01 451.05Z" fill="#00ffff"/><path d="M233.92 447.67L236.12 450.09L233.92 452.51L231.72 450.09Z" fill="#00ffff"/><path d="M234.66 446.72L236.86 449.14L234.66 451.56L232.46 449.14Z" fill="#00ffff"/><path d="M235.42 445.79L237.62 448.21L235.42 450.63L233.22 448.21Z" fill="#00ffff"/><path d="M236.2 444.88L238.4 447.3L236.2 449.72L234 447.3Z" fill="#00ffff"/><path d="M237 443.98L239.2 446.4L237 448.82L234.8 446.4Z" fill="#00ffff"/><path d="M237.81 443.1L240.01 445.52L237.81 447.94L235.61 445.52Z" fill="#00ffff"/><path d="M238.65 442.24L240.85 444.66L238.65 447.08L236.45 444.66Z" fill="#00ffff"/><path d="M239.5 441.4L241.7 443.82L239.5 446.24L237.3 443.82Z" fill="#00ffff"/><path d="M240.37 440.56L242.57 442.98L240.37 445.4L238.17 442.98Z" fill="#00ffff"/><path d="M241.25 439.75L243.45 442.17L241.25 444.59L239.05 442.17Z" fill="#00ffff"/><path d="M242.15 438.97L244.35 441.39L242.15 443.81L239.95 441.39Z" fill="#00ffff"/><path d="M243.11 438.24L245.31 440.66L243.11 443.08L240.91 440.66Z" fill="#00ffff"/><path d="M244.1 437.56L246.3 439.98L244.1 442.4L241.9 439.98Z" fill="#00ffff"/><path d="M245.12 436.93L247.32 439.35L245.12 441.77L242.92 439.35Z" fill="#00ffff"/><path d="M246.17 436.34L248.37 438.76L246.17 441.18L243.97 438.76Z" fill="#00ffff"/><path d="M247.23 435.78L249.43 438.2L247.23 440.62L245.03 438.2Z" fill="#00ffff"/><path d="M248.3 435.24L250.5 437.66L248.3 440.08L246.1 437.66Z" fill="#00ffff"/><path d="M249.38 434.72L251.58 437.14L249.38 439.56L247.18 437.14Z" fill="#00ffff"/><path d="M250.47 434.22L252.67 436.64L250.47 439.06L248.27 436.64Z" fill="#00ffff"/><path d="M251.57 433.74L253.77 436.16L251.57 438.58L249.37 436.16Z" fill="#00ffff"/><path d="M252.67 433.27L254.87 435.69L252.67 438.11L250.47 435.69Z" fill="#00ffff"/><path d="M253.78 432.81L255.98 435.23L253.78 437.65L251.58 435.23Z" fill="#00ffff"/><path d="M254.9 432.36L257.1 434.78L254.9 437.2L252.7 434.78Z" fill="#00ffff"/><path d="M256.01 431.92L258.21 434.34L256.01 436.76L253.81 434.34Z" fill="#00ffff"/><path d="M257.13 431.49L259.33 433.91L257.13 436.33L254.93 433.91Z" fill="#00ffff"/><path d="M258.25 431.06L260.45 433.48L258.25 435.9L256.05 433.48Z" fill="#00ffff"/><path d="M259.37 430.63L261.57 433.05L259.37 435.47L257.17 433.05Z" fill="#00ffff"/><path d="M260.5 430.21L262.7 432.63L260.5 435.05L258.3 432.63Z" fill="#00ffff"/><path d="M261.62 429.8L263.82 432.22L261.62 434.64L259.42 432.22Z" fill="#00ffff"/><path d="M262.75 429.39L264.95 431.81L262.75 434.23L260.55 431.81Z" fill="#00ffff"/><path d="M263.88 428.99L266.08 431.41L263.88 433.83L261.68 431.41Z" fill="#00ffff"/><path d="M265.02 428.6L267.22 431.02L265.02 433.44L262.82 431.02Z" fill="#00ffff"/><path d="M266.16 428.21L268.36 430.63L266.16 433.05L263.96 430.63Z" fill="#00ffff"/><path d="M267.29 427.84L269.49 430.26L267.29 432.68L265.09 430.26Z" fill="#00ffff"/><path d="M268.44 427.47L270.64 429.89L268.44 432.31L266.24 429.89Z" fill="#00ffff"/><path d="M269.58 427.12L271.78 429.54L269.58 431.96L267.38 429.54Z" fill="#00ffff"/><path d="M270.73 426.77L272.93 429.19L270.73 431.61L268.53 429.19Z" fill="#00ffff"/><path d="M271.88 426.43L274.08 428.85L271.88 431.27L269.68 428.85Z" fill="#00ffff"/><path d="M273.04 426.1L275.24 428.52L273.04 430.94L270.84 428.52Z" fill="#00ffff"/><path d="M274.19 425.78L276.39 428.2L274.19 430.62L271.99 428.2Z" fill="#00ffff"/><path d="M275.35 425.48L277.55 427.9L275.35 430.32L273.15 427.9Z" fill="#00ffff"/><path d="M276.52 425.18L278.72 427.6L276.52 430.02L274.32 427.6Z" fill="#00ffff"/><path d="M277.68 424.9L279.88 427.32L277.68 429.74L275.48 427.32Z" fill="#00ffff"/><path d="M278.85 424.62L281.05 427.04L278.85 429.46L276.65 427.04Z" fill="#00ffff"/><path d="M280.02 424.35L282.22 426.77L280.02 429.19L277.82 426.77Z" fill="#00ffff"/><path d="M281.19 424.08L283.39 426.5L281.19 428.92L278.99 426.5Z" fill="#00ffff"/><path d="M282.36 423.82L284.56 426.24L282.36 428.66L280.16 426.24Z" fill="#00ffff"/><path d="M283.53 423.56L285.73 425.98L283.53 428.4L281.33 425.98Z" fill="#00ffff"/><path d="M284.71 423.31L286.91 425.73L284.71 428.15L282.51 425.73Z" fill="#00ffff"/><path d="M285.88 423.05L288.08 425.47L285.88 427.89L283.68 425.47Z" fill="#00ffff"/><path d="M287.05 422.8L289.25 425.22L287.05 427.64L284.85 425.22Z" fill="#00ffff"/><path d="M288.22 422.54L290.42 424.96L288.22 427.38L286.02 424.96Z" fill="#00ffff"/><path d="M289.4 422.29L291.6 424.71L289.4 427.13L287.2 424.71Z" fill="#00ffff"/><path d="M290.57 422.04L292.77 424.46L290.57 426.88L288.37 424.46Z" fill="#00ffff"/><path d="M291.75 421.8L293.95 424.22L291.75 426.64L289.55 424.22Z" fill="#00ffff"/><path d="M292.92 421.56L295.12 423.98L292.92 426.4L290.72 423.98Z" fill="#00ffff"/><path d="M294.1 421.32L296.3 423.74L294.1 426.16L291.9 423.74Z" fill="#00ffff"/><path d="M295.27 421.08L297.47 423.5L295.27 425.92L293.07 423.5Z" fill="#00ffff"/><path d="M296.45 420.85L298.65 423.27L296.45 425.69L294.25 423.27Z" fill="#00ffff"/><path d="M297.63 420.62L299.83 423.04L297.63 425.46L295.43 423.04Z" fill="#00ffff"/><path d="M298.81 420.39L301.01 422.81L298.81 425.23L296.61 422.81Z" fill="#00ffff"/><path d="M299.98 420.16L302.18 422.58L299.98 425L297.78 422.58Z" fill="#00ffff"/><path d="M301.16 419.93L303.36 422.35L301.16 424.77L298.96 422.35Z" fill="#00ffff"/><path d="M302.34 419.7L304.54 422.12L302.34 424.54L300.14 422.12Z" fill="#00ffff"/>
<path d="M202.22 515L207.54 512.2L207.54 517.8Z" fill="#ff00ff"/><path d="M202.48 513.83L207.8 511.03L207.8 516.63Z" fill="#ff00ff"/><path d="M202.73 512.66L208.05 509.86L208.05 515.46Z" fill="#ff00ff"/><path d="M202.99 511.48L208.31 508.68L208.31 514.28Z" fill="#ff00ff"/><path d="M203.25 510.31L208.57 507.51L208.57 513.11Z" fill="#ff00ff"/><path d="M203.51 509.14L208.83 506.34L208.83 511.94Z" fill="#ff00ff"/><path d="M203.77 507.97L209.09 505.17L209.09 510.77Z" fill="#ff00ff"/><path d="M204.04 506.8L209.36 504L209.36 509.6Z" fill="#ff00ff"/><path d="M204.31 505.63L209.63 502.83L209.63 508.43Z" fill="#ff00ff"/><path d="M204.57 504.46L209.89 501.66L209.89 507.26Z" fill="#ff00ff"/><path d="M204.84 503.29L210.16 500.49L210.16 506.09Z" fill="#ff00ff"/><path d="M205.1 502.12L210.42 499.32L210.42 504.92Z" fill="#ff00ff"/><path d="M205.37 500.95L210.69 498.15L210.69 503.75Z" fill="#ff00ff"/><path d="M205.65 499.78L210.97 496.98L210.97 502.58Z" fill="#ff00ff"/><path d="M205.93 498.61L211.25 495.81L211.25 501.41Z" fill="#ff00ff"/><path d="M206.22 497.45L211.54 494.65L211.54 500.25Z" fill="#ff00ff"/><path d="M206.51 496.29L211.83 493.49L211.83 499.09Z" fill="#ff00ff"/><path d="M206.82 495.13L212.14 492.33L212.14 497.93Z" fill="#ff00ff"/><path d="M207.13 493.97L212.45 491.17L212.45 496.77Z" fill="#ff00ff"/><path d="M207.45 492.81L212.77 490.01L212.77 495.61Z" fill="#ff00ff"/><path d="M207.77 491.65L213.09 488.85L213.09 494.45Z" fill="#ff00ff"/><path d="M208.1 490.5L213.42 487.7L213.42 493.3Z" fill="#ff00ff"/><path d="M208.43 489.35L213.75 486.55L213.75 492.15Z" fill="#ff00ff"/><path d="M208.77 488.2L214.09 485.4L214.09 491Z" fill="#ff00ff"/><path d="M209.11 487.05L214.43 484.25L214.43 489.85Z" fill="#ff00ff"/><path d="M209.46 485.9L214.78 483.1L214.78 488.7Z" fill="#ff00ff"/><path d="M209.82 484.75L215.14 481.95L215.14 487.55Z" fill="#ff00ff"/><path d="M210.18 483.61L215.5 480.81L215.5 486.41Z" fill="#ff00ff"/><path d="M210.56 482.47L215.88 479.67L215.88 485.27Z" fill="#ff00ff"/><path d="M210.93 481.33L216.25 478.53L216.25 484.13Z" fill="#ff00ff"/><path d="M211.31 480.19L216.63 477.39L216.63 482.99Z" fill="#ff00ff"/><path d="M211.69 479.05L217.01 476.25L217.01 481.85Z" fill="#ff00ff"/><path d="M212.08 477.92L217.4 475.12L217.4 480.72Z" fill="#ff00ff"/><path d="M212.48 476.79L217.8 473.99L217.8 479.59Z" fill="#ff00ff"/><path d="M212.89 475.66L218.21 472.86L218.21 478.46Z" fill="#ff00ff"/><path d="M213.31 474.53L218.63 471.73L218.63 477.33Z" fill="#ff00ff"/><path d="M213.74 473.41L219.06 470.61L219.06 476.21Z" fill="#ff00ff"/><path d="M214.19 472.3L219.51 469.5L219.51 475.1Z" fill="#ff00ff"/><path d="M214.65 471.19L219.97 468.39L219.97 473.99Z" fill="#ff00ff"/><path d="M215.13 470.09L220.45 467.29L220.45 472.89Z" fill="#ff00ff"/><path d="M215.62 469L220.94 466.2L220.94 471.8Z" fill="#ff00ff"/><path d="M216.12 467.91L221.44 465.11L221.44 470.71Z" fill="#ff00ff"/><path d="M216.63 466.82L221.95 464.02L221.95 469.62Z" fill="#ff00ff"/><path d="M217.15 465.74L222.47 462.94L222.47 468.54Z" fill="#ff00ff"/><path d="M217.69 464.67L223.01 461.87L223.01 467.47Z" fill="#ff00ff"/><path d="M218.23 463.59L223.55 460.79L223.55 466.39Z" fill="#ff00ff"/><path d="M218.78 462.53L224.1 459.73L224.1 465.33Z" fill="#ff00ff"/><path d="M219.34 461.47L224.66 458.67L224.66 464.27Z" fill="#ff00ff"/><path d="M219.9 460.41L225.22 457.61L225.22 463.21Z" fill="#ff00ff"/><path d="M220.47 459.35L225.79 456.55L225.79 462.15Z" fill="#ff00ff"/><path d="M221.04 458.3L226.36 455.5L226.36 461.1Z" fill="#ff00ff"/><path d="M221.62 457.24L226.94 454.44L226.94 460.04Z" fill="#ff00ff"/><path d="M222.2 456.2L227.52 453.4L227.52 459Z" fill="#ff00ff"/><path d="M222.8 455.15L228.12 452.35L228.12 457.95Z" fill="#ff00ff"/><path d="M223.4 454.12L228.72 451.32L228.72 456.92Z" fill="#ff00ff"/><path d="M224.02 453.09L229.34 450.29L229.34 455.89Z" fill="#ff00ff"/><path d="M224.66 452.07L229.98 449.27L229.98 454.87Z" fill="#ff00ff"/><path d="M225.32 451.07L230.64 448.27L230.64 453.87Z" fill="#ff00ff"/><path d="M226 450.08L231.32 447.28L231.32 452.88Z" fill="#ff00ff"/><path d="M226.71 449.11L232.03 446.31L232.03 451.91Z" fill="#ff00ff"/><path d="M227.44 448.16L232.76 445.36L232.76 450.96Z" fill="#ff00ff"/><path d="M228.2 447.23L233.52 444.43L233.52 450.03Z" fill="#ff00ff"/><path d="M228.98 446.32L234.3 443.52L234.3 449.12Z" fill="#ff00ff"/><path d="M229.78 445.42L235.1 442.62L235.1 448.22Z" fill="#ff00ff"/><path d="M230.59 444.54L235.91 441.74L235.91 447.34Z" fill="#ff00ff"/><path d="M231.43 443.68L236.75 440.88L236.75 446.48Z" fill="#ff00ff"/><path d="M232.28 442.84L237.6 440.04L237.6 445.64Z" fill="#ff00ff"/><path d="M233.15 442.01L238.47 439.21L238.47 444.81Z" fill="#ff00ff"/><path d="M234.03 441.2L239.35 438.4L239.35 444Z" fill="#ff00ff"/><path d="M234.93 440.4L240.25 437.6L240.25 443.2Z" fill="#ff00ff"/><path d="M235.84 439.62L241.16 436.82L241.16 442.42Z" fill="#ff00ff"/><path d="M236.77 438.87L242.09 436.07L242.09 441.67Z" fill="#ff00ff"/><path d="M237.74 438.15L243.06 435.35L243.06 440.95Z" fill="#ff00ff"/><path d="M238.74 437.49L244.06 434.69L244.06 440.29Z" fill="#ff00ff"/><path d="M239.76 436.86L245.08 434.06L245.08 439.66Z" fill="#ff00ff"/><path d="M240.81 436.28L246.13 433.48L246.13 439.08Z" fill="#ff00ff"/><path d="M241.87 435.72L247.19 432.92L247.19 438.52Z" fill="#ff00ff"/><path d="M242.95 435.19L248.27 432.39L248.27 437.99Z" fill="#ff00ff"/><path d="M244.04 434.69L249.36 431.89L249.36 437.49Z" fill="#ff00ff"/><path d="M245.14 434.2L250.46 431.4L250.46 437Z" fill="#ff00ff"/><path d="M246.24 433.73L251.56 430.93L251.56 436.53Z" fill="#ff00ff"/><path d="M247.35 433.28L252.67 430.48L252.67 436.08Z" fill="#ff00ff"/><path d="M248.46 432.83L253.78 430.03L253.78 435.63Z" fill="#ff00ff"/><path d="M249.58 432.39L254.9 429.59L254.9 435.19Z" fill="#ff00ff"/><path d="M250.7 431.96L256.02 429.16L256.02 434.76Z" fill="#ff00ff"/><path d="M251.82 431.54L257.14 428.74L257.14 434.34Z" fill="#ff00ff"/><path d="M252.95 431.12L258.27 428.32L258.27 433.92Z" fill="#ff00ff"/><path d="M254.08 430.71L259.4 427.91L259.4 433.51Z" fill="#ff00ff"/><path d="M255.2 430.3L260.52 427.5L260.52 433.1Z" fill="#ff00ff"/><path d="M256.33 429.9L261.65 427.1L261.65 432.7Z" fill="#ff00ff"/><path d="M257.47 429.5L262.79 426.7L262.79 432.3Z" fill="#ff00ff"/><path d="M258.6 429.11L263.92 426.31L263.92 431.91Z" fill="#ff00ff"/><path d="M259.74 428.73L265.06 425.93L265.06 431.53Z" fill="#ff00ff"/><path d="M260.88 428.35L266.2 425.55L266.2 431.15Z" fill="#ff00ff"/><path d="M262.02 427.99L267.34 425.19L267.34 430.79Z" fill="#ff00ff"/><path d="M263.17 427.63L268.49 424.83L268.49 430.43Z" fill="#ff00ff"/><path d="M264.32 427.28L269.64 424.48L269.64 430.08Z" fill="#ff00ff"/><path d="M265.47 426.94L270.79 424.14L270.79 429.74Z" fill="#ff00ff"/><path d="M266.62 426.61L271.94 423.81L271.94 429.41Z" fill="#ff00ff"/><path d="M267.78 426.29L273.1 423.49L273.1 429.09Z" fill="#ff00ff"/><path d="M268.93 425.98L274.25 423.18L274.25 428.78Z" fill="#ff00ff"/><path d="M270.1 425.67L275.42 422.87L275.42 428.47Z" fill="#ff00ff"/><path d="M271.26 425.38L276.58 422.58L276.58 428.18Z" fill="#ff00ff"/><path d="M272.43 425.11L277.75 422.31L277.75 427.91Z" fill="#ff00ff"/><path d="M273.6 424.84L278.92 422.04L278.92 427.64Z" fill="#ff00ff"/><path d="M274.77 424.58L280.09 421.78L280.09 427.38Z" fill="#ff00ff"/><path d="M275.94 424.32L281.26 421.52L281.26 427.12Z" fill="#ff00ff"/><path d="M277.12 424.07L282.44 421.27L282.44 426.87Z" fill="#ff00ff"/><path d="M278.29 423.83L283.61 421.03L283.61 426.63Z" fill="#ff00ff"/><path d="M279.47 423.59L284.79 420.79L284.79 426.39Z" fill="#ff00ff"/><path d="M280.64 423.35L285.96 420.55L285.96 426.15Z" fill="#ff00ff"/><path d="M281.82 423.12L287.14 420.32L287.14 425.92Z" fill="#ff00ff"/><path d="M283 422.88L288.32 420.08L288.32 425.68Z" fill="#ff00ff"/><path d="M284.17 422.65L289.49 419.85L289.49 425.45Z" fill="#ff00ff"/><path d="M285.35 422.41L290.67 419.61L290.67 425.21Z" fill="#ff00ff"/><path d="M286.53 422.18L291.85 419.38L291.85 424.98Z" fill="#ff00ff"/><path d="M287.71 421.96L293.03 419.16L293.03 424.76Z" fill="#ff00ff"/><path d="M288.89 421.74L294.21 418.94L294.21 424.54Z" fill="#ff00ff"/><path d="M290.07 421.52L295.39 418.72L295.39 424.32Z" fill="#ff00ff"/><path d="M291.25 421.3L296.57 418.5L296.57 424.1Z" fill="#ff00ff"/><path d="M292.43 421.09L297.75 418.29L297.75 423.89Z" fill="#ff00ff"/><path d="M293.61 420.87L298.93 418.07L298.93 423.67Z" fill="#ff00ff"/><path d="M294.79 420.66L300.11 417.86L300.11 423.46Z" fill="#ff00ff"/><path d="M295.97 420.45L301.29 417.65L301.29 423.25Z" fill="#ff00ff"/><path d="M297.15 420.24L302.47 417.44L302.47 423.04Z" fill="#ff00ff"/><path d="M298.33 420.03L303.65 417.23L303.65 422.83Z" fill="#ff00ff"/><path d="M299.51 419.82L304.83 417.02L304.83 422.62Z" fill="#ff00ff"/>
<path d="M189.08 474L193.26 471.8L193.26 476.2Z" fill="#ff00ff"/><path d="M189.71 475.69L193.89 473.49L193.89 477.89Z" fill="#ff00ff"/><path d="M190.35 477.37L194.53 475.17L194.53 479.57Z" fill="#ff00ff"/><path d="M191 479.05L195.18 476.85L195.18 481.25Z" fill="#ff00ff"/><path d="M191.7 480.7L195.88 478.5L195.88 482.9Z" fill="#ff00ff"/><path d="M192.42 482.35L196.6 480.15L196.6 484.55Z" fill="#ff00ff"/><path d="M193.09 484.03L197.27 481.83L197.27 486.23Z" fill="#ff00ff"/><path d="M193.69 485.72L197.87 483.52L197.87 487.92Z" fill="#ff00ff"/><path d="M194.25 487.43L198.43 485.23L198.43 489.63Z" fill="#ff00ff"/><path d="M194.8 489.15L198.98 486.95L198.98 491.35Z" fill="#ff00ff"/><path d="M195.37 490.85L199.55 488.65L199.55 493.05Z" fill="#ff00ff"/><path d="M195.97 492.55L200.15 490.35L200.15 494.75Z" fill="#ff00ff"/><path d="M196.55 494.26L200.73 492.06L200.73 496.46Z" fill="#ff00ff"/><path d="M197.07 495.98L201.25 493.78L201.25 498.18Z" fill="#ff00ff"/><path d="M197.55 497.71L201.73 495.51L201.73 499.91Z" fill="#ff00ff"/><path d="M198.01 499.45L202.19 497.25L202.19 501.65Z" fill="#ff00ff"/><path d="M198.44 501.2L202.62 499L202.62 503.4Z" fill="#ff00ff"/><path d="M198.85 502.96L203.03 500.76L203.03 505.16Z" fill="#ff00ff"/><path d="M199.23 504.71L203.41 502.51L203.41 506.91Z" fill="#ff00ff"/><path d="M199.58 506.48L203.76 504.28L203.76 508.68Z" fill="#ff00ff"/><path d="M199.91 508.25L204.09 506.05L204.09 510.45Z" fill="#ff00ff"/><path d="M200.23 510.02L204.41 507.82L204.41 512.22Z" fill="#ff00ff"/><path d="M200.54 511.79L204.72 509.59L204.72 513.99Z" fill="#ff00ff"/>
<rect x="191.8" y="495.5" width="3" height="3" fill="#000000"/><rect x="192.7" y="498.15" width="3" height="3" fill="#000000"/><rect x="193.6" y="500.8" width="3" height="3" fill="#000000"/><rect x="194.49" y="503.46" width="3" height="3" fill="#000000"/><rect x="195.35" y="506.12" width="3" height="3" fill="#000000"/><rect x="196.2" y="508.79" width="3" height="3" fill="#000000"/><rect x="196.99" y="511.48" width="3" height="3" fill="#000000"/><rect x="197.71" y="514.18" width="3" height="3" fill="#000000"/><rect x="198.37" y="516.9" width="3" height="3" fill="#000000"/>
<path d="M193.8 490.37L196.1 492.9L193.8 495.43L191.5 492.9Z" fill="#00ffff"/><path d="M194.57 492.64L196.87 495.17L194.57 497.7L192.27 495.17Z" fill="#00ffff"/><path d="M195.33 494.92L197.63 497.45L195.33 499.98L193.03 497.45Z" fill="#00ffff"/><path d="M196.08 497.2L198.38 499.73L196.08 502.26L193.78 499.73Z" fill="#00ffff"/><path d="M196.83 499.48L199.13 502.01L196.83 504.54L194.53 502.01Z" fill="#00ffff"/><path d="M197.58 501.76L199.88 504.29L197.58 506.82L195.28 504.29Z" fill="#00ffff"/><path d="M198.3 504.05L200.6 506.58L198.3 509.11L196 506.58Z" fill="#00ffff"/><path d="M198.97 506.35L201.27 508.88L198.97 511.41L196.67 508.88Z" fill="#00ffff"/><path d="M199.55 508.68L201.85 511.21L199.55 513.74L197.25 511.21Z" fill="#00ffff"/><path d="M200.07 511.03L202.37 513.56L200.07 516.09L197.77 513.56Z" fill="#00ffff"/><path d="M200.56 513.37L202.86 515.9L200.56 518.43L198.26 515.9Z" fill="#00ffff"/>
<polyline points="201,517 203.6,561.6 203.4,571.4" fill="none" stroke="#5a9a9a" stroke-width="0.8" stroke-linejoin="round"/>
<polyline points="207,512 203.6,545" fill="none" stroke="#7ab" stroke-width="0.6" stroke-linejoin="round"/>
<path d="M202.6 521.59L204.5 517.98L200.7 517.98Z" fill="#0000ff"/><path d="M204.5 525.59L206.4 521.98L202.6 521.98Z" fill="#0000ff"/><path d="M206.5 528.59L208.4 524.98L204.6 524.98Z" fill="#0000ff"/><path d="M203.5 536.09L205.4 532.48L201.6 532.48Z" fill="#0000ff"/><path d="M205.5 543.09L207.4 539.48L203.6 539.48Z" fill="#0000ff"/>
<path d="M201.6 516.5L205.4 514.5L205.4 518.5Z" fill="#ff00ff"/><path d="M201.9 525.2L205.7 523.2L205.7 527.2Z" fill="#ff00ff"/><path d="M201 530.5L204.8 528.5L204.8 532.5Z" fill="#ff00ff"/><path d="M201.4 550.2L205.2 548.2L205.2 552.2Z" fill="#ff00ff"/>
<path d="M200.3 518.48L202.5 520.9L200.3 523.32L198.1 520.9Z" fill="#00ffff"/><path d="M206.3 518.48L208.5 520.9L206.3 523.32L204.1 520.9Z" fill="#00ffff"/><path d="M201.4 527.18L203.6 529.6L201.4 532.02L199.2 529.6Z" fill="#00ffff"/><path d="M206.3 527.18L208.5 529.6L206.3 532.02L204.1 529.6Z" fill="#00ffff"/><path d="M205.2 533.68L207.4 536.1L205.2 538.52L203 536.1Z" fill="#00ffff"/><path d="M202.5 542.38L204.7 544.8L202.5 547.22L200.3 544.8Z" fill="#00ffff"/><path d="M203.6 559.18L205.8 561.6L203.6 564.02L201.4 561.6Z" fill="#00ffff"/>
<rect x="199.2" y="523.5" width="3.4" height="3.4" fill="#000000"/><rect x="199.2" y="531.7" width="3.4" height="3.4" fill="#000000"/><rect x="207.9" y="519.2" width="3.4" height="3.4" fill="#000000"/><rect x="201.9" y="569.7" width="3.4" height="3.4" fill="#000000"/>
<circle cx="206.8" cy="539.9" r="2" fill="#ff0000"/><circle cx="205" cy="512" r="2" fill="#ff0000"/>
<path d="M202 545.52L203.8 548.94L200.2 548.94Z" fill="#00ff00"/>
<line x1="134.5" y1="432.4" x2="151.12" y2="414.47" stroke="#111" stroke-width="0.8"/>
<path d="M153.5 411.9L151.61 416.29L149.27 414.11Z" fill="#111"/>
<line x1="149.5" y1="442.7" x2="146.58" y2="457.47" stroke="#111" stroke-width="0.8"/>
<path d="M145.9 460.9L145.2 456.18L148.34 456.8Z" fill="#111"/>
<line x1="215" y1="475.6" x2="209.96" y2="437.57" stroke="#111" stroke-width="0.8"/>
<path d="M209.5 434.1L211.68 438.35L208.51 438.77Z" fill="#111"/>
<line x1="276.5" y1="421.9" x2="275" y2="404.49" stroke="#111" stroke-width="0.8"/>
<path d="M274.7 401L276.68 405.35L273.49 405.62Z" fill="#111"/>
<line x1="264.9" y1="497.8" x2="291.91" y2="471.06" stroke="#111" stroke-width="0.8"/>
<path d="M294.4 468.6L292.33 472.9L290.08 470.63Z" fill="#111"/>
<line x1="204.2" y1="569.7" x2="226.56" y2="553.55" stroke="#111" stroke-width="0.8"/>
<path d="M229.4 551.5L226.69 555.43L224.82 552.84Z" fill="#111"/>
<text x="145.3" y="409.5" font-family="Liberation Sans" font-weight="bold" font-size="9.2" textLength="27.5" lengthAdjust="spacingAndGlyphs">15 ppm</text>
<text x="132.6" y="473" font-family="Liberation Sans" font-weight="bold" font-size="9.2" textLength="27.2" lengthAdjust="spacingAndGlyphs">20 ppm</text>
<text x="199.5" y="427.7" font-family="Liberation Sans" font-weight="bold" font-size="9.2" textLength="27.5" lengthAdjust="spacingAndGlyphs">25 ppm</text>
<text x="262.6" y="396.8" font-family="Liberation Sans" font-weight="bold" font-size="9.2" textLength="23.4" lengthAdjust="spacingAndGlyphs">5 ppm</text>
<text x="278.7" y="461.8" font-family="Liberation Sans" font-weight="bold" font-size="9.2" textLength="26.8" lengthAdjust="spacingAndGlyphs">1M HCl</text>
<text x="230.7" y="554.8" font-family="Liberation Sans" font-weight="bold" font-size="9.2" textLength="27.2" lengthAdjust="spacingAndGlyphs">10 ppm</text>
<g clip-path="url(#cD)">
<polyline points="501.55,477.82 509.27,481.33 517,484.83 524.72,487.9 532.45,492.28 540.17,497.1 547.9,501.93 555.62,508.5 563.35,516.83 571.07,533.04 578.8,561.97 586.52,526.91 594.25,513.76 601.97,506.75 609.7,500.61 617.42,495.79 625.15,491.41 632.88,487.46 640.6,483.52 648.32,480.45 656.05,477.38 663.77,474.31 671.5,471.24 679.22,468.61 686.95,464.67 694.67,461.16" fill="none" stroke="#ff00ff" stroke-width="0.6" stroke-linejoin="round"/>
<polyline points="501.55,461.16 509.27,462.92 517,465.55 524.72,468.61 532.45,471.68 540.17,475.63 547.9,480.01 555.62,485.27 563.35,493.16 571.07,505.43 578.8,541.37 586.52,511.57 594.25,496.23 601.97,488.34 609.7,482.2 617.42,476.94 625.15,473 632.88,469.49 640.6,466.86 648.32,463.79 656.05,461.6 663.77,458.97 671.5,456.78 679.22,454.59 686.95,452.4 694.67,450.64" fill="none" stroke="#333" stroke-width="0.6" stroke-linejoin="round"/>
<polyline points="501.55,462.48 509.27,464.23 517,466.86 524.72,469.93 532.45,473 540.17,476.94 547.9,481.33 555.62,486.58 563.35,494.47 571.07,506.75 578.8,550.58 586.52,512.88 594.25,497.54 601.97,489.65 609.7,483.52 617.42,478.26 625.15,474.31 632.88,470.81 640.6,468.18 648.32,465.11 656.05,462.92 663.77,460.29 671.5,458.1 679.22,455.9 686.95,453.71 694.67,451.96" fill="none" stroke="#1a9a3a" stroke-width="0.9" stroke-linejoin="round"/>
<polyline points="501.55,462.48 509.27,464.23 517,466.86 524.72,469.93 532.45,473 540.17,476.94 547.9,481.33 555.62,486.58 563.35,494.47 571.07,506.75 578.8,550.58 586.52,512.88 594.25,497.54 601.97,489.65 609.7,483.52 617.42,478.26 625.15,474.31 632.88,470.81 640.6,468.18 648.32,465.11 656.05,462.92 663.77,460.29 671.5,458.1 679.22,455.9 686.95,453.71 694.67,451.96" fill="none" stroke="#00ffff" stroke-width="0.6" stroke-linejoin="round"/>
<polyline points="501.55,454.81 509.27,456.78 517,458.97 524.72,462.04 532.45,464.67 540.17,468.18 547.9,472.56 555.62,477.82 563.35,484.83 571.07,494.91 578.8,521.65 586.52,509.81 594.25,492.28 601.97,483.08 609.7,476.94 617.42,471.68 625.15,467.74 632.88,464.23 640.6,461.16 648.32,458.1 656.05,455.9 663.77,453.27 671.5,451.08 679.22,449.33 686.95,447.14 694.67,444.95" fill="none" stroke="#5555ff" stroke-width="0.6" stroke-linejoin="round"/>
<path d="M498.8 477.82L503.55 475.32L503.55 480.32Z" fill="#ff00ff"/><path d="M506.52 481.33L511.27 478.83L511.27 483.83Z" fill="#ff00ff"/><path d="M514.25 484.83L519 482.33L519 487.33Z" fill="#ff00ff"/><path d="M521.97 487.9L526.72 485.4L526.72 490.4Z" fill="#ff00ff"/><path d="M529.7 492.28L534.45 489.78L534.45 494.78Z" fill="#ff00ff"/><path d="M537.42 497.1L542.17 494.6L542.17 499.6Z" fill="#ff00ff"/><path d="M545.15 501.93L549.9 499.43L549.9 504.43Z" fill="#ff00ff"/><path d="M552.88 508.5L557.62 506L557.62 511Z" fill="#ff00ff"/><path d="M560.6 516.83L565.35 514.33L565.35 519.33Z" fill="#ff00ff"/><path d="M568.32 533.04L573.07 530.54L573.07 535.54Z" fill="#ff00ff"/><path d="M576.05 561.97L580.8 559.47L580.8 564.47Z" fill="#ff00ff"/><path d="M583.77 526.91L588.52 524.41L588.52 529.41Z" fill="#ff00ff"/><path d="M591.5 513.76L596.25 511.26L596.25 516.26Z" fill="#ff00ff"/><path d="M599.22 506.75L603.97 504.25L603.97 509.25Z" fill="#ff00ff"/><path d="M606.95 500.61L611.7 498.11L611.7 503.11Z" fill="#ff00ff"/><path d="M614.67 495.79L619.42 493.29L619.42 498.29Z" fill="#ff00ff"/><path d="M622.4 491.41L627.15 488.91L627.15 493.91Z" fill="#ff00ff"/><path d="M630.12 487.46L634.88 484.96L634.88 489.96Z" fill="#ff00ff"/><path d="M637.85 483.52L642.6 481.02L642.6 486.02Z" fill="#ff00ff"/><path d="M645.57 480.45L650.32 477.95L650.32 482.95Z" fill="#ff00ff"/><path d="M653.3 477.38L658.05 474.88L658.05 479.88Z" fill="#ff00ff"/><path d="M661.02 474.31L665.77 471.81L665.77 476.81Z" fill="#ff00ff"/><path d="M668.75 471.24L673.5 468.74L673.5 473.74Z" fill="#ff00ff"/><path d="M676.47 468.61L681.22 466.11L681.22 471.11Z" fill="#ff00ff"/><path d="M684.2 464.67L688.95 462.17L688.95 467.17Z" fill="#ff00ff"/><path d="M691.92 461.16L696.67 458.66L696.67 463.66Z" fill="#ff00ff"/>
<circle cx="501.55" cy="453.91" r="2.1" fill="#ff0000"/><circle cx="509.27" cy="455.88" r="2.1" fill="#ff0000"/><circle cx="517" cy="458.07" r="2.1" fill="#ff0000"/><circle cx="524.72" cy="461.14" r="2.1" fill="#ff0000"/><circle cx="532.45" cy="463.77" r="2.1" fill="#ff0000"/><circle cx="540.17" cy="467.28" r="2.1" fill="#ff0000"/><circle cx="547.9" cy="471.66" r="2.1" fill="#ff0000"/><circle cx="555.62" cy="476.92" r="2.1" fill="#ff0000"/><circle cx="563.35" cy="483.93" r="2.1" fill="#ff0000"/><circle cx="571.07" cy="494.01" r="2.1" fill="#ff0000"/><circle cx="578.8" cy="520.75" r="2.1" fill="#ff0000"/><circle cx="586.52" cy="508.91" r="2.1" fill="#ff0000"/><circle cx="594.25" cy="491.38" r="2.1" fill="#ff0000"/><circle cx="601.97" cy="482.18" r="2.1" fill="#ff0000"/><circle cx="609.7" cy="476.04" r="2.1" fill="#ff0000"/><circle cx="617.42" cy="470.78" r="2.1" fill="#ff0000"/><circle cx="625.15" cy="466.84" r="2.1" fill="#ff0000"/><circle cx="632.88" cy="463.33" r="2.1" fill="#ff0000"/><circle cx="640.6" cy="460.26" r="2.1" fill="#ff0000"/><circle cx="648.32" cy="457.2" r="2.1" fill="#ff0000"/><circle cx="656.05" cy="455" r="2.1" fill="#ff0000"/><circle cx="663.77" cy="452.37" r="2.1" fill="#ff0000"/><circle cx="671.5" cy="450.18" r="2.1" fill="#ff0000"/><circle cx="679.22" cy="448.43" r="2.1" fill="#ff0000"/><circle cx="686.95" cy="446.24" r="2.1" fill="#ff0000"/><circle cx="694.67" cy="444.05" r="2.1" fill="#ff0000"/>
<path d="M501.55 458.53L503.35 461.95L499.75 461.95Z" fill="#00ff00"/><path d="M509.27 460.28L511.07 463.7L507.47 463.7Z" fill="#00ff00"/><path d="M517 462.91L518.8 466.33L515.2 466.33Z" fill="#00ff00"/><path d="M524.72 465.98L526.52 469.4L522.92 469.4Z" fill="#00ff00"/><path d="M532.45 469.05L534.25 472.47L530.65 472.47Z" fill="#00ff00"/><path d="M540.17 472.99L541.97 476.41L538.38 476.41Z" fill="#00ff00"/><path d="M547.9 477.37L549.7 480.79L546.1 480.79Z" fill="#00ff00"/><path d="M555.62 482.63L557.42 486.05L553.83 486.05Z" fill="#00ff00"/><path d="M563.35 490.52L565.15 493.94L561.55 493.94Z" fill="#00ff00"/><path d="M571.07 502.79L572.87 506.21L569.27 506.21Z" fill="#00ff00"/><path d="M578.8 542.9L580.6 546.32L577 546.32Z" fill="#00ff00"/><path d="M586.52 508.93L588.32 512.35L584.73 512.35Z" fill="#00ff00"/><path d="M594.25 493.59L596.05 497.01L592.45 497.01Z" fill="#00ff00"/><path d="M601.97 485.7L603.77 489.12L600.17 489.12Z" fill="#00ff00"/><path d="M609.7 479.56L611.5 482.98L607.9 482.98Z" fill="#00ff00"/><path d="M617.42 474.3L619.22 477.72L615.62 477.72Z" fill="#00ff00"/><path d="M625.15 470.36L626.95 473.78L623.35 473.78Z" fill="#00ff00"/><path d="M632.88 466.85L634.67 470.27L631.08 470.27Z" fill="#00ff00"/><path d="M640.6 464.22L642.4 467.64L638.8 467.64Z" fill="#00ff00"/><path d="M648.32 461.16L650.12 464.58L646.52 464.58Z" fill="#00ff00"/><path d="M656.05 458.96L657.85 462.38L654.25 462.38Z" fill="#00ff00"/><path d="M663.77 456.33L665.57 459.75L661.98 459.75Z" fill="#00ff00"/><path d="M671.5 454.14L673.3 457.56L669.7 457.56Z" fill="#00ff00"/><path d="M679.22 451.95L681.02 455.37L677.42 455.37Z" fill="#00ff00"/><path d="M686.95 449.76L688.75 453.18L685.15 453.18Z" fill="#00ff00"/><path d="M694.67 448.01L696.47 451.43L692.88 451.43Z" fill="#00ff00"/>
<rect x="499.85" y="459.46" width="3.4" height="3.4" fill="#000000"/><rect x="507.57" y="461.22" width="3.4" height="3.4" fill="#000000"/><rect x="515.3" y="463.85" width="3.4" height="3.4" fill="#000000"/><rect x="523.02" y="466.91" width="3.4" height="3.4" fill="#000000"/><rect x="530.75" y="469.98" width="3.4" height="3.4" fill="#000000"/><rect x="538.47" y="473.93" width="3.4" height="3.4" fill="#000000"/><rect x="546.2" y="478.31" width="3.4" height="3.4" fill="#000000"/><rect x="553.92" y="483.57" width="3.4" height="3.4" fill="#000000"/><rect x="561.65" y="491.46" width="3.4" height="3.4" fill="#000000"/><rect x="569.37" y="503.73" width="3.4" height="3.4" fill="#000000"/><rect x="577.1" y="539.67" width="3.4" height="3.4" fill="#000000"/><rect x="584.82" y="509.87" width="3.4" height="3.4" fill="#000000"/><rect x="592.55" y="494.53" width="3.4" height="3.4" fill="#000000"/><rect x="600.27" y="486.64" width="3.4" height="3.4" fill="#000000"/><rect x="608" y="480.5" width="3.4" height="3.4" fill="#000000"/><rect x="615.72" y="475.24" width="3.4" height="3.4" fill="#000000"/><rect x="623.45" y="471.3" width="3.4" height="3.4" fill="#000000"/><rect x="631.17" y="467.79" width="3.4" height="3.4" fill="#000000"/><rect x="638.9" y="465.16" width="3.4" height="3.4" fill="#000000"/><rect x="646.62" y="462.09" width="3.4" height="3.4" fill="#000000"/><rect x="654.35" y="459.9" width="3.4" height="3.4" fill="#000000"/><rect x="662.07" y="457.27" width="3.4" height="3.4" fill="#000000"/><rect x="669.8" y="455.08" width="3.4" height="3.4" fill="#000000"/><rect x="677.52" y="452.89" width="3.4" height="3.4" fill="#000000"/><rect x="685.25" y="450.7" width="3.4" height="3.4" fill="#000000"/><rect x="692.97" y="448.94" width="3.4" height="3.4" fill="#000000"/>
<path d="M501.55 459.62L504.15 462.48L501.55 465.34L498.95 462.48Z" fill="#00ffff"/><path d="M509.27 461.37L511.88 464.23L509.27 467.09L506.67 464.23Z" fill="#00ffff"/><path d="M517 464L519.6 466.86L517 469.72L514.4 466.86Z" fill="#00ffff"/><path d="M524.72 467.07L527.32 469.93L524.72 472.79L522.12 469.93Z" fill="#00ffff"/><path d="M532.45 470.14L535.05 473L532.45 475.86L529.85 473Z" fill="#00ffff"/><path d="M540.17 474.08L542.77 476.94L540.17 479.8L537.57 476.94Z" fill="#00ffff"/><path d="M547.9 478.47L550.5 481.33L547.9 484.19L545.3 481.33Z" fill="#00ffff"/><path d="M555.62 483.72L558.23 486.58L555.62 489.44L553.02 486.58Z" fill="#00ffff"/><path d="M563.35 491.61L565.95 494.47L563.35 497.33L560.75 494.47Z" fill="#00ffff"/><path d="M571.07 503.89L573.67 506.75L571.07 509.61L568.47 506.75Z" fill="#00ffff"/><path d="M578.8 547.72L581.4 550.58L578.8 553.44L576.2 550.58Z" fill="#00ffff"/><path d="M586.52 510.02L589.12 512.88L586.52 515.74L583.92 512.88Z" fill="#00ffff"/><path d="M594.25 494.68L596.85 497.54L594.25 500.4L591.65 497.54Z" fill="#00ffff"/><path d="M601.97 486.79L604.57 489.65L601.97 492.51L599.37 489.65Z" fill="#00ffff"/><path d="M609.7 480.66L612.3 483.52L609.7 486.38L607.1 483.52Z" fill="#00ffff"/><path d="M617.42 475.4L620.02 478.26L617.42 481.12L614.82 478.26Z" fill="#00ffff"/><path d="M625.15 471.45L627.75 474.31L625.15 477.17L622.55 474.31Z" fill="#00ffff"/><path d="M632.88 467.95L635.48 470.81L632.88 473.67L630.27 470.81Z" fill="#00ffff"/><path d="M640.6 465.32L643.2 468.18L640.6 471.04L638 468.18Z" fill="#00ffff"/><path d="M648.32 462.25L650.92 465.11L648.32 467.97L645.72 465.11Z" fill="#00ffff"/><path d="M656.05 460.06L658.65 462.92L656.05 465.78L653.45 462.92Z" fill="#00ffff"/><path d="M663.77 457.43L666.38 460.29L663.77 463.15L661.17 460.29Z" fill="#00ffff"/><path d="M671.5 455.24L674.1 458.1L671.5 460.96L668.9 458.1Z" fill="#00ffff"/><path d="M679.22 453.04L681.82 455.9L679.22 458.76L676.62 455.9Z" fill="#00ffff"/><path d="M686.95 450.85L689.55 453.71L686.95 456.57L684.35 453.71Z" fill="#00ffff"/><path d="M694.67 449.1L697.27 451.96L694.67 454.82L692.07 451.96Z" fill="#00ffff"/>
<path d="M501.55 457.56L504.05 452.81L499.05 452.81Z" fill="#0000ff"/><path d="M509.27 459.53L511.77 454.78L506.77 454.78Z" fill="#0000ff"/><path d="M517 461.72L519.5 456.97L514.5 456.97Z" fill="#0000ff"/><path d="M524.72 464.79L527.22 460.04L522.22 460.04Z" fill="#0000ff"/><path d="M532.45 467.42L534.95 462.67L529.95 462.67Z" fill="#0000ff"/><path d="M540.17 470.93L542.67 466.18L537.67 466.18Z" fill="#0000ff"/><path d="M547.9 475.31L550.4 470.56L545.4 470.56Z" fill="#0000ff"/><path d="M555.62 480.57L558.12 475.82L553.12 475.82Z" fill="#0000ff"/><path d="M563.35 487.58L565.85 482.83L560.85 482.83Z" fill="#0000ff"/><path d="M571.07 497.66L573.57 492.91L568.57 492.91Z" fill="#0000ff"/><path d="M578.8 524.4L581.3 519.65L576.3 519.65Z" fill="#0000ff"/><path d="M586.52 512.56L589.02 507.81L584.02 507.81Z" fill="#0000ff"/><path d="M594.25 495.03L596.75 490.28L591.75 490.28Z" fill="#0000ff"/><path d="M601.97 485.83L604.47 481.08L599.47 481.08Z" fill="#0000ff"/><path d="M609.7 479.69L612.2 474.94L607.2 474.94Z" fill="#0000ff"/><path d="M617.42 474.43L619.92 469.68L614.92 469.68Z" fill="#0000ff"/><path d="M625.15 470.49L627.65 465.74L622.65 465.74Z" fill="#0000ff"/><path d="M632.88 466.98L635.38 462.23L630.38 462.23Z" fill="#0000ff"/><path d="M640.6 463.91L643.1 459.16L638.1 459.16Z" fill="#0000ff"/><path d="M648.32 460.85L650.82 456.1L645.82 456.1Z" fill="#0000ff"/><path d="M656.05 458.65L658.55 453.9L653.55 453.9Z" fill="#0000ff"/><path d="M663.77 456.02L666.27 451.27L661.27 451.27Z" fill="#0000ff"/><path d="M671.5 453.83L674 449.08L669 449.08Z" fill="#0000ff"/><path d="M679.22 452.08L681.72 447.33L676.72 447.33Z" fill="#0000ff"/><path d="M686.95 449.89L689.45 445.14L684.45 445.14Z" fill="#0000ff"/><path d="M694.67 447.7L697.17 442.95L692.17 442.95Z" fill="#0000ff"/>
</g>
<line x1="540" y1="470.5" x2="548.99" y2="440.75" stroke="#111" stroke-width="0.8"/>
<path d="M550 437.4L550.23 442.17L547.17 441.24Z" fill="#111"/>
<line x1="640.7" y1="460.3" x2="631.13" y2="442.19" stroke="#111" stroke-width="0.8"/>
<path d="M629.5 439.1L633.02 442.33L630.19 443.83Z" fill="#111"/>
<line x1="548.2" y1="482.7" x2="528.61" y2="508.61" stroke="#111" stroke-width="0.8"/>
<path d="M526.5 511.4L527.94 506.85L530.49 508.78Z" fill="#111"/>
<line x1="631.6" y1="488.5" x2="644.73" y2="507.81" stroke="#111" stroke-width="0.8"/>
<path d="M646.7 510.7L642.85 507.88L645.49 506.08Z" fill="#111"/>
<line x1="580" y1="544" x2="617" y2="544" stroke="#111" stroke-width="0.8"/>
<path d="M620.5 544L616 545.6L616 542.4Z" fill="#111"/>
<line x1="576.4" y1="542.5" x2="544.21" y2="550.01" stroke="#111" stroke-width="0.8"/>
<path d="M540.8 550.8L544.82 548.22L545.55 551.34Z" fill="#111"/>
<text x="539.7" y="433.1" font-family="Liberation Sans" font-weight="bold" font-size="9.2" textLength="26.9" lengthAdjust="spacingAndGlyphs">20 ppm</text>
<text x="615" y="434" font-family="Liberation Sans" font-weight="bold" font-size="9.2" textLength="26.2" lengthAdjust="spacingAndGlyphs">1M HCl</text>
<text x="513" y="521.5" font-family="Liberation Sans" font-weight="bold" font-size="9.2" textLength="26.4" lengthAdjust="spacingAndGlyphs">15 ppm</text>
<text x="636.6" y="522.9" font-family="Liberation Sans" font-weight="bold" font-size="9.2" textLength="26.3" lengthAdjust="spacingAndGlyphs">25 ppm</text>
<text x="624.1" y="547" font-family="Liberation Sans" font-weight="bold" font-size="9.2" textLength="25.6" lengthAdjust="spacingAndGlyphs">10 ppm</text>
<text x="514.8" y="555.7" font-family="Liberation Sans" font-weight="bold" font-size="9.2" textLength="22.1" lengthAdjust="spacingAndGlyphs">5 ppm</text>
</svg>
</body></html>
